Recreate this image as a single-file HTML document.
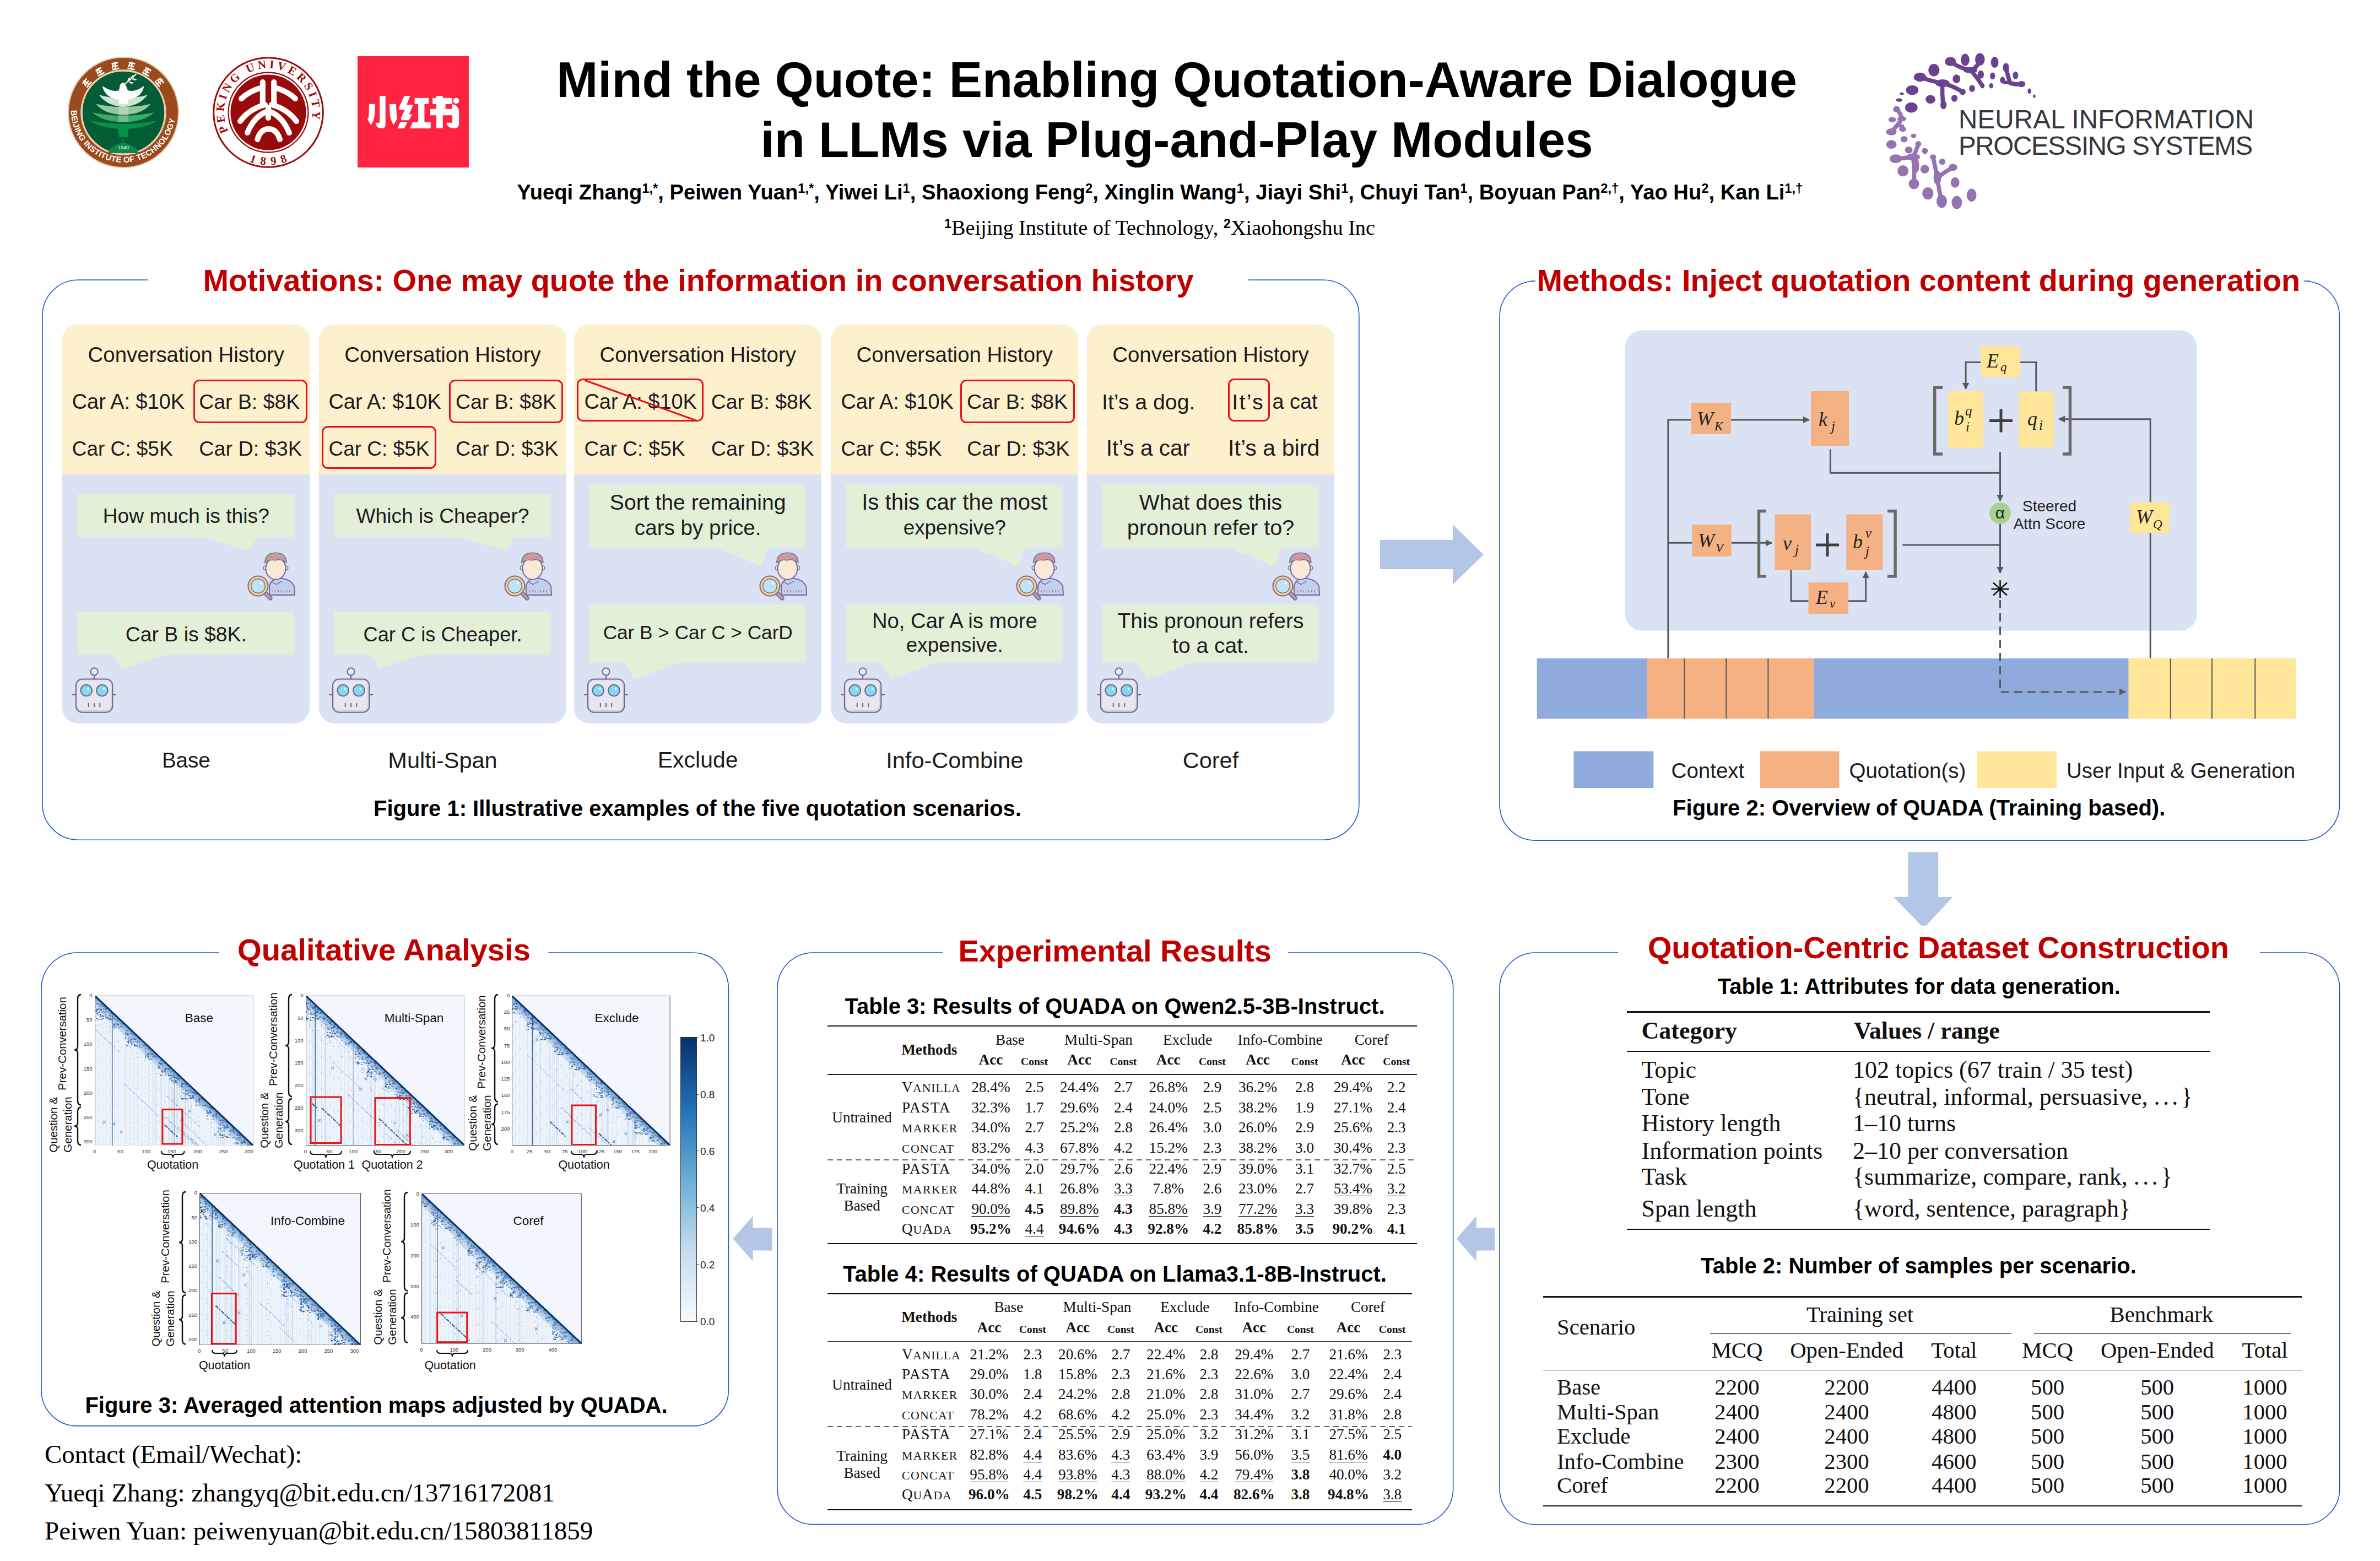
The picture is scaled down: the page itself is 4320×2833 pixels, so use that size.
<!DOCTYPE html>
<html><head><meta charset="utf-8"><style>
html,body{margin:0;padding:0;background:#fff;}
body{width:4320px;height:2833px;position:relative;overflow:hidden;}
.t{position:absolute;white-space:nowrap;}
.a{position:absolute;}
sup{font-size:0.62em;vertical-align:0.52em;line-height:0;}
.sc{font-size:0.8em;}
</style></head><body>
<svg class="a" style="left:120.5px;top:100.5px" width="206" height="206" viewBox="-103 -103 206 206">
<defs><path id="bitarc" d="M-95 -4 A95 95 0 1 0 95 -4"/></defs>
<circle r="100" fill="#9a4a1c" stroke="#e6c7a4" stroke-width="2"/>
<circle r="76" fill="#045c36" stroke="#ecd0ad" stroke-width="3.5"/>
<text font-family="Liberation Sans" font-weight="700" font-size="14.8" fill="#fff"><textPath href="#bitarc" textLength="282" lengthAdjust="spacing">BEIJING INSTITUTE OF TECHNOLOGY</textPath></text>
<g transform="translate(-66.8 -54.1) rotate(-51.0)" fill="#fff"><rect x="-6" y="-6" width="12" height="2.6"/><rect x="-5" y="-0.5" width="10" height="2.4"/><rect x="-6.5" y="4.5" width="13" height="2.6"/><rect x="-1.3" y="-7" width="2.6" height="14"/><rect x="-5.5" y="-3" width="2.2" height="8" transform="rotate(20)"/></g><g transform="translate(-43.0 -74.5) rotate(-30.0)" fill="#fff"><rect x="-6" y="-6" width="12" height="2.6"/><rect x="-5" y="-0.5" width="10" height="2.4"/><rect x="-6.5" y="4.5" width="13" height="2.6"/><rect x="-1.3" y="-7" width="2.6" height="14"/><rect x="-5.5" y="-3" width="2.2" height="8" transform="rotate(20)"/></g><g transform="translate(-14.9 -84.7) rotate(-10.0)" fill="#fff"><rect x="-6" y="-6" width="12" height="2.6"/><rect x="-5" y="-0.5" width="10" height="2.4"/><rect x="-6.5" y="4.5" width="13" height="2.6"/><rect x="-1.3" y="-7" width="2.6" height="14"/><rect x="-5.5" y="-3" width="2.2" height="8" transform="rotate(20)"/></g><g transform="translate(14.9 -84.7) rotate(10.0)" fill="#fff"><rect x="-6" y="-6" width="12" height="2.6"/><rect x="-5" y="-0.5" width="10" height="2.4"/><rect x="-6.5" y="4.5" width="13" height="2.6"/><rect x="-1.3" y="-7" width="2.6" height="14"/><rect x="-5.5" y="-3" width="2.2" height="8" transform="rotate(20)"/></g><g transform="translate(43.0 -74.5) rotate(30.0)" fill="#fff"><rect x="-6" y="-6" width="12" height="2.6"/><rect x="-5" y="-0.5" width="10" height="2.4"/><rect x="-6.5" y="4.5" width="13" height="2.6"/><rect x="-1.3" y="-7" width="2.6" height="14"/><rect x="-5.5" y="-3" width="2.2" height="8" transform="rotate(20)"/></g><g transform="translate(65.9 -55.3) rotate(50.0)" fill="#fff"><rect x="-6" y="-6" width="12" height="2.6"/><rect x="-5" y="-0.5" width="10" height="2.4"/><rect x="-6.5" y="4.5" width="13" height="2.6"/><rect x="-1.3" y="-7" width="2.6" height="14"/><rect x="-5.5" y="-3" width="2.2" height="8" transform="rotate(20)"/></g>
<path d="M-44.4 -31.7 Q0 -20 43.7 -31.7 Q30 -12 0 -9.9 Q-30 -12 -44.4 -31.7Z" fill="#cde5d3"/>
<path d="M-50 -15.5 Q0 -4 49.6 -15.5 Q34 4 0 4.2 Q-34 4 -50 -15.5Z" fill="#93c9a0"/>
<path d="M-56.4 0 Q0 12 55.9 0 Q38 17 0 17.6 Q-38 17 -56.4 0Z" fill="#3fa96a"/>
<path d="M-61.3 14.8 Q0 27 61.3 14.8 Q42 29 0 30.4 Q-42 29 -61.3 14.8Z" fill="#05934a"/>
<path d="M-10 -12 H10 L8 4 H-8Z M-9 4 H9 L9 17 H-9Z" fill="#ffffff" fill-opacity="0.25"/>
<path d="M-9.9 30 L9.2 30 L8 44.8 L-8 44.8Z" fill="#05934a"/>
<path d="M-38.3 -48 Q-20 -36 -8 -40 L-6 -50 Q0 -58 4 -50 L8 -40 Q20 -36 37.4 -48 Q34 -30 18 -26 Q12 -22 8 -24 L8.5 -14.8 L-8.5 -14.8 L-8 -24 Q-12 -22 -18 -26 Q-34 -30 -38.3 -48Z" fill="#fff"/>
<path d="M3 -52 Q14 -60 23.3 -69.8" stroke="#fff" stroke-width="2" fill="none"/>
<g fill="#fff"><ellipse cx="10" cy="-60" rx="4" ry="1.6" transform="rotate(-60 10 -60)"/><ellipse cx="16" cy="-64" rx="4" ry="1.6" transform="rotate(-60 16 -64)"/><ellipse cx="14" cy="-54" rx="4" ry="1.6" transform="rotate(10 14 -54)"/><ellipse cx="20" cy="-60" rx="4" ry="1.6" transform="rotate(10 20 -60)"/></g>
<path d="M-1 47.9 V56 M-26.8 73 Q-20 60 0 56 Q20 60 26.8 73Z" fill="#10874a" stroke="#10874a" stroke-width="2"/>
<text x="0" y="66.5" font-family="Liberation Sans" font-size="9" fill="#e8f4ec" text-anchor="middle">1940</text>
</svg><svg class="a" style="left:383.7px;top:100.5px" width="206" height="206" viewBox="-103 -103 206 206">
<defs><path id="pkuarc" d="M-72.5 34.5 A80.3 80.3 0 1 1 72.5 34.5"/></defs>
<circle r="99.3" fill="#fff" stroke="#990a0a" stroke-width="3"/>
<circle r="72.4" fill="none" stroke="#990a0a" stroke-width="2.2"/>
<circle r="68.6" fill="#990a0a"/>
<text font-family="Liberation Serif" font-size="21" font-weight="700" fill="#990a0a"><textPath href="#pkuarc" textLength="300" lengthAdjust="spacing">PEKING UNIVERSITY</textPath></text>
<g font-family="Liberation Serif" font-size="21" font-weight="700" fill="#990a0a" text-anchor="middle">
<text transform="translate(-30 91) rotate(20)">1</text><text transform="translate(-10 95) rotate(6)">8</text><text transform="translate(10 95) rotate(-6)">9</text><text transform="translate(30 91) rotate(-20)">8</text></g>
<g fill="none" stroke="#fff" stroke-width="10" stroke-linecap="round">
<path d="M-10.2 -55 V-14"/><path d="M10.2 -55 V-14"/>
<path d="M-15 -44 Q-35 -38 -49 -25"/><path d="M15 -44 Q35 -38 49 -25"/>
<path d="M-6 -14 Q-35 -6 -51 16"/><path d="M6 -14 Q35 -6 51 16"/>
<path d="M0 -8 V10"/>
<path d="M-4 -1 Q-26 8 -38 37"/><path d="M4 -1 Q26 8 38 37"/>
<path d="M-19.7 49 Q-14 30 0.5 30 Q15 30 21 49"/>
</g>
</svg><svg class="a" style="left:649px;top:102px" width="202" height="202" viewBox="-145.4 -766.9 2670.8 2670.8">
<rect x="-145.4" y="-766.9" width="2670.8" height="2670.8" fill="#fe2341"/>
<g fill="#fff">
<path d="M385 185H525V880Q525 962 440 962H420Q292 962 285 830H385Z"/>
<path d="M135 380H280L262 650Q250 780 175 885L90 740L120 700Z"/>
<path d="M620 380H775L800 740L720 885Q640 760 630 600Z"/>
<path d="M975 185H1115L1035 395H1190L1090 630H1165L1085 770H905L895 720L990 520H870Q840 500 855 450Z"/>
<path d="M880 815H1050L975 965H810Z"/>
<path d="M1225 235H1560V380H1460V815H1610V965H1110L1175 815H1310V380H1225Z"/>
<path d="M1745 185H1900V235H2130V385H1965V495H1900V500H2120V385Q2290 400 2290 600V850Q2290 962 2180 962Q2000 962 1990 830H2130V650H1900V960H1745V650H1600V500H1745V385H1655V235H1745Z"/>
<circle cx="2222" cy="300" r="70"/>
</g></svg><svg class="a" style="left:3400px;top:80px" width="750" height="320" viewBox="0 0 2380 1015"><ellipse cx="530" cy="90" rx="25" ry="35" fill="#6a4290"/><ellipse cx="615" cy="88" rx="28" ry="36" fill="#6a4290"/><ellipse cx="445" cy="100" rx="32" ry="26" fill="#6a4290"/><ellipse cx="350" cy="150" rx="32" ry="36" fill="#6a4290"/><ellipse cx="270" cy="190" rx="36" ry="26" fill="#6a4290"/><ellipse cx="700" cy="105" rx="22" ry="32" fill="#6a4290"/><ellipse cx="765" cy="135" rx="18" ry="26" fill="#6a4290"/><ellipse cx="820" cy="180" rx="16" ry="22" fill="#6a4290"/><ellipse cx="620" cy="175" rx="18" ry="24" fill="#6a4290"/><ellipse cx="688" cy="183" rx="15" ry="20" fill="#6a4290"/><ellipse cx="745" cy="207" rx="14" ry="19" fill="#6a4290"/><ellipse cx="480" cy="200" rx="22" ry="25" fill="#6a4290"/><ellipse cx="515" cy="275" rx="18" ry="18" fill="#6a4290"/><ellipse cx="570" cy="255" rx="17" ry="20" fill="#6a4290"/><ellipse cx="630" cy="240" rx="12" ry="15" fill="#6a4290"/><ellipse cx="680" cy="240" rx="12" ry="15" fill="#6a4290"/><ellipse cx="855" cy="230" rx="22" ry="18" fill="#6a4290"/><ellipse cx="900" cy="270" rx="10" ry="15" fill="#6a4290"/><ellipse cx="928" cy="300" rx="7" ry="10" fill="#6a4290"/><ellipse cx="225" cy="265" rx="36" ry="28" fill="#6a4290"/><ellipse cx="330" cy="318" rx="28" ry="25" fill="#6a4290"/><ellipse cx="468" cy="312" rx="18" ry="20" fill="#6a4290"/><ellipse cx="405" cy="350" rx="18" ry="25" fill="#6a4290"/><ellipse cx="220" cy="365" rx="36" ry="30" fill="#6a4290"/><ellipse cx="165" cy="285" rx="12" ry="7" fill="#6a4290"/><ellipse cx="150" cy="322" rx="18" ry="10" fill="#6a4290"/><ellipse cx="400" cy="225" rx="40" ry="22" fill="#6a4290"/><ellipse cx="560" cy="150" rx="40" ry="18" fill="#6a4290"/><ellipse cx="770" cy="220" rx="30" ry="10" fill="#6a4290"/><ellipse cx="135" cy="375" rx="20" ry="18" fill="#9572b0"/><ellipse cx="165" cy="430" rx="25" ry="15" fill="#9572b0"/><ellipse cx="110" cy="435" rx="22" ry="15" fill="#9572b0"/><ellipse cx="105" cy="505" rx="30" ry="20" fill="#9572b0"/><ellipse cx="170" cy="490" rx="20" ry="15" fill="#9572b0"/><ellipse cx="233" cy="528" rx="16" ry="12" fill="#9572b0"/><ellipse cx="178" cy="548" rx="20" ry="18" fill="#9572b0"/><ellipse cx="105" cy="578" rx="30" ry="25" fill="#9572b0"/><ellipse cx="260" cy="575" rx="17" ry="17" fill="#9572b0"/><ellipse cx="205" cy="610" rx="22" ry="20" fill="#9572b0"/><ellipse cx="298" cy="615" rx="17" ry="17" fill="#9572b0"/><ellipse cx="130" cy="660" rx="35" ry="25" fill="#9572b0"/><ellipse cx="230" cy="650" rx="40" ry="20" fill="#9572b0"/><ellipse cx="345" cy="650" rx="18" ry="15" fill="#9572b0"/><ellipse cx="398" cy="677" rx="18" ry="18" fill="#9572b0"/><ellipse cx="460" cy="710" rx="25" ry="20" fill="#9572b0"/><ellipse cx="172" cy="730" rx="32" ry="32" fill="#9572b0"/><ellipse cx="297" cy="720" rx="25" ry="25" fill="#9572b0"/><ellipse cx="370" cy="770" rx="22" ry="40" fill="#9572b0"/><ellipse cx="472" cy="797" rx="25" ry="30" fill="#9572b0"/><ellipse cx="235" cy="805" rx="30" ry="30" fill="#9572b0"/><ellipse cx="315" cy="860" rx="32" ry="35" fill="#9572b0"/><ellipse cx="395" cy="905" rx="30" ry="38" fill="#9572b0"/><ellipse cx="482" cy="912" rx="30" ry="38" fill="#9572b0"/><ellipse cx="567" cy="870" rx="28" ry="37" fill="#9572b0"/><ellipse cx="250" cy="700" rx="15" ry="40" fill="#9572b0"/><ellipse cx="150" cy="470" rx="30" ry="10" fill="#9572b0"/><g fill="none" stroke-linecap="round"><g stroke="#6a4290" stroke-width="24"><path d="M445 100 Q500 140 560 150 Q600 140 615 88"/><path d="M560 150 Q600 190 628 240"/><path d="M270 190 Q340 215 400 225 Q460 240 515 275"/><path d="M400 225 Q395 290 405 350"/><path d="M765 135 Q780 200 790 225 Q830 235 855 230"/></g><g stroke="#9572b0" stroke-width="24"><path d="M130 660 Q190 655 230 650 Q250 610 260 575"/><path d="M230 650 Q240 720 235 805"/><path d="M345 650 Q360 720 370 770 Q420 730 460 710"/><path d="M370 770 Q380 850 395 905"/><path d="M135 375 Q160 400 165 430 Q140 470 105 505"/></g></g></svg><div class="t" style="left:3555.0px;top:192.8px;font:400 47.5px/1 'Liberation Sans', sans-serif;color:#34373c;letter-spacing:0.18px;">NEURAL INFORMATION</div><div class="t" style="left:3555.0px;top:240.8px;font:400 47.5px/1 'Liberation Sans', sans-serif;color:#34373c;letter-spacing:-1.34px;">PROCESSING SYSTEMS</div><div class="t" style="left:-864.0px;width:6000px;text-align:center;top:100.3px;font:700 90.35px/1 'Liberation Sans', sans-serif;color:#000;">Mind the Quote: Enabling Quotation-Aware Dialogue</div><div class="t" style="left:-864.0px;width:6000px;text-align:center;top:208.5px;font:700 90.35px/1 'Liberation Sans', sans-serif;color:#000;">in LLMs via Plug-and-Play Modules</div><div class="t" style="left:-894.7px;width:6000px;text-align:center;top:330.1px;font:700 38.2px/1 'Liberation Sans', sans-serif;color:#000;">Yueqi Zhang<sup>1,*</sup>, Peiwen Yuan<sup>1,*</sup>, Yiwei Li<sup>1</sup>, Shaoxiong Feng<sup>2</sup>, Xinglin Wang<sup>1</sup>, Jiayi Shi<sup>1</sup>, Chuyi Tan<sup>1</sup>, Boyuan Pan<sup>2,†</sup>, Yao Hu<sup>2</sup>, Kan Li<sup>1,†</sup></div><div class="t" style="left:-895.1px;width:6000px;text-align:center;top:393.8px;font:400 38.2px/1 'Liberation Serif', serif;color:#000;"><sup style="font-family:Liberation Sans;font-weight:700">1</sup>Beijing Institute of Technology, <sup style="font-family:Liberation Sans;font-weight:700">2</sup>Xiaohongshu Inc</div><svg class="a" style="left:74.6px;top:506.3px" width="2393.9" height="1020.2" viewBox="74.6 506.3 2393.9 1020.2"><path d="M268 508.3 H141.6 A65 65 0 0 0 76.6 573.3 V1459.5 A65 65 0 0 0 141.6 1524.5 H2401.5 A65 65 0 0 0 2466.5 1459.5 V573.3 A65 65 0 0 0 2401.5 508.3 H2265" fill="none" stroke="#1f58c4" stroke-width="1.6"/></svg><div class="t" style="left:368.5px;top:481.3px;font:700 55.8px/1 'Liberation Sans', sans-serif;color:#c00000;">Motivations: One may quote the information in conversation history</div><svg width="0" height="0" style="position:absolute"><defs>
<symbol id="person" viewBox="1600 60 440 440">
<path d="M1800 440 L1800 372 Q1802 312 1862 296 L1900 292 Q1992 302 2020 362 L2025 440 Z" fill="#c4cfeb" stroke="#7b6b9c" stroke-width="10" stroke-linejoin="round"/>
<path d="M1815 318 L1860 346 L1910 318" fill="none" stroke="#7b6b9c" stroke-width="8"/>
<circle cx="1764" cy="200" r="17" fill="#f9ead8" stroke="#7b6b9c" stroke-width="8"/>
<circle cx="1948" cy="200" r="17" fill="#f9ead8" stroke="#7b6b9c" stroke-width="8"/>
<ellipse cx="1856" cy="205" rx="88" ry="98" fill="#f9ead8" stroke="#7b6b9c" stroke-width="10"/>
<path d="M1760 155 Q1762 66 1858 66 Q1952 68 1950 155 Q1904 116 1852 132 Q1798 122 1760 155 Z" fill="#c99a9b" stroke="#7b6b9c" stroke-width="8" stroke-linejoin="round"/>
<g stroke="#7b6b9c" stroke-width="5"><path d="M1830 398v14M1855 398v14M1880 398v14M1905 398v14M1930 398v14M1955 398v14M1980 398v14"/></g>
<line x1="1765" y1="425" x2="1808" y2="468" stroke="#7b6b9c" stroke-width="38" stroke-linecap="round"/>
<line x1="1765" y1="425" x2="1808" y2="468" stroke="#c99a9b" stroke-width="20" stroke-linecap="round"/>
<circle cx="1700" cy="360" r="88" fill="#f3d37c" stroke="#7b6b9c" stroke-width="10"/>
<circle cx="1700" cy="360" r="62" fill="#bfe3f6" stroke="#7b6b9c" stroke-width="7"/>
<circle cx="1726" cy="336" r="9" fill="#fff"/>
</symbol>
<symbol id="robot" viewBox="40 1070 420 430">
<path d="M55 1322H88M412 1322H445M250 1150V1185" stroke="#6f6692" stroke-width="10"/>
<circle cx="250" cy="1118" r="32" fill="#ebe9f2" stroke="#6f6692" stroke-width="10"/>
<rect x="88" y="1185" width="324" height="293" rx="55" fill="#d6d4e2" stroke="#6f6692" stroke-width="10"/>
<rect x="100" y="1195" width="296" height="262" rx="45" fill="#e8e7ef"/>
<circle cx="180" cy="1285" r="50" fill="#86d8f2" stroke="#6f6692" stroke-width="10"/>
<circle cx="320" cy="1285" r="50" fill="#86d8f2" stroke="#6f6692" stroke-width="10"/>
<circle cx="196" cy="1272" r="9" fill="#e4f7fd"/><circle cx="336" cy="1272" r="9" fill="#e4f7fd"/>
<path d="M200 1395V1432M250 1395V1432M300 1395V1432" stroke="#6f6692" stroke-width="10"/>
</symbol>
</defs></svg><div class="a" style="left:113.3px;top:589.2px;width:449px;height:723.8px;border-radius:28px;overflow:hidden;background:#dae2f4"><div style="height:272.1px;background:#fdf0cc"></div></div><div class="t" style="left:-2662.2px;width:6000px;text-align:center;top:624.5px;font:400 38.42px/1 'Liberation Sans', sans-serif;color:#1c1c1c;">Conversation History</div><div class="t" style="left:130.7px;top:710.9px;font:400 37.91px/1 'Liberation Sans', sans-serif;color:#1c1c1c;">Car A: $10K</div><div class="t" style="left:361.3px;top:711.3px;font:400 37.4px/1 'Liberation Sans', sans-serif;color:#1c1c1c;">Car B: $8K</div><div class="t" style="left:130.7px;top:796.2px;font:400 36.98px/1 'Liberation Sans', sans-serif;color:#1c1c1c;">Car C: $5K</div><div class="t" style="left:361.3px;top:795.6px;font:400 37.71px/1 'Liberation Sans', sans-serif;color:#1c1c1c;">Car D: $3K</div><svg class="a" style="left:113.3px;top:589.2px" width="449" height="723.8" viewBox="113.3 589.2 449 723.8"><path d="M140.7 897H533.6999999999999V975H466.8L452.8 1000L369.3 975H140.7Z" fill="#e3f0d8"/><path d="M140.7 1111H533.6999999999999V1189H303.3L222.3 1213L205.8 1189H140.7Z" fill="#e3f0d8"/></svg><div class="t" style="left:-2662.2px;width:6000px;text-align:center;top:918.0px;font:400 37.26px/1 'Liberation Sans', sans-serif;color:#1c1c1c;">How much is this?</div><div class="t" style="left:-2662.2px;width:6000px;text-align:center;top:1132.9px;font:400 37.4px/1 'Liberation Sans', sans-serif;color:#1c1c1c;">Car B is $8K.</div><svg class="a" style="left:448.0px;top:1002.3px" width="90.2" height="90.2"><use href="#person"/></svg><svg class="a" style="left:128.2px;top:1209.4px" width="86.1" height="88.2"><use href="#robot"/></svg><div class="t" style="left:-2662.2px;width:6000px;text-align:center;top:1361.4px;font:400 38.5px/1 'Liberation Sans', sans-serif;color:#1c1c1c;">Base</div><div class="a" style="left:579px;top:589.2px;width:449px;height:723.8px;border-radius:28px;overflow:hidden;background:#dae2f4"><div style="height:272.1px;background:#fdf0cc"></div></div><div class="t" style="left:-2196.5px;width:6000px;text-align:center;top:624.5px;font:400 38.42px/1 'Liberation Sans', sans-serif;color:#1c1c1c;">Conversation History</div><div class="t" style="left:596.5px;top:710.9px;font:400 37.91px/1 'Liberation Sans', sans-serif;color:#1c1c1c;">Car A: $10K</div><div class="t" style="left:827.0px;top:711.3px;font:400 37.4px/1 'Liberation Sans', sans-serif;color:#1c1c1c;">Car B: $8K</div><div class="t" style="left:596.5px;top:796.2px;font:400 36.98px/1 'Liberation Sans', sans-serif;color:#1c1c1c;">Car C: $5K</div><div class="t" style="left:827.0px;top:795.6px;font:400 37.71px/1 'Liberation Sans', sans-serif;color:#1c1c1c;">Car D: $3K</div><svg class="a" style="left:579px;top:589.2px" width="449" height="723.8" viewBox="579 589.2 449 723.8"><path d="M606.4 897H999.4V975H932.5L918.5 1000L835 975H606.4Z" fill="#e3f0d8"/><path d="M606.4 1111H999.4V1189H769L688 1213L671.5 1189H606.4Z" fill="#e3f0d8"/></svg><div class="t" style="left:-2196.5px;width:6000px;text-align:center;top:918.0px;font:400 37.18px/1 'Liberation Sans', sans-serif;color:#1c1c1c;">Which is Cheaper?</div><div class="t" style="left:-2196.5px;width:6000px;text-align:center;top:1133.9px;font:400 36.24px/1 'Liberation Sans', sans-serif;color:#1c1c1c;">Car C is Cheaper.</div><svg class="a" style="left:913.7px;top:1002.3px" width="90.2" height="90.2"><use href="#person"/></svg><svg class="a" style="left:593.9px;top:1209.4px" width="86.1" height="88.2"><use href="#robot"/></svg><div class="t" style="left:-2196.5px;width:6000px;text-align:center;top:1358.9px;font:400 41.5px/1 'Liberation Sans', sans-serif;color:#1c1c1c;">Multi-Span</div><div class="a" style="left:1042.2px;top:589.2px;width:449px;height:723.8px;border-radius:28px;overflow:hidden;background:#dae2f4"><div style="height:272.1px;background:#fdf0cc"></div></div><div class="t" style="left:-1733.3px;width:6000px;text-align:center;top:624.5px;font:400 38.42px/1 'Liberation Sans', sans-serif;color:#1c1c1c;">Conversation History</div><div class="t" style="left:1060.5px;top:710.9px;font:400 37.91px/1 'Liberation Sans', sans-serif;color:#1c1c1c;">Car A: $10K</div><div class="t" style="left:1290.8px;top:711.3px;font:400 37.4px/1 'Liberation Sans', sans-serif;color:#1c1c1c;">Car B: $8K</div><div class="t" style="left:1060.5px;top:796.2px;font:400 36.98px/1 'Liberation Sans', sans-serif;color:#1c1c1c;">Car C: $5K</div><div class="t" style="left:1290.8px;top:795.6px;font:400 37.71px/1 'Liberation Sans', sans-serif;color:#1c1c1c;">Car D: $3K</div><svg class="a" style="left:1042.2px;top:589.2px" width="449" height="723.8" viewBox="1042.2 589.2 449 723.8"><path d="M1069.6000000000001 880H1462.6V993.8H1395.7L1381.7 1027.8L1298.2 993.8H1069.6000000000001Z" fill="#e3f0d8"/><path d="M1069.6000000000001 1097H1462.6V1203H1232.2L1151.2 1233L1134.7 1203H1069.6000000000001Z" fill="#e3f0d8"/></svg><div class="t" style="left:-1733.3px;width:6000px;text-align:center;top:892.4px;font:400 39.14px/1 'Liberation Sans', sans-serif;color:#1c1c1c;">Sort the remaining</div><div class="t" style="left:-1733.3px;width:6000px;text-align:center;top:938.5px;font:400 38.63px/1 'Liberation Sans', sans-serif;color:#1c1c1c;">cars by price.</div><div class="t" style="left:-1733.3px;width:6000px;text-align:center;top:1130.2px;font:400 35.2px/1 'Liberation Sans', sans-serif;color:#1c1c1c;">Car B &gt; Car C &gt; CarD</div><svg class="a" style="left:1376.9px;top:1002.3px" width="90.2" height="90.2"><use href="#person"/></svg><svg class="a" style="left:1057.1px;top:1209.4px" width="86.1" height="88.2"><use href="#robot"/></svg><div class="t" style="left:-1733.3px;width:6000px;text-align:center;top:1359.3px;font:400 41px/1 'Liberation Sans', sans-serif;color:#1c1c1c;">Exclude</div><div class="a" style="left:1508.3px;top:589.2px;width:449px;height:723.8px;border-radius:28px;overflow:hidden;background:#dae2f4"><div style="height:272.1px;background:#fdf0cc"></div></div><div class="t" style="left:-1267.2px;width:6000px;text-align:center;top:624.5px;font:400 38.42px/1 'Liberation Sans', sans-serif;color:#1c1c1c;">Conversation History</div><div class="t" style="left:1526.5px;top:710.9px;font:400 37.91px/1 'Liberation Sans', sans-serif;color:#1c1c1c;">Car A: $10K</div><div class="t" style="left:1755.0px;top:711.3px;font:400 37.4px/1 'Liberation Sans', sans-serif;color:#1c1c1c;">Car B: $8K</div><div class="t" style="left:1526.5px;top:796.2px;font:400 36.98px/1 'Liberation Sans', sans-serif;color:#1c1c1c;">Car C: $5K</div><div class="t" style="left:1755.0px;top:795.6px;font:400 37.71px/1 'Liberation Sans', sans-serif;color:#1c1c1c;">Car D: $3K</div><svg class="a" style="left:1508.3px;top:589.2px" width="449" height="723.8" viewBox="1508.3 589.2 449 723.8"><path d="M1535.7 880H1928.6999999999998V993.8H1861.8L1847.8 1027.8L1764.3 993.8H1535.7Z" fill="#e3f0d8"/><path d="M1535.7 1097H1928.6999999999998V1203H1698.3L1617.3 1233L1600.8 1203H1535.7Z" fill="#e3f0d8"/></svg><div class="t" style="left:-1267.2px;width:6000px;text-align:center;top:891.5px;font:400 40.2px/1 'Liberation Sans', sans-serif;color:#1c1c1c;">Is this car the most</div><div class="t" style="left:-1267.2px;width:6000px;text-align:center;top:940.0px;font:400 36.8px/1 'Liberation Sans', sans-serif;color:#1c1c1c;">expensive?</div><div class="t" style="left:-1267.2px;width:6000px;text-align:center;top:1107.6px;font:400 38.25px/1 'Liberation Sans', sans-serif;color:#1c1c1c;">No, Car A is more</div><div class="t" style="left:-1267.2px;width:6000px;text-align:center;top:1153.3px;font:400 36.8px/1 'Liberation Sans', sans-serif;color:#1c1c1c;">expensive.</div><svg class="a" style="left:1843.0px;top:1002.3px" width="90.2" height="90.2"><use href="#person"/></svg><svg class="a" style="left:1523.2px;top:1209.4px" width="86.1" height="88.2"><use href="#robot"/></svg><div class="t" style="left:-1267.2px;width:6000px;text-align:center;top:1358.9px;font:400 41.5px/1 'Liberation Sans', sans-serif;color:#1c1c1c;">Info-Combine</div><div class="a" style="left:1973px;top:589.2px;width:449px;height:723.8px;border-radius:28px;overflow:hidden;background:#dae2f4"><div style="height:272.1px;background:#fdf0cc"></div></div><div class="t" style="left:-802.5px;width:6000px;text-align:center;top:624.5px;font:400 38.42px/1 'Liberation Sans', sans-serif;color:#1c1c1c;">Conversation History</div><div class="t" style="left:2000.0px;top:709.8px;font:400 39.23px/1 'Liberation Sans', sans-serif;color:#1c1c1c;">It’s a dog.</div><div class="t" style="left:2309.4px;top:710.9px;font:400 37.92px/1 'Liberation Sans', sans-serif;color:#1c1c1c;">a cat</div><div class="t" style="left:2007.8px;top:793.2px;font:400 40.5px/1 'Liberation Sans', sans-serif;color:#1c1c1c;">It’s a car</div><div class="t" style="left:2229.0px;top:792.6px;font:400 41.2px/1 'Liberation Sans', sans-serif;color:#1c1c1c;">It’s a bird</div><svg class="a" style="left:1973px;top:589.2px" width="449" height="723.8" viewBox="1973 589.2 449 723.8"><path d="M2000.4 880H2393.4V993.8H2326.5L2312.5 1027.8L2229 993.8H2000.4Z" fill="#e3f0d8"/><path d="M2000.4 1097H2393.4V1203H2163L2082 1233L2065.5 1203H2000.4Z" fill="#e3f0d8"/></svg><div class="t" style="left:-802.5px;width:6000px;text-align:center;top:892.3px;font:400 39.23px/1 'Liberation Sans', sans-serif;color:#1c1c1c;">What does this</div><div class="t" style="left:-802.5px;width:6000px;text-align:center;top:937.7px;font:400 39.55px/1 'Liberation Sans', sans-serif;color:#1c1c1c;">pronoun refer to?</div><div class="t" style="left:-802.5px;width:6000px;text-align:center;top:1107.0px;font:400 38.99px/1 'Liberation Sans', sans-serif;color:#1c1c1c;">This pronoun refers</div><div class="t" style="left:-802.5px;width:6000px;text-align:center;top:1151.5px;font:400 39.04px/1 'Liberation Sans', sans-serif;color:#1c1c1c;">to a cat.</div><svg class="a" style="left:2307.7px;top:1002.3px" width="90.2" height="90.2"><use href="#person"/></svg><svg class="a" style="left:1987.9px;top:1209.4px" width="86.1" height="88.2"><use href="#robot"/></svg><div class="t" style="left:-802.5px;width:6000px;text-align:center;top:1358.9px;font:400 41.5px/1 'Liberation Sans', sans-serif;color:#1c1c1c;">Coref</div><div class="t" style="left:2236.3px;top:709.6px;font:400 39.5px/1 'Liberation Sans', sans-serif;color:#1c1c1c;letter-spacing:2.2px;">It’s</div><div class="a" style="left:350.5px;top:689px;width:201.5px;height:72.5px;border:3px solid #e8101a;border-radius:11px"></div><div class="a" style="left:814.7px;top:689px;width:201.5px;height:72.5px;border:3px solid #e8101a;border-radius:11px"></div><div class="a" style="left:584px;top:772.6px;width:202px;height:72.39999999999998px;border:3px solid #e8101a;border-radius:11px"></div><div class="a" style="left:1047px;top:686.7px;width:223.70000000000005px;height:72.29999999999995px;border:3px solid #e8101a;border-radius:11px"></div><div class="a" style="left:1742.8px;top:689px;width:202.20000000000005px;height:73px;border:3px solid #e8101a;border-radius:11px"></div><div class="a" style="left:2229px;top:686.7px;width:69.59999999999991px;height:72.29999999999995px;border:3px solid #e8101a;border-radius:11px"></div><svg class="a" style="left:1040px;top:680px" width="240" height="90" viewBox="1040 680 240 90"><line x1="1061" y1="690" x2="1263" y2="763" stroke="#e8101a" stroke-width="3"/></svg><div class="t" style="left:-1734.0px;width:6000px;text-align:center;top:1447.1px;font:700 40px/1 'Liberation Sans', sans-serif;color:#000;">Figure 1: Illustrative examples of the five quotation scenarios.</div><svg class="a" style="left:2500px;top:945px" width="200" height="125" viewBox="2500 945 200 125"><path d="M2505 980H2637V952L2693 1006.4L2637 1061V1033H2505Z" fill="#b4c6e7"/></svg><svg class="a" style="left:2719.5px;top:507.6px" width="1528.5" height="1019.1999999999999" viewBox="2719.5 507.6 1528.5 1019.1999999999999"><path d="M2777.5 509.6 H2786.5 A65 65 0 0 0 2721.5 574.6 V1459.8 A65 65 0 0 0 2786.5 1524.8 H4181 A65 65 0 0 0 4246 1459.8 V574.6 A65 65 0 0 0 4181 509.6 H4192" fill="none" stroke="#1f58c4" stroke-width="1.6"/></svg><div class="t" style="left:2789.5px;top:481.3px;font:700 55.8px/1 'Liberation Sans', sans-serif;color:#c00000;">Methods: Inject quotation content during generation</div><svg class="a" style="left:2700px;top:580px" width="1560" height="900" viewBox="2700 580 1560 900"><defs><marker id="ah" viewBox="0 0 10 10" refX="9" refY="5" markerWidth="4.2" markerHeight="4.2" orient="auto-start-reverse"><path d="M0 0L10 5L0 10Z" fill="#595959"/></marker></defs><rect x="2949.8" y="599.6" width="1038" height="545" rx="30" fill="#dae2f4"/><path d="M3027.9 1194.8V761.9H3069.5" fill="none" stroke="#595959" stroke-width="3"/><path d="M3027.9 985.3H3071" fill="none" stroke="#595959" stroke-width="3"/><path d="M3141.9 761.9H3284" fill="none" stroke="#595959" stroke-width="3" marker-end="url(#ah)"/><path d="M3322.4 815.3V858.3H3630.5" fill="none" stroke="#595959" stroke-width="3"/><path d="M3630.5 820V909" fill="none" stroke="#595959" stroke-width="3" marker-end="url(#ah)"/><path d="M3142.7 985.3H3216" fill="none" stroke="#595959" stroke-width="3" marker-end="url(#ah)"/><path d="M3453.3 989H3630.5" fill="none" stroke="#595959" stroke-width="3"/><path d="M3630.5 951V1040" fill="none" stroke="#595959" stroke-width="3" marker-end="url(#ah)"/><path d="M3903.2 1194.8V760.7H3737" fill="none" stroke="#595959" stroke-width="3" marker-end="url(#ah)"/><path d="M3595.4 657.4H3568.1V706" fill="none" stroke="#595959" stroke-width="3" marker-end="url(#ah)"/><path d="M3667.1 657.4H3695.8V710.5" fill="none" stroke="#595959" stroke-width="3"/><path d="M3251 1034V1090.7H3282.6" fill="none" stroke="#595959" stroke-width="3"/><path d="M3355 1090.7H3386.6V1038" fill="none" stroke="#595959" stroke-width="3" marker-end="url(#ah)"/><rect x="3069.5" y="730.9" width="72.4" height="57.1" fill="#f4b183"/><rect x="3287" y="709.8" width="69.0" height="99.5" fill="#f4b183"/><rect x="3595.4" y="628" width="71.7" height="56.0" fill="#ffe699"/><rect x="3536" y="709.8" width="63.7" height="103.7" fill="#ffe699"/><rect x="3664.3" y="710.5" width="63.8" height="101.1" fill="#ffe699"/><rect x="3071" y="952" width="71.7" height="57.7" fill="#f4b183"/><rect x="3221.6" y="933.6" width="65.3" height="100.4" fill="#f4b183"/><rect x="3351.4" y="933.6" width="66.1" height="100.4" fill="#f4b183"/><rect x="3282.6" y="1057" width="72.4" height="57.4" fill="#f4b183"/><rect x="3865.9" y="911.4" width="71.7" height="55.9" fill="#ffe699"/><path d="M3526.1 703.2H3511.7V824.0H3526.1" fill="none" stroke="#6b6b6b" stroke-width="5.5"/><path d="M3744 703.2H3757.5V824.0H3744" fill="none" stroke="#6b6b6b" stroke-width="5.5"/><path d="M3205.8 927.5H3192.5V1045.9H3205.8" fill="none" stroke="#6b6b6b" stroke-width="5.5"/><path d="M3426 927.5H3440.1V1045.9H3426" fill="none" stroke="#6b6b6b" stroke-width="5.5"/><path d="M3611 763.5H3653M3632 742.5V784.5" stroke="#404040" stroke-width="5"/><path d="M3296 988.9H3338M3317 967.9V1009.9" stroke="#404040" stroke-width="5"/><circle cx="3630.5" cy="931.5" r="19.4" fill="#a9d18e"/><text x="3630.5" y="941" font-family="Liberation Sans" font-size="30" fill="#222" text-anchor="middle">α</text><text x="3720" y="927.5" font-family="Liberation Sans" font-size="28" fill="#222" text-anchor="middle">Steered</text><text x="3720" y="960" font-family="Liberation Sans" font-size="28" fill="#222" text-anchor="middle">Attn Score</text><path d="M3630.5 1053V1085M3618 1057.5L3643 1080.5M3618 1080.5L3643 1057.5M3614.5 1069H3646.5" stroke="#111" stroke-width="2.5"/><text x="3080" y="772" font-family="Liberation Serif" font-style="italic" font-size="36" fill="#222">W</text><text x="3112" y="781" font-family="Liberation Serif" font-style="italic" font-size="23" fill="#222">K</text><text x="3301" y="773" font-family="Liberation Serif" font-style="italic" font-size="36" fill="#222">k</text><text x="3324" y="782" font-family="Liberation Serif" font-style="italic" font-size="25" fill="#222">j</text><text x="3606" y="667" font-family="Liberation Serif" font-style="italic" font-size="36" fill="#222">E</text><text x="3631" y="674" font-family="Liberation Serif" font-style="italic" font-size="23" fill="#222">q</text><text x="3547" y="771" font-family="Liberation Serif" font-style="italic" font-size="36" fill="#222">b</text><text x="3567" y="754" font-family="Liberation Serif" font-style="italic" font-size="25" fill="#222">q</text><text x="3568" y="783" font-family="Liberation Serif" font-style="italic" font-size="25" fill="#222">i</text><text x="3680" y="772" font-family="Liberation Serif" font-style="italic" font-size="36" fill="#222">q</text><text x="3701" y="780" font-family="Liberation Serif" font-style="italic" font-size="25" fill="#222">i</text><text x="3082" y="993" font-family="Liberation Serif" font-style="italic" font-size="36" fill="#222">W</text><text x="3114" y="1002" font-family="Liberation Serif" font-style="italic" font-size="23" fill="#222">V</text><text x="3236" y="998" font-family="Liberation Serif" font-style="italic" font-size="36" fill="#222">v</text><text x="3258" y="1006" font-family="Liberation Serif" font-style="italic" font-size="25" fill="#222">j</text><text x="3363" y="995" font-family="Liberation Serif" font-style="italic" font-size="36" fill="#222">b</text><text x="3386" y="976" font-family="Liberation Serif" font-style="italic" font-size="25" fill="#222">v</text><text x="3386" y="1009" font-family="Liberation Serif" font-style="italic" font-size="25" fill="#222">j</text><text x="3296" y="1096" font-family="Liberation Serif" font-style="italic" font-size="36" fill="#222">E</text><text x="3321" y="1103" font-family="Liberation Serif" font-style="italic" font-size="23" fill="#222">v</text><text x="3877" y="950" font-family="Liberation Serif" font-style="italic" font-size="36" fill="#222">W</text><text x="3908" y="959" font-family="Liberation Serif" font-style="italic" font-size="23" fill="#222">Q</text><rect x="2789.7" y="1194.8" width="200.2" height="109.7" fill="#8faadc"/><rect x="2989.9" y="1194.8" width="302.7" height="109.7" fill="#f4b183"/><rect x="3292.6" y="1194.8" width="571.1" height="109.7" fill="#8faadc"/><rect x="3863.7" y="1194.8" width="303.5" height="109.7" fill="#ffe699"/><path d="M3057.3 1194.8V1304.5" stroke="#595959" stroke-width="2"/><path d="M3133.3 1194.8V1304.5" stroke="#595959" stroke-width="2"/><path d="M3209.4 1194.8V1304.5" stroke="#595959" stroke-width="2"/><path d="M3939.8 1194.8V1304.5" stroke="#595959" stroke-width="2"/><path d="M4015 1194.8V1304.5" stroke="#595959" stroke-width="2"/><path d="M4093.3 1194.8V1304.5" stroke="#595959" stroke-width="2"/><path d="M3630.5 1089V1255.7H3858" fill="none" stroke="#595959" stroke-width="3" marker-end="url(#ah)" stroke-dasharray="15 9"/><rect x="2856.4" y="1363.4" width="144.9" height="66.6" fill="#8faadc"/><rect x="3195" y="1363.4" width="143.5" height="66.6" fill="#f4b183"/><rect x="3588" y="1363.4" width="145.0" height="66.6" fill="#ffe699"/></svg><div class="t" style="left:3033.6px;top:1379.6px;font:400 38.5px/1 'Liberation Sans', sans-serif;color:#1c1c1c;">Context</div><div class="t" style="left:3356.5px;top:1379.6px;font:400 38.5px/1 'Liberation Sans', sans-serif;color:#1c1c1c;">Quotation(s)</div><div class="t" style="left:3751.0px;top:1379.6px;font:400 38.5px/1 'Liberation Sans', sans-serif;color:#1c1c1c;">User Input &amp; Generation</div><div class="t" style="left:483.2px;width:6000px;text-align:center;top:1446.4px;font:700 40px/1 'Liberation Sans', sans-serif;color:#000;">Figure 2: Overview of QUADA (Training based).</div><svg class="a" style="left:3430px;top:1540px" width="120" height="145" viewBox="3430 1540 120 145"><path d="M3463.4 1546.5H3518.2V1627.8H3544.5L3496.4 1679.7H3487.4L3436.9 1627.8H3463.4Z" fill="#b4c6e7"/></svg><svg class="a" style="left:73.1px;top:1727px" width="1251.4" height="862.9000000000001" viewBox="73.1 1727 1251.4 862.9000000000001"><path d="M398 1729 H140.1 A65 65 0 0 0 75.1 1794 V2522.9 A65 65 0 0 0 140.1 2587.9 H1257.5 A65 65 0 0 0 1322.5 2522.9 V1794 A65 65 0 0 0 1257.5 1729 H995.5" fill="none" stroke="#1f58c4" stroke-width="1.6"/></svg><div class="t" style="left:431.0px;top:1696.4px;font:700 56.2px/1 'Liberation Sans', sans-serif;color:#c00000;">Qualitative Analysis</div><svg class="a" style="left:171.6px;top:1806.5px" width="288.6" height="272.9" viewBox="171.6 1806.5 288.6 272.9"><defs><pattern id="hm1l" width="37" height="29" patternUnits="userSpaceOnUse" x="171.6" y="1806.5"><rect x="5.0" y="24.6" width="2.1" height="1.3" fill="#3b7bbf" fill-opacity="0.27"/><rect x="16.6" y="18.9" width="2.2" height="1.1" fill="#3b7bbf" fill-opacity="0.13"/><rect x="30.9" y="12.6" width="2.1" height="1.0" fill="#3b7bbf" fill-opacity="0.25"/><rect x="26.7" y="6.6" width="2.4" height="1.9" fill="#3b7bbf" fill-opacity="0.13"/><rect x="0.9" y="15.7" width="2.4" height="1.4" fill="#3b7bbf" fill-opacity="0.18"/><rect x="15.6" y="0.8" width="1.3" height="1.4" fill="#3b7bbf" fill-opacity="0.27"/><rect x="8.6" y="6.7" width="1.3" height="1.5" fill="#3b7bbf" fill-opacity="0.21"/><rect x="0.8" y="24.3" width="1.8" height="1.6" fill="#3b7bbf" fill-opacity="0.18"/><rect x="36.7" y="24.9" width="1.2" height="1.3" fill="#3b7bbf" fill-opacity="0.34"/><rect x="26.3" y="27.2" width="1.6" height="1.8" fill="#3b7bbf" fill-opacity="0.32"/></pattern><pattern id="hm1v" width="7" height="10" patternUnits="userSpaceOnUse" x="171.6" y="1806.5"><rect x="0" y="0" width="1.2" height="10" fill="#6b9fd4" fill-opacity="0.14"/><rect x="3.5" y="0" width="0.8" height="10" fill="#6b9fd4" fill-opacity="0.08"/></pattern><pattern id="hm1d" width="31" height="27" patternUnits="userSpaceOnUse" x="171.6" y="1806.5"><rect x="9.4" y="15.9" width="3.1" height="2.4" fill="#13488c" fill-opacity="0.65"/><rect x="18.3" y="0.9" width="1.7" height="2.3" fill="#13488c" fill-opacity="0.60"/><rect x="5.4" y="14.8" width="2.7" height="2.1" fill="#13488c" fill-opacity="0.57"/><rect x="13.6" y="13.7" width="2.9" height="1.8" fill="#13488c" fill-opacity="0.59"/><rect x="15.2" y="0.8" width="1.3" height="2.1" fill="#13488c" fill-opacity="0.94"/><rect x="18.4" y="10.6" width="1.6" height="1.8" fill="#13488c" fill-opacity="0.94"/><rect x="23.9" y="14.6" width="3.1" height="1.4" fill="#13488c" fill-opacity="0.66"/><rect x="29.5" y="15.6" width="2.2" height="1.4" fill="#13488c" fill-opacity="0.68"/><rect x="29.7" y="0.2" width="2.9" height="2.3" fill="#13488c" fill-opacity="0.88"/><rect x="23.0" y="21.8" width="2.3" height="1.9" fill="#13488c" fill-opacity="0.61"/><rect x="1.7" y="23.5" width="2.5" height="1.3" fill="#13488c" fill-opacity="0.65"/><rect x="15.0" y="9.6" width="2.0" height="1.9" fill="#13488c" fill-opacity="0.72"/><rect x="19.0" y="12.4" width="1.3" height="1.4" fill="#13488c" fill-opacity="0.46"/><rect x="18.1" y="23.2" width="3.0" height="2.3" fill="#13488c" fill-opacity="0.84"/><rect x="7.9" y="22.7" width="2.7" height="1.1" fill="#13488c" fill-opacity="0.36"/><rect x="0.5" y="20.4" width="1.7" height="1.2" fill="#13488c" fill-opacity="0.72"/><rect x="10.7" y="1.9" width="1.6" height="1.8" fill="#13488c" fill-opacity="0.45"/><rect x="8.5" y="19.2" width="2.2" height="1.5" fill="#13488c" fill-opacity="0.63"/><rect x="0.7" y="10.4" width="2.1" height="1.3" fill="#13488c" fill-opacity="0.42"/><rect x="27.9" y="13.8" width="1.7" height="2.0" fill="#13488c" fill-opacity="0.84"/><rect x="0.6" y="0.5" width="1.5" height="2.2" fill="#13488c" fill-opacity="0.45"/><rect x="21.8" y="18.3" width="2.4" height="1.4" fill="#13488c" fill-opacity="0.94"/><rect x="24.7" y="13.9" width="1.7" height="2.0" fill="#13488c" fill-opacity="0.59"/><rect x="17.9" y="8.7" width="2.6" height="1.1" fill="#13488c" fill-opacity="0.53"/><rect x="30.0" y="23.6" width="1.9" height="2.4" fill="#13488c" fill-opacity="0.54"/><rect x="29.1" y="20.1" width="2.1" height="1.4" fill="#13488c" fill-opacity="0.36"/><rect x="27.2" y="1.0" width="3.0" height="2.5" fill="#13488c" fill-opacity="0.69"/><rect x="5.3" y="23.4" width="3.3" height="2.1" fill="#13488c" fill-opacity="0.66"/><rect x="11.7" y="9.4" width="1.7" height="2.1" fill="#13488c" fill-opacity="0.61"/><rect x="6.0" y="2.8" width="2.7" height="1.5" fill="#13488c" fill-opacity="0.65"/><rect x="10.1" y="23.5" width="3.2" height="1.0" fill="#13488c" fill-opacity="0.47"/><rect x="10.2" y="26.7" width="2.9" height="1.5" fill="#13488c" fill-opacity="0.48"/><rect x="20.9" y="22.6" width="3.3" height="1.6" fill="#13488c" fill-opacity="0.88"/><rect x="21.3" y="13.1" width="3.4" height="1.4" fill="#13488c" fill-opacity="0.79"/><rect x="2.6" y="4.6" width="3.2" height="1.3" fill="#13488c" fill-opacity="0.81"/><rect x="18.6" y="22.7" width="2.0" height="1.5" fill="#13488c" fill-opacity="0.52"/><rect x="26.9" y="16.3" width="3.3" height="2.4" fill="#13488c" fill-opacity="0.43"/><rect x="17.1" y="2.8" width="1.3" height="1.1" fill="#13488c" fill-opacity="0.87"/><rect x="24.4" y="22.4" width="1.9" height="2.0" fill="#13488c" fill-opacity="0.82"/><rect x="11.7" y="15.4" width="1.7" height="1.1" fill="#13488c" fill-opacity="0.51"/><rect x="27.6" y="15.2" width="3.2" height="1.7" fill="#13488c" fill-opacity="0.52"/><rect x="24.4" y="22.3" width="1.2" height="2.1" fill="#13488c" fill-opacity="0.41"/><rect x="3.6" y="23.9" width="1.3" height="1.4" fill="#13488c" fill-opacity="0.94"/><rect x="13.1" y="3.1" width="1.6" height="1.4" fill="#13488c" fill-opacity="0.80"/><rect x="3.2" y="24.6" width="2.0" height="2.6" fill="#13488c" fill-opacity="0.90"/><rect x="9.1" y="6.8" width="2.2" height="1.2" fill="#13488c" fill-opacity="0.74"/><rect x="1.2" y="0.3" width="3.4" height="1.5" fill="#13488c" fill-opacity="0.71"/><rect x="13.9" y="8.5" width="1.3" height="2.5" fill="#13488c" fill-opacity="0.93"/><rect x="30.1" y="3.0" width="1.7" height="2.0" fill="#13488c" fill-opacity="0.94"/><rect x="16.8" y="18.6" width="2.7" height="1.4" fill="#13488c" fill-opacity="0.67"/><rect x="9.5" y="6.7" width="1.4" height="1.4" fill="#13488c" fill-opacity="0.94"/><rect x="13.9" y="17.6" width="2.6" height="2.5" fill="#13488c" fill-opacity="0.58"/><rect x="9.5" y="8.8" width="1.9" height="2.4" fill="#13488c" fill-opacity="0.89"/><rect x="9.4" y="9.0" width="2.4" height="1.9" fill="#13488c" fill-opacity="0.71"/><rect x="7.6" y="0.6" width="1.7" height="1.1" fill="#13488c" fill-opacity="0.68"/><rect x="2.2" y="2.0" width="2.6" height="1.5" fill="#13488c" fill-opacity="0.83"/><rect x="15.3" y="23.3" width="1.5" height="1.8" fill="#13488c" fill-opacity="0.83"/><rect x="2.4" y="25.6" width="1.6" height="2.2" fill="#13488c" fill-opacity="0.94"/><rect x="25.5" y="8.6" width="1.4" height="1.8" fill="#13488c" fill-opacity="0.90"/><rect x="9.1" y="24.1" width="1.5" height="2.5" fill="#13488c" fill-opacity="0.37"/><rect x="9.8" y="24.4" width="3.0" height="2.5" fill="#13488c" fill-opacity="0.85"/><rect x="23.1" y="18.6" width="1.6" height="1.7" fill="#13488c" fill-opacity="0.44"/><rect x="22.2" y="18.0" width="1.8" height="1.1" fill="#13488c" fill-opacity="0.93"/><rect x="25.1" y="14.8" width="2.4" height="2.4" fill="#13488c" fill-opacity="0.62"/><rect x="12.3" y="9.1" width="1.8" height="1.0" fill="#13488c" fill-opacity="0.74"/><rect x="12.9" y="15.4" width="1.3" height="1.6" fill="#13488c" fill-opacity="0.43"/><rect x="3.9" y="7.0" width="3.0" height="1.6" fill="#13488c" fill-opacity="0.59"/><rect x="19.0" y="6.3" width="1.2" height="1.8" fill="#13488c" fill-opacity="0.65"/><rect x="20.1" y="11.8" width="2.7" height="2.2" fill="#13488c" fill-opacity="0.49"/><rect x="15.3" y="12.9" width="1.7" height="1.7" fill="#13488c" fill-opacity="0.69"/><rect x="28.1" y="24.8" width="1.8" height="2.0" fill="#13488c" fill-opacity="0.38"/><rect x="2.2" y="13.8" width="3.1" height="1.3" fill="#13488c" fill-opacity="0.81"/><rect x="27.4" y="8.4" width="2.7" height="2.4" fill="#13488c" fill-opacity="0.57"/><rect x="21.7" y="19.9" width="2.5" height="2.4" fill="#13488c" fill-opacity="0.89"/><rect x="29.8" y="15.4" width="1.6" height="1.4" fill="#13488c" fill-opacity="0.48"/><rect x="17.7" y="20.5" width="1.3" height="2.1" fill="#13488c" fill-opacity="0.78"/><rect x="10.8" y="13.9" width="1.6" height="2.2" fill="#13488c" fill-opacity="0.37"/><rect x="30.4" y="21.8" width="2.6" height="1.4" fill="#13488c" fill-opacity="0.90"/><rect x="29.7" y="3.8" width="2.9" height="2.3" fill="#13488c" fill-opacity="0.75"/><rect x="21.7" y="12.0" width="3.2" height="2.6" fill="#13488c" fill-opacity="0.58"/></pattern><linearGradient id="hm1g" gradientUnits="userSpaceOnUse" x1="315.9" y1="1943.0" x2="299.5" y2="1960.3"><stop offset="0" stop-color="#1f5fa8" stop-opacity="0.6"/><stop offset="0.4" stop-color="#3f7dc0" stop-opacity="0.3"/><stop offset="1" stop-color="#6fa3d6" stop-opacity="0"/></linearGradient></defs><rect x="171.6" y="1806.5" width="288.6" height="272.9" fill="#f3f7fd"/><path d="M171.6 1806.5L460.2 2079.4H171.6Z" fill="#eff5fb"/><path d="M171.6 1806.5L460.2 2079.4H171.6Z" fill="url(#hm1v)"/><path d="M171.6 1806.5L460.2 2079.4H171.6Z" fill="url(#hm1l)"/><path d="M171.6 1806.5L204.6 1837.7V1850.2H171.6Z" fill="url(#hm1d)"/><path d="M171.6 1806.5L204.6 1837.7V1865.6H171.6Z" fill="url(#hm1l)"/><path d="M204.6 1837.7L226.5 1858.4V1865.9H204.6Z" fill="url(#hm1d)"/><path d="M204.6 1837.7L226.5 1858.4V1901.7H204.6Z" fill="url(#hm1l)"/><path d="M226.5 1858.4L263.1 1893.0V1900.4H226.5Z" fill="url(#hm1d)"/><path d="M226.5 1858.4L263.1 1893.0V1927.7H226.5Z" fill="url(#hm1l)"/><path d="M263.1 1893.0L286.9 1915.6V1923.0H263.1Z" fill="url(#hm1d)"/><path d="M263.1 1893.0L286.9 1915.6V1941.9H263.1Z" fill="url(#hm1l)"/><path d="M286.9 1915.6L307.1 1934.6V1952.4H286.9Z" fill="url(#hm1d)"/><path d="M286.9 1915.6L307.1 1934.6V1963.4H286.9Z" fill="url(#hm1l)"/><path d="M307.1 1934.6L325.9 1952.4V1965.1H307.1Z" fill="url(#hm1d)"/><path d="M307.1 1934.6L325.9 1952.4V1976.6H307.1Z" fill="url(#hm1l)"/><path d="M325.9 1952.4L354.8 1979.8V1995.1H325.9Z" fill="url(#hm1d)"/><path d="M325.9 1952.4L354.8 1979.8V2028.9H325.9Z" fill="url(#hm1l)"/><path d="M354.8 1979.8L374.0 1997.9V2008.0H354.8Z" fill="url(#hm1d)"/><path d="M354.8 1979.8L374.0 1997.9V2033.8H354.8Z" fill="url(#hm1l)"/><path d="M374.0 1997.9L394.8 2017.5V2032.6H374.0Z" fill="url(#hm1d)"/><path d="M374.0 1997.9L394.8 2017.5V2050.3H374.0Z" fill="url(#hm1l)"/><path d="M394.8 2017.5L425.0 2046.1V2064.5H394.8Z" fill="url(#hm1d)"/><path d="M394.8 2017.5L425.0 2046.1V2079.4H394.8Z" fill="url(#hm1l)"/><path d="M425.0 2046.1L460.2 2079.4V2079.4H425.0Z" fill="url(#hm1d)"/><path d="M425.0 2046.1L460.2 2079.4V2079.4H425.0Z" fill="url(#hm1l)"/><path d="M171.6 1806.5L460.2 2079.4L437.1 2079.4L171.6 1828.3Z" fill="url(#hm1g)"/><path d="M203.3 1836.5V2079.4" stroke="#1d4f8e" stroke-opacity="0.8" stroke-width="1.5"/><path d="M315.9 1943.0V2079.4" stroke="#1d4f8e" stroke-opacity="0.4" stroke-width="1.5"/><path d="M406.2 2028.3V2079.4" stroke="#4f86c2" stroke-opacity="0.19" stroke-width="1.7"/><path d="M276.7 1905.9V2079.4" stroke="#4f86c2" stroke-opacity="0.12" stroke-width="1.1"/><path d="M393.0 2015.9V2079.4" stroke="#4f86c2" stroke-opacity="0.10" stroke-width="1.9"/><path d="M321.1 1947.9V2079.4" stroke="#4f86c2" stroke-opacity="0.22" stroke-width="1.9"/><path d="M438.5 2058.9V2079.4" stroke="#4f86c2" stroke-opacity="0.10" stroke-width="1.6"/><path d="M328.6 1954.9V2079.4" stroke="#4f86c2" stroke-opacity="0.12" stroke-width="1.6"/><path d="M269.4 1899.0V2079.4" stroke="#4f86c2" stroke-opacity="0.15" stroke-width="1.0"/><path d="M292.9 1921.2V2079.4" stroke="#4f86c2" stroke-opacity="0.14" stroke-width="1.4"/><path d="M281.1 1910.0V2079.4" stroke="#4f86c2" stroke-opacity="0.19" stroke-width="1.8"/><path d="M306.6 1934.1V2079.4" stroke="#4f86c2" stroke-opacity="0.17" stroke-width="1.5"/><path d="M227.5 1859.4V2079.4" stroke="#4f86c2" stroke-opacity="0.08" stroke-width="1.3"/><path d="M335.6 1961.6V2079.4" stroke="#4f86c2" stroke-opacity="0.20" stroke-width="2.0"/><path d="M311.7 1939.0V2079.4" stroke="#4f86c2" stroke-opacity="0.22" stroke-width="1.6"/><path d="M400.4 2022.9V2079.4" stroke="#4f86c2" stroke-opacity="0.14" stroke-width="1.9"/><path d="M442.4 2062.5V2079.4" stroke="#4f86c2" stroke-opacity="0.12" stroke-width="1.2"/><path d="M341.6 1967.2V2079.4" stroke="#4f86c2" stroke-opacity="0.15" stroke-width="1.4"/><path d="M172.3 1867.3L217.9 1910.4" stroke="#2a64a8" stroke-opacity="0.35" stroke-width="1.6" stroke-dasharray="5 2 2 2"/><path d="M345.6 2064.8L361.1 2079.4" stroke="#2a64a8" stroke-opacity="0.47" stroke-width="1.6" stroke-dasharray="5 2 2 2"/><path d="M322.9 2044.6L359.7 2079.4" stroke="#2a64a8" stroke-opacity="0.41" stroke-width="1.6" stroke-dasharray="5 2 2 2"/><path d="M302.7 1988.5L362.1 2044.7" stroke="#2a64a8" stroke-opacity="0.41" stroke-width="1.6" stroke-dasharray="5 2 2 2"/><path d="M299.6 2026.6L355.4 2079.4" stroke="#2a64a8" stroke-opacity="0.46" stroke-width="1.6" stroke-dasharray="5 2 2 2"/><path d="M326.7 2032.9L375.9 2079.4" stroke="#2a64a8" stroke-opacity="0.34" stroke-width="1.6" stroke-dasharray="5 2 2 2"/><path d="M225.1 1966.1L289.0 2026.6" stroke="#2a64a8" stroke-opacity="0.39" stroke-width="1.6" stroke-dasharray="5 2 2 2"/><path d="M204.2 2036.9l5 5M209.2 2036.9l-5 5" stroke="#1d5aa0" stroke-opacity="0.45" stroke-width="1.5"/><path d="M276.9 1913.7l5 5M281.9 1913.7l-5 5" stroke="#1d5aa0" stroke-opacity="0.45" stroke-width="1.5"/><path d="M341.0 2013.2l5 5M346.0 2013.2l-5 5" stroke="#1d5aa0" stroke-opacity="0.41" stroke-width="1.5"/><path d="M320.8 1950.0l5 5M325.8 1950.0l-5 5" stroke="#1d5aa0" stroke-opacity="0.45" stroke-width="1.5"/><path d="M387.5 2056.4l5 5M392.5 2056.4l-5 5" stroke="#1d5aa0" stroke-opacity="0.42" stroke-width="1.5"/><path d="M328.2 2028.5l5 5M333.2 2028.5l-5 5" stroke="#1d5aa0" stroke-opacity="0.36" stroke-width="1.5"/><path d="M217.1 2051.0l5 5M222.1 2051.0l-5 5" stroke="#1d5aa0" stroke-opacity="0.38" stroke-width="1.5"/><path d="M186.4 2033.5l5 5M191.4 2033.5l-5 5" stroke="#1d5aa0" stroke-opacity="0.46" stroke-width="1.5"/><path d="M298.6 2041.2L321.7 2063.0" stroke="#0d3f7f" stroke-width="2.4" stroke-opacity="0.75" stroke-dasharray="7 2 3 2"/><path d="M171.6 1806.5L460.2 2079.4" stroke="#08306b" stroke-width="3"/><rect x="172.1" y="1807.0" width="287.6" height="271.9" fill="none" stroke="#555" stroke-width="1"/><rect x="294.5" y="2013.1" width="36.0" height="62.4" fill="none" stroke="#ee1111" stroke-width="3"/></svg><div class="t" style="left:-2638.5px;width:6000px;text-align:center;top:1837.0px;font:400 22.5px/1 'Liberation Sans', sans-serif;color:#111;">Base</div><div class="t" style="left:-2828.4px;width:6000px;text-align:center;top:2085.4px;font:400 9.5px/1 'Liberation Sans', sans-serif;color:#333;">0</div><div class="t" style="left:-2781.6px;width:6000px;text-align:center;top:2085.4px;font:400 9.5px/1 'Liberation Sans', sans-serif;color:#333;">50</div><div class="t" style="left:-2734.9px;width:6000px;text-align:center;top:2085.4px;font:400 9.5px/1 'Liberation Sans', sans-serif;color:#333;">100</div><div class="t" style="left:-2688.1px;width:6000px;text-align:center;top:2085.4px;font:400 9.5px/1 'Liberation Sans', sans-serif;color:#333;">150</div><div class="t" style="left:-2641.4px;width:6000px;text-align:center;top:2085.4px;font:400 9.5px/1 'Liberation Sans', sans-serif;color:#333;">200</div><div class="t" style="left:-2594.6px;width:6000px;text-align:center;top:2085.4px;font:400 9.5px/1 'Liberation Sans', sans-serif;color:#333;">250</div><div class="t" style="left:-2547.9px;width:6000px;text-align:center;top:2085.4px;font:400 9.5px/1 'Liberation Sans', sans-serif;color:#333;">300</div><div class="t" style="left:-5832.4px;width:6000px;text-align:right;top:1802.0px;font:400 9.5px/1 'Liberation Sans', sans-serif;color:#333;">0</div><div class="t" style="left:-5832.4px;width:6000px;text-align:right;top:1846.2px;font:400 9.5px/1 'Liberation Sans', sans-serif;color:#333;">50</div><div class="t" style="left:-5832.4px;width:6000px;text-align:right;top:1890.4px;font:400 9.5px/1 'Liberation Sans', sans-serif;color:#333;">100</div><div class="t" style="left:-5832.4px;width:6000px;text-align:right;top:1934.6px;font:400 9.5px/1 'Liberation Sans', sans-serif;color:#333;">150</div><div class="t" style="left:-5832.4px;width:6000px;text-align:right;top:1978.8px;font:400 9.5px/1 'Liberation Sans', sans-serif;color:#333;">200</div><div class="t" style="left:-5832.4px;width:6000px;text-align:right;top:2023.0px;font:400 9.5px/1 'Liberation Sans', sans-serif;color:#333;">250</div><div class="t" style="left:-5832.4px;width:6000px;text-align:right;top:2067.2px;font:400 9.5px/1 'Liberation Sans', sans-serif;color:#333;">300</div><svg class="a" style="left:554.5px;top:1806.5px" width="288.5" height="272.0" viewBox="554.5 1806.5 288.5 272.0"><defs><pattern id="hm2l" width="37" height="29" patternUnits="userSpaceOnUse" x="554.5" y="1806.5"><rect x="35.4" y="27.5" width="1.1" height="1.1" fill="#3b7bbf" fill-opacity="0.37"/><rect x="27.2" y="19.4" width="1.5" height="1.6" fill="#3b7bbf" fill-opacity="0.30"/><rect x="21.5" y="4.6" width="1.6" height="1.4" fill="#3b7bbf" fill-opacity="0.34"/><rect x="36.8" y="27.5" width="1.8" height="1.4" fill="#3b7bbf" fill-opacity="0.20"/><rect x="1.3" y="0.8" width="1.7" height="1.3" fill="#3b7bbf" fill-opacity="0.23"/><rect x="33.0" y="15.2" width="1.8" height="1.2" fill="#3b7bbf" fill-opacity="0.13"/><rect x="12.0" y="4.0" width="1.8" height="2.0" fill="#3b7bbf" fill-opacity="0.32"/><rect x="6.7" y="25.9" width="2.2" height="1.7" fill="#3b7bbf" fill-opacity="0.39"/><rect x="28.2" y="22.9" width="1.5" height="2.0" fill="#3b7bbf" fill-opacity="0.41"/><rect x="6.0" y="21.9" width="2.1" height="1.5" fill="#3b7bbf" fill-opacity="0.28"/></pattern><pattern id="hm2v" width="7" height="10" patternUnits="userSpaceOnUse" x="554.5" y="1806.5"><rect x="0" y="0" width="1.2" height="10" fill="#6b9fd4" fill-opacity="0.14"/><rect x="3.5" y="0" width="0.8" height="10" fill="#6b9fd4" fill-opacity="0.08"/></pattern><pattern id="hm2d" width="31" height="27" patternUnits="userSpaceOnUse" x="554.5" y="1806.5"><rect x="15.2" y="25.0" width="2.3" height="2.3" fill="#13488c" fill-opacity="0.56"/><rect x="27.4" y="24.3" width="2.2" height="1.9" fill="#13488c" fill-opacity="0.90"/><rect x="22.4" y="13.1" width="1.7" height="1.5" fill="#13488c" fill-opacity="0.77"/><rect x="5.1" y="24.5" width="1.8" height="2.5" fill="#13488c" fill-opacity="0.54"/><rect x="29.7" y="19.1" width="2.3" height="1.8" fill="#13488c" fill-opacity="0.74"/><rect x="18.2" y="8.4" width="1.7" height="1.8" fill="#13488c" fill-opacity="0.91"/><rect x="19.3" y="2.0" width="3.0" height="2.2" fill="#13488c" fill-opacity="0.89"/><rect x="5.9" y="20.1" width="1.3" height="2.0" fill="#13488c" fill-opacity="0.51"/><rect x="7.0" y="23.6" width="1.4" height="1.8" fill="#13488c" fill-opacity="0.86"/><rect x="7.6" y="5.7" width="3.1" height="1.7" fill="#13488c" fill-opacity="0.78"/><rect x="1.0" y="9.8" width="1.6" height="2.1" fill="#13488c" fill-opacity="0.40"/><rect x="29.6" y="0.7" width="2.8" height="1.0" fill="#13488c" fill-opacity="0.50"/><rect x="25.2" y="4.2" width="1.6" height="2.1" fill="#13488c" fill-opacity="0.58"/><rect x="1.3" y="26.7" width="1.5" height="1.1" fill="#13488c" fill-opacity="0.56"/><rect x="19.1" y="20.0" width="1.4" height="1.5" fill="#13488c" fill-opacity="0.37"/><rect x="13.9" y="20.7" width="2.8" height="2.4" fill="#13488c" fill-opacity="0.80"/><rect x="26.7" y="19.0" width="2.2" height="1.4" fill="#13488c" fill-opacity="0.75"/><rect x="9.8" y="2.8" width="2.2" height="2.4" fill="#13488c" fill-opacity="0.43"/><rect x="18.1" y="10.6" width="2.3" height="1.2" fill="#13488c" fill-opacity="0.93"/><rect x="8.0" y="16.4" width="2.1" height="1.0" fill="#13488c" fill-opacity="0.68"/><rect x="4.4" y="1.5" width="1.3" height="1.3" fill="#13488c" fill-opacity="0.41"/><rect x="19.7" y="13.7" width="3.4" height="2.5" fill="#13488c" fill-opacity="0.95"/><rect x="7.2" y="12.0" width="1.8" height="1.9" fill="#13488c" fill-opacity="0.72"/><rect x="24.8" y="19.2" width="1.8" height="1.7" fill="#13488c" fill-opacity="0.67"/><rect x="0.1" y="1.0" width="2.1" height="1.2" fill="#13488c" fill-opacity="0.78"/><rect x="7.5" y="2.7" width="1.6" height="1.4" fill="#13488c" fill-opacity="0.48"/><rect x="16.1" y="12.5" width="1.9" height="2.0" fill="#13488c" fill-opacity="0.48"/><rect x="28.1" y="26.0" width="2.8" height="1.7" fill="#13488c" fill-opacity="0.66"/><rect x="18.0" y="1.4" width="2.1" height="1.8" fill="#13488c" fill-opacity="0.46"/><rect x="2.9" y="21.7" width="2.0" height="1.8" fill="#13488c" fill-opacity="0.90"/><rect x="18.9" y="7.8" width="3.4" height="1.6" fill="#13488c" fill-opacity="0.36"/><rect x="21.2" y="2.7" width="1.9" height="2.3" fill="#13488c" fill-opacity="0.75"/><rect x="0.5" y="12.2" width="2.1" height="1.8" fill="#13488c" fill-opacity="0.47"/><rect x="18.3" y="2.0" width="1.8" height="1.6" fill="#13488c" fill-opacity="0.91"/><rect x="2.4" y="20.4" width="1.6" height="1.9" fill="#13488c" fill-opacity="0.59"/><rect x="14.4" y="20.3" width="2.1" height="1.2" fill="#13488c" fill-opacity="0.42"/><rect x="2.5" y="23.0" width="2.6" height="2.5" fill="#13488c" fill-opacity="0.77"/><rect x="0.8" y="17.8" width="2.9" height="2.2" fill="#13488c" fill-opacity="0.65"/><rect x="11.1" y="12.3" width="3.0" height="1.4" fill="#13488c" fill-opacity="0.67"/><rect x="14.8" y="25.8" width="3.0" height="2.5" fill="#13488c" fill-opacity="0.85"/><rect x="9.2" y="6.3" width="2.3" height="1.4" fill="#13488c" fill-opacity="0.61"/><rect x="21.1" y="24.8" width="2.5" height="2.3" fill="#13488c" fill-opacity="0.41"/><rect x="11.0" y="26.9" width="1.5" height="1.7" fill="#13488c" fill-opacity="0.39"/><rect x="2.7" y="24.2" width="3.4" height="2.0" fill="#13488c" fill-opacity="0.43"/><rect x="9.2" y="6.3" width="2.7" height="2.1" fill="#13488c" fill-opacity="0.61"/><rect x="16.2" y="3.0" width="2.4" height="2.5" fill="#13488c" fill-opacity="0.80"/><rect x="3.0" y="13.9" width="2.8" height="1.4" fill="#13488c" fill-opacity="0.89"/><rect x="14.3" y="19.0" width="2.1" height="2.6" fill="#13488c" fill-opacity="0.82"/><rect x="17.8" y="3.9" width="2.2" height="1.0" fill="#13488c" fill-opacity="0.71"/><rect x="27.3" y="4.9" width="2.3" height="1.8" fill="#13488c" fill-opacity="0.59"/><rect x="22.0" y="25.3" width="2.8" height="1.8" fill="#13488c" fill-opacity="0.93"/><rect x="10.3" y="20.1" width="2.6" height="2.2" fill="#13488c" fill-opacity="0.86"/><rect x="7.0" y="16.8" width="2.1" height="2.1" fill="#13488c" fill-opacity="0.94"/><rect x="19.7" y="0.3" width="2.2" height="2.1" fill="#13488c" fill-opacity="0.88"/><rect x="20.2" y="22.0" width="1.2" height="2.5" fill="#13488c" fill-opacity="0.79"/><rect x="18.8" y="24.4" width="3.1" height="1.2" fill="#13488c" fill-opacity="0.84"/><rect x="23.8" y="5.4" width="2.8" height="1.9" fill="#13488c" fill-opacity="0.46"/><rect x="24.9" y="3.7" width="2.5" height="1.7" fill="#13488c" fill-opacity="0.50"/><rect x="17.5" y="12.6" width="1.7" height="2.5" fill="#13488c" fill-opacity="0.39"/><rect x="0.1" y="13.1" width="3.0" height="2.1" fill="#13488c" fill-opacity="0.80"/><rect x="15.0" y="18.2" width="1.9" height="1.4" fill="#13488c" fill-opacity="0.65"/><rect x="0.9" y="2.2" width="2.9" height="1.3" fill="#13488c" fill-opacity="0.80"/><rect x="24.3" y="10.9" width="2.7" height="2.3" fill="#13488c" fill-opacity="0.87"/><rect x="4.2" y="4.4" width="2.0" height="1.7" fill="#13488c" fill-opacity="0.53"/><rect x="0.3" y="15.1" width="3.3" height="1.6" fill="#13488c" fill-opacity="0.67"/><rect x="11.9" y="12.0" width="3.1" height="1.5" fill="#13488c" fill-opacity="0.74"/><rect x="15.0" y="14.5" width="3.2" height="1.1" fill="#13488c" fill-opacity="0.84"/><rect x="9.4" y="17.5" width="3.0" height="2.0" fill="#13488c" fill-opacity="0.59"/><rect x="26.1" y="2.5" width="2.6" height="1.6" fill="#13488c" fill-opacity="0.67"/><rect x="26.4" y="21.5" width="2.6" height="1.5" fill="#13488c" fill-opacity="0.49"/><rect x="14.2" y="6.3" width="1.8" height="2.5" fill="#13488c" fill-opacity="0.42"/><rect x="25.4" y="10.2" width="2.0" height="1.5" fill="#13488c" fill-opacity="0.40"/><rect x="14.2" y="4.5" width="2.2" height="1.5" fill="#13488c" fill-opacity="0.89"/><rect x="28.6" y="11.9" width="2.6" height="2.5" fill="#13488c" fill-opacity="0.55"/><rect x="3.1" y="6.4" width="1.6" height="2.1" fill="#13488c" fill-opacity="0.57"/><rect x="11.0" y="21.5" width="1.7" height="2.3" fill="#13488c" fill-opacity="0.73"/><rect x="12.4" y="22.2" width="2.0" height="2.4" fill="#13488c" fill-opacity="0.91"/><rect x="15.6" y="18.6" width="3.3" height="2.2" fill="#13488c" fill-opacity="0.80"/><rect x="26.9" y="25.3" width="2.9" height="2.6" fill="#13488c" fill-opacity="0.52"/><rect x="19.3" y="18.1" width="2.0" height="1.6" fill="#13488c" fill-opacity="0.45"/></pattern><linearGradient id="hm2g" gradientUnits="userSpaceOnUse" x1="698.8" y1="1942.5" x2="682.4" y2="1959.8"><stop offset="0" stop-color="#1f5fa8" stop-opacity="0.6"/><stop offset="0.4" stop-color="#3f7dc0" stop-opacity="0.3"/><stop offset="1" stop-color="#6fa3d6" stop-opacity="0"/></linearGradient></defs><rect x="554.5" y="1806.5" width="288.5" height="272.0" fill="#f3f7fd"/><path d="M554.5 1806.5L843 2078.5H554.5Z" fill="#eff5fb"/><path d="M554.5 1806.5L843 2078.5H554.5Z" fill="url(#hm2v)"/><path d="M554.5 1806.5L843 2078.5H554.5Z" fill="url(#hm2l)"/><path d="M554.5 1806.5L591.0 1840.9V1852.2H554.5Z" fill="url(#hm2d)"/><path d="M554.5 1806.5L591.0 1840.9V1876.0H554.5Z" fill="url(#hm2l)"/><path d="M591.0 1840.9L626.1 1874.0V1882.5H591.0Z" fill="url(#hm2d)"/><path d="M591.0 1840.9L626.1 1874.0V1919.5H591.0Z" fill="url(#hm2l)"/><path d="M626.1 1874.0L643.4 1890.3V1896.2H626.1Z" fill="url(#hm2d)"/><path d="M626.1 1874.0L643.4 1890.3V1916.7H626.1Z" fill="url(#hm2l)"/><path d="M643.4 1890.3L666.1 1911.8V1932.2H643.4Z" fill="url(#hm2d)"/><path d="M643.4 1890.3L666.1 1911.8V1967.1H643.4Z" fill="url(#hm2l)"/><path d="M666.1 1911.8L698.2 1941.9V1954.5H666.1Z" fill="url(#hm2d)"/><path d="M666.1 1911.8L698.2 1941.9V1980.1H666.1Z" fill="url(#hm2l)"/><path d="M698.2 1941.9L718.0 1960.7V1979.7H698.2Z" fill="url(#hm2d)"/><path d="M698.2 1941.9L718.0 1960.7V2001.2H698.2Z" fill="url(#hm2l)"/><path d="M718.0 1960.7L739.0 1980.5V1996.3H718.0Z" fill="url(#hm2d)"/><path d="M718.0 1960.7L739.0 1980.5V2011.3H718.0Z" fill="url(#hm2l)"/><path d="M739.0 1980.5L760.8 2001.0V2021.5H739.0Z" fill="url(#hm2d)"/><path d="M739.0 1980.5L760.8 2001.0V2035.0H739.0Z" fill="url(#hm2l)"/><path d="M760.8 2001.0L778.5 2017.7V2026.4H760.8Z" fill="url(#hm2d)"/><path d="M760.8 2001.0L778.5 2017.7V2044.1H760.8Z" fill="url(#hm2l)"/><path d="M778.5 2017.7L802.6 2040.4V2049.9H778.5Z" fill="url(#hm2d)"/><path d="M778.5 2017.7L802.6 2040.4V2070.1H778.5Z" fill="url(#hm2l)"/><path d="M802.6 2040.4L822.7 2059.4V2068.7H802.6Z" fill="url(#hm2d)"/><path d="M802.6 2040.4L822.7 2059.4V2078.5H802.6Z" fill="url(#hm2l)"/><path d="M822.7 2059.4L843.0 2078.5V2078.5H822.7Z" fill="url(#hm2d)"/><path d="M822.7 2059.4L843.0 2078.5V2078.5H822.7Z" fill="url(#hm2l)"/><path d="M554.5 1806.5L843 2078.5L819.9 2078.5L554.5 1828.3Z" fill="url(#hm2g)"/><path d="M571.8 1822.8V2078.5" stroke="#1d4f8e" stroke-opacity="0.8" stroke-width="1.5"/><path d="M641.0 1888.1V2078.5" stroke="#1d4f8e" stroke-opacity="0.3" stroke-width="1.5"/><path d="M571.4 1822.4V2078.5" stroke="#4f86c2" stroke-opacity="0.10" stroke-width="2.0"/><path d="M672.3 1917.6V2078.5" stroke="#4f86c2" stroke-opacity="0.19" stroke-width="1.2"/><path d="M697.8 1941.6V2078.5" stroke="#4f86c2" stroke-opacity="0.20" stroke-width="1.4"/><path d="M765.0 2005.0V2078.5" stroke="#4f86c2" stroke-opacity="0.17" stroke-width="1.5"/><path d="M827.8 2064.2V2078.5" stroke="#4f86c2" stroke-opacity="0.13" stroke-width="1.6"/><path d="M724.3 1966.6V2078.5" stroke="#4f86c2" stroke-opacity="0.12" stroke-width="2.0"/><path d="M718.3 1960.9V2078.5" stroke="#4f86c2" stroke-opacity="0.16" stroke-width="1.6"/><path d="M824.4 2061.0V2078.5" stroke="#4f86c2" stroke-opacity="0.22" stroke-width="2.0"/><path d="M679.1 1924.0V2078.5" stroke="#4f86c2" stroke-opacity="0.14" stroke-width="1.6"/><path d="M567.2 1818.4V2078.5" stroke="#4f86c2" stroke-opacity="0.10" stroke-width="2.2"/><path d="M589.6 1839.6V2078.5" stroke="#4f86c2" stroke-opacity="0.21" stroke-width="1.8"/><path d="M805.3 2043.0V2078.5" stroke="#4f86c2" stroke-opacity="0.09" stroke-width="1.4"/><path d="M773.2 2012.7V2078.5" stroke="#4f86c2" stroke-opacity="0.08" stroke-width="1.1"/><path d="M650.6 1897.1V2078.5" stroke="#4f86c2" stroke-opacity="0.10" stroke-width="1.2"/><path d="M738.1 1979.6V2078.5" stroke="#4f86c2" stroke-opacity="0.09" stroke-width="2.2"/><path d="M732.5 1974.3V2078.5" stroke="#4f86c2" stroke-opacity="0.09" stroke-width="2.1"/><path d="M603.3 1926.9L654.1 1974.8" stroke="#2a64a8" stroke-opacity="0.28" stroke-width="1.6" stroke-dasharray="5 2 2 2"/><path d="M655.9 1937.4L682.5 1962.5" stroke="#2a64a8" stroke-opacity="0.48" stroke-width="1.6" stroke-dasharray="5 2 2 2"/><path d="M720.5 2050.8L749.9 2078.5" stroke="#2a64a8" stroke-opacity="0.47" stroke-width="1.6" stroke-dasharray="5 2 2 2"/><path d="M582.8 1861.1L634.2 1909.6" stroke="#2a64a8" stroke-opacity="0.28" stroke-width="1.6" stroke-dasharray="5 2 2 2"/><path d="M576.4 1846.5L611.7 1879.8" stroke="#2a64a8" stroke-opacity="0.30" stroke-width="1.6" stroke-dasharray="5 2 2 2"/><path d="M631.1 1985.7L690.1 2041.3" stroke="#2a64a8" stroke-opacity="0.48" stroke-width="1.6" stroke-dasharray="5 2 2 2"/><path d="M699.4 2056.5L722.8 2078.5" stroke="#2a64a8" stroke-opacity="0.29" stroke-width="1.6" stroke-dasharray="5 2 2 2"/><path d="M576.3 2030.6l5 5M581.3 2030.6l-5 5" stroke="#1d5aa0" stroke-opacity="0.49" stroke-width="1.5"/><path d="M600.5 1935.1l5 5M605.5 1935.1l-5 5" stroke="#1d5aa0" stroke-opacity="0.39" stroke-width="1.5"/><path d="M651.4 1974.0l5 5M656.4 1974.0l-5 5" stroke="#1d5aa0" stroke-opacity="0.42" stroke-width="1.5"/><path d="M736.1 2057.4l5 5M741.1 2057.4l-5 5" stroke="#1d5aa0" stroke-opacity="0.47" stroke-width="1.5"/><path d="M661.1 1955.0l5 5M666.1 1955.0l-5 5" stroke="#1d5aa0" stroke-opacity="0.53" stroke-width="1.5"/><path d="M779.8 2031.9l5 5M784.8 2031.9l-5 5" stroke="#1d5aa0" stroke-opacity="0.51" stroke-width="1.5"/><path d="M713.3 2035.0l5 5M718.3 2035.0l-5 5" stroke="#1d5aa0" stroke-opacity="0.31" stroke-width="1.5"/><path d="M679.3 1954.8l5 5M684.3 1954.8l-5 5" stroke="#1d5aa0" stroke-opacity="0.36" stroke-width="1.5"/><path d="M566.0 2002.3L574.7 2010.5" stroke="#0d3f7f" stroke-width="2.4" stroke-opacity="0.75" stroke-dasharray="7 2 3 2"/><path d="M583.4 2010.5L618.0 2043.1" stroke="#0d3f7f" stroke-width="2.4" stroke-opacity="0.75" stroke-dasharray="7 2 3 2"/><path d="M687.2 2029.5L744.9 2083.9" stroke="#0d3f7f" stroke-width="2.4" stroke-opacity="0.75" stroke-dasharray="7 2 3 2"/><path d="M554.5 1806.5L843 2078.5" stroke="#08306b" stroke-width="3"/><rect x="555.0" y="1807.0" width="287.5" height="271.0" fill="none" stroke="#555" stroke-width="1"/><rect x="563.5" y="1990.5" width="55.0" height="83.5" fill="none" stroke="#ee1111" stroke-width="3"/><rect x="680.5" y="1992.1" width="63.3" height="84.9" fill="none" stroke="#ee1111" stroke-width="3"/></svg><div class="t" style="left:-2248.5px;width:6000px;text-align:center;top:1837.0px;font:400 22.5px/1 'Liberation Sans', sans-serif;color:#111;">Multi-Span</div><div class="t" style="left:-2445.5px;width:6000px;text-align:center;top:2084.5px;font:400 9.5px/1 'Liberation Sans', sans-serif;color:#333;">0</div><div class="t" style="left:-2402.2px;width:6000px;text-align:center;top:2084.5px;font:400 9.5px/1 'Liberation Sans', sans-serif;color:#333;">50</div><div class="t" style="left:-2358.9px;width:6000px;text-align:center;top:2084.5px;font:400 9.5px/1 'Liberation Sans', sans-serif;color:#333;">100</div><div class="t" style="left:-2315.7px;width:6000px;text-align:center;top:2084.5px;font:400 9.5px/1 'Liberation Sans', sans-serif;color:#333;">150</div><div class="t" style="left:-2272.4px;width:6000px;text-align:center;top:2084.5px;font:400 9.5px/1 'Liberation Sans', sans-serif;color:#333;">200</div><div class="t" style="left:-2229.1px;width:6000px;text-align:center;top:2084.5px;font:400 9.5px/1 'Liberation Sans', sans-serif;color:#333;">250</div><div class="t" style="left:-2185.8px;width:6000px;text-align:center;top:2084.5px;font:400 9.5px/1 'Liberation Sans', sans-serif;color:#333;">300</div><div class="t" style="left:-5449.5px;width:6000px;text-align:right;top:1802.0px;font:400 9.5px/1 'Liberation Sans', sans-serif;color:#333;">0</div><div class="t" style="left:-5449.5px;width:6000px;text-align:right;top:1842.8px;font:400 9.5px/1 'Liberation Sans', sans-serif;color:#333;">50</div><div class="t" style="left:-5449.5px;width:6000px;text-align:right;top:1883.6px;font:400 9.5px/1 'Liberation Sans', sans-serif;color:#333;">100</div><div class="t" style="left:-5449.5px;width:6000px;text-align:right;top:1924.4px;font:400 9.5px/1 'Liberation Sans', sans-serif;color:#333;">150</div><div class="t" style="left:-5449.5px;width:6000px;text-align:right;top:1965.2px;font:400 9.5px/1 'Liberation Sans', sans-serif;color:#333;">200</div><div class="t" style="left:-5449.5px;width:6000px;text-align:right;top:2006.0px;font:400 9.5px/1 'Liberation Sans', sans-serif;color:#333;">250</div><div class="t" style="left:-5449.5px;width:6000px;text-align:right;top:2046.8px;font:400 9.5px/1 'Liberation Sans', sans-serif;color:#333;">300</div><svg class="a" style="left:929.4px;top:1806.5px" width="287.6" height="272.0" viewBox="929.4 1806.5 287.6 272.0"><defs><pattern id="hm3l" width="37" height="29" patternUnits="userSpaceOnUse" x="929.4" y="1806.5"><rect x="8.8" y="15.8" width="1.6" height="1.6" fill="#3b7bbf" fill-opacity="0.31"/><rect x="2.4" y="0.4" width="2.3" height="1.3" fill="#3b7bbf" fill-opacity="0.19"/><rect x="36.8" y="13.6" width="2.3" height="1.5" fill="#3b7bbf" fill-opacity="0.31"/><rect x="5.6" y="18.4" width="2.3" height="1.5" fill="#3b7bbf" fill-opacity="0.34"/><rect x="24.8" y="1.9" width="2.1" height="1.6" fill="#3b7bbf" fill-opacity="0.21"/><rect x="1.1" y="25.1" width="1.7" height="1.7" fill="#3b7bbf" fill-opacity="0.38"/><rect x="26.4" y="26.7" width="1.6" height="1.8" fill="#3b7bbf" fill-opacity="0.25"/><rect x="34.6" y="25.5" width="1.1" height="1.1" fill="#3b7bbf" fill-opacity="0.19"/><rect x="35.7" y="12.6" width="1.9" height="1.3" fill="#3b7bbf" fill-opacity="0.27"/><rect x="14.3" y="10.2" width="1.9" height="1.6" fill="#3b7bbf" fill-opacity="0.39"/></pattern><pattern id="hm3v" width="7" height="10" patternUnits="userSpaceOnUse" x="929.4" y="1806.5"><rect x="0" y="0" width="1.2" height="10" fill="#6b9fd4" fill-opacity="0.14"/><rect x="3.5" y="0" width="0.8" height="10" fill="#6b9fd4" fill-opacity="0.08"/></pattern><pattern id="hm3d" width="31" height="27" patternUnits="userSpaceOnUse" x="929.4" y="1806.5"><rect x="21.1" y="25.1" width="3.1" height="2.6" fill="#13488c" fill-opacity="0.75"/><rect x="5.1" y="23.2" width="3.3" height="2.4" fill="#13488c" fill-opacity="0.69"/><rect x="22.1" y="5.7" width="3.0" height="1.9" fill="#13488c" fill-opacity="0.52"/><rect x="2.0" y="23.1" width="3.4" height="1.1" fill="#13488c" fill-opacity="0.83"/><rect x="12.7" y="4.1" width="1.8" height="2.2" fill="#13488c" fill-opacity="0.87"/><rect x="1.4" y="16.6" width="1.3" height="2.1" fill="#13488c" fill-opacity="0.55"/><rect x="27.3" y="26.5" width="2.3" height="2.6" fill="#13488c" fill-opacity="0.54"/><rect x="2.4" y="16.2" width="1.3" height="1.3" fill="#13488c" fill-opacity="0.59"/><rect x="18.9" y="4.2" width="1.3" height="2.4" fill="#13488c" fill-opacity="0.54"/><rect x="29.7" y="24.2" width="2.0" height="1.7" fill="#13488c" fill-opacity="0.66"/><rect x="20.0" y="16.1" width="2.4" height="2.0" fill="#13488c" fill-opacity="0.91"/><rect x="15.7" y="11.6" width="2.8" height="1.4" fill="#13488c" fill-opacity="0.53"/><rect x="30.3" y="14.1" width="2.4" height="1.0" fill="#13488c" fill-opacity="0.60"/><rect x="18.0" y="0.5" width="2.6" height="2.0" fill="#13488c" fill-opacity="0.39"/><rect x="19.4" y="12.6" width="2.7" height="1.6" fill="#13488c" fill-opacity="0.77"/><rect x="22.9" y="0.6" width="1.3" height="2.1" fill="#13488c" fill-opacity="0.93"/><rect x="7.8" y="12.3" width="2.5" height="1.5" fill="#13488c" fill-opacity="0.57"/><rect x="9.7" y="10.0" width="2.5" height="1.5" fill="#13488c" fill-opacity="0.58"/><rect x="23.9" y="0.7" width="2.5" height="2.2" fill="#13488c" fill-opacity="0.54"/><rect x="6.9" y="21.7" width="1.7" height="1.3" fill="#13488c" fill-opacity="0.61"/><rect x="21.6" y="2.7" width="1.9" height="1.5" fill="#13488c" fill-opacity="0.85"/><rect x="13.6" y="23.1" width="1.6" height="1.5" fill="#13488c" fill-opacity="0.74"/><rect x="27.4" y="12.2" width="1.7" height="1.2" fill="#13488c" fill-opacity="0.67"/><rect x="5.9" y="21.8" width="3.0" height="1.3" fill="#13488c" fill-opacity="0.52"/><rect x="25.0" y="17.3" width="3.0" height="1.6" fill="#13488c" fill-opacity="0.43"/><rect x="9.1" y="21.4" width="1.8" height="1.6" fill="#13488c" fill-opacity="0.60"/><rect x="13.0" y="11.1" width="3.2" height="1.2" fill="#13488c" fill-opacity="0.35"/><rect x="29.2" y="23.8" width="3.4" height="1.7" fill="#13488c" fill-opacity="0.92"/><rect x="28.7" y="6.0" width="2.8" height="2.3" fill="#13488c" fill-opacity="0.75"/><rect x="16.1" y="7.8" width="2.0" height="1.4" fill="#13488c" fill-opacity="0.39"/><rect x="18.2" y="7.7" width="3.0" height="1.1" fill="#13488c" fill-opacity="0.89"/><rect x="21.5" y="24.9" width="3.2" height="2.4" fill="#13488c" fill-opacity="0.70"/><rect x="0.4" y="20.1" width="1.6" height="1.5" fill="#13488c" fill-opacity="0.75"/><rect x="16.3" y="11.2" width="3.3" height="2.0" fill="#13488c" fill-opacity="0.55"/><rect x="7.8" y="23.3" width="2.2" height="2.3" fill="#13488c" fill-opacity="0.56"/><rect x="6.1" y="14.4" width="3.0" height="1.3" fill="#13488c" fill-opacity="0.83"/><rect x="28.6" y="21.8" width="3.0" height="1.0" fill="#13488c" fill-opacity="0.73"/><rect x="26.7" y="1.3" width="1.8" height="1.4" fill="#13488c" fill-opacity="0.67"/><rect x="13.1" y="12.8" width="2.9" height="1.0" fill="#13488c" fill-opacity="0.38"/><rect x="3.9" y="3.4" width="1.4" height="2.6" fill="#13488c" fill-opacity="0.86"/><rect x="2.7" y="13.6" width="1.9" height="1.5" fill="#13488c" fill-opacity="0.56"/><rect x="20.1" y="15.8" width="2.0" height="1.3" fill="#13488c" fill-opacity="0.55"/><rect x="3.8" y="15.0" width="2.8" height="1.6" fill="#13488c" fill-opacity="0.40"/><rect x="5.5" y="10.1" width="2.5" height="2.3" fill="#13488c" fill-opacity="0.58"/><rect x="24.8" y="16.8" width="2.1" height="1.6" fill="#13488c" fill-opacity="0.65"/><rect x="21.8" y="11.4" width="2.7" height="1.7" fill="#13488c" fill-opacity="0.50"/><rect x="16.6" y="18.8" width="1.4" height="1.7" fill="#13488c" fill-opacity="0.61"/><rect x="27.3" y="25.3" width="2.0" height="2.4" fill="#13488c" fill-opacity="0.82"/><rect x="8.1" y="12.5" width="1.5" height="2.3" fill="#13488c" fill-opacity="0.75"/><rect x="27.5" y="21.4" width="2.7" height="2.2" fill="#13488c" fill-opacity="0.69"/><rect x="3.2" y="15.9" width="1.2" height="1.2" fill="#13488c" fill-opacity="0.81"/><rect x="1.4" y="2.5" width="1.4" height="2.4" fill="#13488c" fill-opacity="0.46"/><rect x="0.7" y="22.7" width="1.5" height="2.4" fill="#13488c" fill-opacity="0.75"/><rect x="25.9" y="25.7" width="2.5" height="2.3" fill="#13488c" fill-opacity="0.37"/><rect x="23.8" y="13.8" width="2.8" height="1.2" fill="#13488c" fill-opacity="0.80"/><rect x="29.0" y="1.7" width="1.9" height="1.9" fill="#13488c" fill-opacity="0.85"/><rect x="7.5" y="4.9" width="1.7" height="2.0" fill="#13488c" fill-opacity="0.80"/><rect x="12.2" y="9.9" width="2.1" height="1.6" fill="#13488c" fill-opacity="0.60"/><rect x="2.6" y="13.5" width="3.3" height="1.7" fill="#13488c" fill-opacity="0.80"/><rect x="5.0" y="18.7" width="2.9" height="2.1" fill="#13488c" fill-opacity="0.66"/><rect x="15.0" y="17.4" width="3.2" height="1.2" fill="#13488c" fill-opacity="0.41"/><rect x="23.2" y="24.7" width="2.3" height="1.7" fill="#13488c" fill-opacity="0.78"/><rect x="5.8" y="7.2" width="1.6" height="1.9" fill="#13488c" fill-opacity="0.54"/><rect x="7.2" y="18.7" width="3.3" height="1.5" fill="#13488c" fill-opacity="0.77"/><rect x="12.8" y="23.0" width="2.5" height="1.4" fill="#13488c" fill-opacity="0.48"/><rect x="0.7" y="12.9" width="2.0" height="1.3" fill="#13488c" fill-opacity="0.57"/><rect x="10.0" y="20.9" width="1.5" height="2.6" fill="#13488c" fill-opacity="0.64"/><rect x="18.6" y="12.6" width="3.0" height="2.3" fill="#13488c" fill-opacity="0.68"/><rect x="14.9" y="19.5" width="3.1" height="1.6" fill="#13488c" fill-opacity="0.79"/><rect x="29.8" y="12.6" width="1.7" height="1.4" fill="#13488c" fill-opacity="0.78"/><rect x="20.9" y="25.9" width="3.1" height="1.4" fill="#13488c" fill-opacity="0.46"/><rect x="8.0" y="5.1" width="2.8" height="2.4" fill="#13488c" fill-opacity="0.89"/><rect x="7.9" y="23.4" width="1.9" height="1.7" fill="#13488c" fill-opacity="0.79"/><rect x="2.7" y="2.5" width="3.0" height="1.5" fill="#13488c" fill-opacity="0.56"/><rect x="18.0" y="18.2" width="1.2" height="1.5" fill="#13488c" fill-opacity="0.61"/><rect x="15.1" y="5.7" width="2.5" height="2.5" fill="#13488c" fill-opacity="0.58"/><rect x="16.9" y="3.2" width="1.8" height="2.1" fill="#13488c" fill-opacity="0.42"/><rect x="27.5" y="24.5" width="1.4" height="2.5" fill="#13488c" fill-opacity="0.57"/><rect x="23.9" y="20.4" width="1.9" height="2.1" fill="#13488c" fill-opacity="0.74"/><rect x="25.0" y="7.2" width="2.9" height="2.5" fill="#13488c" fill-opacity="0.75"/></pattern><linearGradient id="hm3g" gradientUnits="userSpaceOnUse" x1="1073.2" y1="1942.5" x2="1056.9" y2="1959.8"><stop offset="0" stop-color="#1f5fa8" stop-opacity="0.6"/><stop offset="0.4" stop-color="#3f7dc0" stop-opacity="0.3"/><stop offset="1" stop-color="#6fa3d6" stop-opacity="0"/></linearGradient></defs><rect x="929.4" y="1806.5" width="287.6" height="272.0" fill="#f3f7fd"/><path d="M929.4 1806.5L1217 2078.5H929.4Z" fill="#eff5fb"/><path d="M929.4 1806.5L1217 2078.5H929.4Z" fill="url(#hm3v)"/><path d="M929.4 1806.5L1217 2078.5H929.4Z" fill="url(#hm3l)"/><path d="M929.4 1806.5L956.1 1831.8V1839.1H929.4Z" fill="url(#hm3d)"/><path d="M929.4 1806.5L956.1 1831.8V1863.4H929.4Z" fill="url(#hm3l)"/><path d="M956.1 1831.8L978.6 1853.0V1870.2H956.1Z" fill="url(#hm3d)"/><path d="M956.1 1831.8L978.6 1853.0V1899.5H956.1Z" fill="url(#hm3l)"/><path d="M978.6 1853.0L1006.0 1879.0V1887.4H978.6Z" fill="url(#hm3d)"/><path d="M978.6 1853.0L1006.0 1879.0V1915.8H978.6Z" fill="url(#hm3l)"/><path d="M1006.0 1879.0L1034.9 1906.3V1914.6H1006.0Z" fill="url(#hm3d)"/><path d="M1006.0 1879.0L1034.9 1906.3V1949.7H1006.0Z" fill="url(#hm3l)"/><path d="M1034.9 1906.3L1064.4 1934.1V1941.6H1034.9Z" fill="url(#hm3d)"/><path d="M1034.9 1906.3L1064.4 1934.1V1977.8H1034.9Z" fill="url(#hm3l)"/><path d="M1064.4 1934.1L1082.0 1950.8V1961.7H1064.4Z" fill="url(#hm3d)"/><path d="M1064.4 1934.1L1082.0 1950.8V1992.1H1064.4Z" fill="url(#hm3l)"/><path d="M1082.0 1950.8L1110.1 1977.4V1991.9H1082.0Z" fill="url(#hm3d)"/><path d="M1082.0 1950.8L1110.1 1977.4V2020.4H1082.0Z" fill="url(#hm3l)"/><path d="M1110.1 1977.4L1135.0 2001.0V2011.5H1110.1Z" fill="url(#hm3d)"/><path d="M1110.1 1977.4L1135.0 2001.0V2027.2H1110.1Z" fill="url(#hm3l)"/><path d="M1135.0 2001.0L1151.0 2016.1V2033.2H1135.0Z" fill="url(#hm3d)"/><path d="M1135.0 2001.0L1151.0 2016.1V2064.6H1135.0Z" fill="url(#hm3l)"/><path d="M1151.0 2016.1L1177.9 2041.5V2059.0H1151.0Z" fill="url(#hm3d)"/><path d="M1151.0 2016.1L1177.9 2041.5V2078.5H1151.0Z" fill="url(#hm3l)"/><path d="M1177.9 2041.5L1198.4 2060.9V2072.6H1177.9Z" fill="url(#hm3d)"/><path d="M1177.9 2041.5L1198.4 2060.9V2078.5H1177.9Z" fill="url(#hm3l)"/><path d="M1198.4 2060.9L1213.7 2075.4V2078.5H1198.4Z" fill="url(#hm3d)"/><path d="M1198.4 2060.9L1213.7 2075.4V2078.5H1198.4Z" fill="url(#hm3l)"/><path d="M1213.7 2075.4L1217.0 2078.5V2078.5H1213.7Z" fill="url(#hm3d)"/><path d="M1213.7 2075.4L1217.0 2078.5V2078.5H1213.7Z" fill="url(#hm3l)"/><path d="M929.4 1806.5L1217 2078.5L1194.0 2078.5L929.4 1828.3Z" fill="url(#hm3g)"/><path d="M966.8 1841.9V2078.5" stroke="#1d4f8e" stroke-opacity="0.8" stroke-width="1.5"/><path d="M1039.6 1910.7V2078.5" stroke="#4f86c2" stroke-opacity="0.16" stroke-width="1.9"/><path d="M1025.8 1897.7V2078.5" stroke="#4f86c2" stroke-opacity="0.20" stroke-width="1.1"/><path d="M1003.3 1876.4V2078.5" stroke="#4f86c2" stroke-opacity="0.09" stroke-width="1.1"/><path d="M1142.2 2007.8V2078.5" stroke="#4f86c2" stroke-opacity="0.18" stroke-width="1.2"/><path d="M981.1 1855.4V2078.5" stroke="#4f86c2" stroke-opacity="0.14" stroke-width="1.9"/><path d="M1152.3 2017.3V2078.5" stroke="#4f86c2" stroke-opacity="0.18" stroke-width="1.7"/><path d="M969.4 1844.3V2078.5" stroke="#4f86c2" stroke-opacity="0.14" stroke-width="1.2"/><path d="M1073.6 1942.8V2078.5" stroke="#4f86c2" stroke-opacity="0.16" stroke-width="1.2"/><path d="M997.7 1871.1V2078.5" stroke="#4f86c2" stroke-opacity="0.19" stroke-width="1.0"/><path d="M1148.8 2014.0V2078.5" stroke="#4f86c2" stroke-opacity="0.20" stroke-width="2.1"/><path d="M1034.1 1905.5V2078.5" stroke="#4f86c2" stroke-opacity="0.16" stroke-width="1.7"/><path d="M1102.5 1970.2V2078.5" stroke="#4f86c2" stroke-opacity="0.22" stroke-width="1.8"/><path d="M1011.2 1883.9V2078.5" stroke="#4f86c2" stroke-opacity="0.20" stroke-width="1.6"/><path d="M1093.7 1961.9V2078.5" stroke="#4f86c2" stroke-opacity="0.18" stroke-width="1.0"/><path d="M1139.9 2005.6V2078.5" stroke="#4f86c2" stroke-opacity="0.17" stroke-width="1.6"/><path d="M1072.5 1941.8V2078.5" stroke="#4f86c2" stroke-opacity="0.14" stroke-width="1.2"/><path d="M1036.0 1975.4L1061.1 1999.2" stroke="#2a64a8" stroke-opacity="0.41" stroke-width="1.6" stroke-dasharray="5 2 2 2"/><path d="M1018.8 2009.0L1074.4 2061.6" stroke="#2a64a8" stroke-opacity="0.47" stroke-width="1.6" stroke-dasharray="5 2 2 2"/><path d="M956.7 1913.7L1025.3 1978.6" stroke="#2a64a8" stroke-opacity="0.26" stroke-width="1.6" stroke-dasharray="5 2 2 2"/><path d="M1001.9 1897.1L1038.3 1931.6" stroke="#2a64a8" stroke-opacity="0.38" stroke-width="1.6" stroke-dasharray="5 2 2 2"/><path d="M1069.2 2045.7L1100.0 2074.8" stroke="#2a64a8" stroke-opacity="0.40" stroke-width="1.6" stroke-dasharray="5 2 2 2"/><path d="M1116.0 2077.1L1117.5 2078.5" stroke="#2a64a8" stroke-opacity="0.34" stroke-width="1.6" stroke-dasharray="5 2 2 2"/><path d="M1112.5 2069.4l5 5M1117.5 2069.4l-5 5" stroke="#1d5aa0" stroke-opacity="0.56" stroke-width="1.5"/><path d="M1027.5 2033.0l5 5M1032.5 2033.0l-5 5" stroke="#1d5aa0" stroke-opacity="0.45" stroke-width="1.5"/><path d="M952.0 1838.3l5 5M957.0 1838.3l-5 5" stroke="#1d5aa0" stroke-opacity="0.32" stroke-width="1.5"/><path d="M973.0 1884.3l5 5M978.0 1884.3l-5 5" stroke="#1d5aa0" stroke-opacity="0.45" stroke-width="1.5"/><path d="M1087.8 2020.6l5 5M1092.8 2020.6l-5 5" stroke="#1d5aa0" stroke-opacity="0.43" stroke-width="1.5"/><path d="M1076.3 1985.1l5 5M1081.3 1985.1l-5 5" stroke="#1d5aa0" stroke-opacity="0.44" stroke-width="1.5"/><path d="M1101.1 2011.8l5 5M1106.1 2011.8l-5 5" stroke="#1d5aa0" stroke-opacity="0.35" stroke-width="1.5"/><path d="M1133.8 2054.6l5 5M1138.8 2054.6l-5 5" stroke="#1d5aa0" stroke-opacity="0.41" stroke-width="1.5"/><path d="M998.4 2035.0L1027.2 2062.2" stroke="#0d3f7f" stroke-width="2.4" stroke-opacity="0.75" stroke-dasharray="7 2 3 2"/><path d="M1087.6 2056.7L1130.7 2097.5" stroke="#0d3f7f" stroke-width="2.4" stroke-opacity="0.75" stroke-dasharray="7 2 3 2"/><path d="M929.4 1806.5L1217 2078.5" stroke="#08306b" stroke-width="3"/><rect x="929.9" y="1807.0" width="286.6" height="271.0" fill="none" stroke="#555" stroke-width="1"/><rect x="1038.3" y="2005.5" width="43.6" height="71.5" fill="none" stroke="#ee1111" stroke-width="3"/></svg><div class="t" style="left:-1880.5px;width:6000px;text-align:center;top:1837.0px;font:400 22.5px/1 'Liberation Sans', sans-serif;color:#111;">Exclude</div><div class="t" style="left:-2070.6px;width:6000px;text-align:center;top:2084.5px;font:400 9.5px/1 'Liberation Sans', sans-serif;color:#333;">0</div><div class="t" style="left:-2038.7px;width:6000px;text-align:center;top:2084.5px;font:400 9.5px/1 'Liberation Sans', sans-serif;color:#333;">25</div><div class="t" style="left:-2006.8px;width:6000px;text-align:center;top:2084.5px;font:400 9.5px/1 'Liberation Sans', sans-serif;color:#333;">50</div><div class="t" style="left:-1974.8px;width:6000px;text-align:center;top:2084.5px;font:400 9.5px/1 'Liberation Sans', sans-serif;color:#333;">75</div><div class="t" style="left:-1942.9px;width:6000px;text-align:center;top:2084.5px;font:400 9.5px/1 'Liberation Sans', sans-serif;color:#333;">100</div><div class="t" style="left:-1910.7px;width:6000px;text-align:center;top:2084.5px;font:400 9.5px/1 'Liberation Sans', sans-serif;color:#333;">125</div><div class="t" style="left:-1878.8px;width:6000px;text-align:center;top:2084.5px;font:400 9.5px/1 'Liberation Sans', sans-serif;color:#333;">150</div><div class="t" style="left:-1846.8px;width:6000px;text-align:center;top:2084.5px;font:400 9.5px/1 'Liberation Sans', sans-serif;color:#333;">175</div><div class="t" style="left:-1814.9px;width:6000px;text-align:center;top:2084.5px;font:400 9.5px/1 'Liberation Sans', sans-serif;color:#333;">200</div><div class="t" style="left:-5074.6px;width:6000px;text-align:right;top:1802.0px;font:400 9.5px/1 'Liberation Sans', sans-serif;color:#333;">0</div><div class="t" style="left:-5074.6px;width:6000px;text-align:right;top:1832.2px;font:400 9.5px/1 'Liberation Sans', sans-serif;color:#333;">25</div><div class="t" style="left:-5074.6px;width:6000px;text-align:right;top:1862.3px;font:400 9.5px/1 'Liberation Sans', sans-serif;color:#333;">50</div><div class="t" style="left:-5074.6px;width:6000px;text-align:right;top:1892.5px;font:400 9.5px/1 'Liberation Sans', sans-serif;color:#333;">75</div><div class="t" style="left:-5074.6px;width:6000px;text-align:right;top:1922.7px;font:400 9.5px/1 'Liberation Sans', sans-serif;color:#333;">100</div><div class="t" style="left:-5074.6px;width:6000px;text-align:right;top:1953.2px;font:400 9.5px/1 'Liberation Sans', sans-serif;color:#333;">125</div><div class="t" style="left:-5074.6px;width:6000px;text-align:right;top:1983.4px;font:400 9.5px/1 'Liberation Sans', sans-serif;color:#333;">150</div><div class="t" style="left:-5074.6px;width:6000px;text-align:right;top:2013.6px;font:400 9.5px/1 'Liberation Sans', sans-serif;color:#333;">175</div><div class="t" style="left:-5074.6px;width:6000px;text-align:right;top:2043.8px;font:400 9.5px/1 'Liberation Sans', sans-serif;color:#333;">200</div><svg class="a" style="left:362px;top:2164.9px" width="293.0" height="276.5" viewBox="362 2164.9 293.0 276.5"><defs><pattern id="hm4l" width="37" height="29" patternUnits="userSpaceOnUse" x="362" y="2164.9"><rect x="8.7" y="3.0" width="1.6" height="1.2" fill="#3b7bbf" fill-opacity="0.14"/><rect x="14.9" y="26.6" width="2.2" height="1.8" fill="#3b7bbf" fill-opacity="0.19"/><rect x="19.9" y="8.0" width="1.3" height="1.1" fill="#3b7bbf" fill-opacity="0.18"/><rect x="34.3" y="24.0" width="2.2" height="1.8" fill="#3b7bbf" fill-opacity="0.18"/><rect x="11.5" y="18.2" width="2.1" height="1.9" fill="#3b7bbf" fill-opacity="0.38"/><rect x="3.2" y="17.6" width="2.0" height="1.5" fill="#3b7bbf" fill-opacity="0.17"/><rect x="17.5" y="2.6" width="2.4" height="1.9" fill="#3b7bbf" fill-opacity="0.28"/><rect x="11.1" y="26.4" width="1.9" height="1.9" fill="#3b7bbf" fill-opacity="0.37"/><rect x="18.8" y="12.0" width="1.9" height="1.4" fill="#3b7bbf" fill-opacity="0.17"/><rect x="11.3" y="23.6" width="1.1" height="1.0" fill="#3b7bbf" fill-opacity="0.31"/></pattern><pattern id="hm4v" width="7" height="10" patternUnits="userSpaceOnUse" x="362" y="2164.9"><rect x="0" y="0" width="1.2" height="10" fill="#6b9fd4" fill-opacity="0.14"/><rect x="3.5" y="0" width="0.8" height="10" fill="#6b9fd4" fill-opacity="0.08"/></pattern><pattern id="hm4d" width="31" height="27" patternUnits="userSpaceOnUse" x="362" y="2164.9"><rect x="8.7" y="14.4" width="2.2" height="1.5" fill="#13488c" fill-opacity="0.95"/><rect x="6.1" y="11.1" width="1.6" height="2.0" fill="#13488c" fill-opacity="0.52"/><rect x="11.0" y="20.2" width="1.9" height="1.9" fill="#13488c" fill-opacity="0.89"/><rect x="3.1" y="1.7" width="1.7" height="2.2" fill="#13488c" fill-opacity="0.72"/><rect x="7.4" y="8.9" width="1.6" height="1.7" fill="#13488c" fill-opacity="0.38"/><rect x="21.6" y="24.2" width="3.3" height="2.2" fill="#13488c" fill-opacity="0.93"/><rect x="0.6" y="7.8" width="3.3" height="2.2" fill="#13488c" fill-opacity="0.60"/><rect x="29.2" y="16.8" width="3.0" height="1.5" fill="#13488c" fill-opacity="0.46"/><rect x="13.8" y="3.7" width="2.0" height="2.5" fill="#13488c" fill-opacity="0.55"/><rect x="0.3" y="1.2" width="1.6" height="2.3" fill="#13488c" fill-opacity="0.57"/><rect x="9.0" y="2.6" width="3.4" height="1.7" fill="#13488c" fill-opacity="0.47"/><rect x="1.8" y="1.5" width="1.6" height="2.1" fill="#13488c" fill-opacity="0.44"/><rect x="1.3" y="13.2" width="1.7" height="2.6" fill="#13488c" fill-opacity="0.42"/><rect x="16.4" y="20.9" width="2.1" height="2.6" fill="#13488c" fill-opacity="0.64"/><rect x="7.5" y="11.1" width="1.3" height="1.7" fill="#13488c" fill-opacity="0.50"/><rect x="27.6" y="22.4" width="2.3" height="1.1" fill="#13488c" fill-opacity="0.50"/><rect x="7.5" y="5.6" width="1.7" height="2.4" fill="#13488c" fill-opacity="0.44"/><rect x="1.6" y="25.1" width="2.4" height="2.6" fill="#13488c" fill-opacity="0.59"/><rect x="27.9" y="17.7" width="2.9" height="2.2" fill="#13488c" fill-opacity="0.65"/><rect x="2.9" y="5.7" width="3.1" height="2.4" fill="#13488c" fill-opacity="0.90"/><rect x="10.4" y="17.7" width="3.0" height="2.0" fill="#13488c" fill-opacity="0.84"/><rect x="16.4" y="17.7" width="2.7" height="1.4" fill="#13488c" fill-opacity="0.90"/><rect x="29.6" y="2.0" width="3.3" height="2.5" fill="#13488c" fill-opacity="0.75"/><rect x="1.4" y="24.3" width="1.5" height="2.5" fill="#13488c" fill-opacity="0.75"/><rect x="1.9" y="4.5" width="2.6" height="1.9" fill="#13488c" fill-opacity="0.80"/><rect x="28.8" y="5.9" width="1.2" height="2.5" fill="#13488c" fill-opacity="0.36"/><rect x="27.2" y="3.1" width="3.0" height="2.3" fill="#13488c" fill-opacity="0.88"/><rect x="17.1" y="23.7" width="1.6" height="2.1" fill="#13488c" fill-opacity="0.55"/><rect x="27.6" y="20.9" width="2.2" height="1.8" fill="#13488c" fill-opacity="0.37"/><rect x="1.1" y="16.1" width="2.3" height="2.4" fill="#13488c" fill-opacity="0.71"/><rect x="4.3" y="9.8" width="2.9" height="1.8" fill="#13488c" fill-opacity="0.36"/><rect x="26.0" y="22.3" width="1.4" height="1.9" fill="#13488c" fill-opacity="0.58"/><rect x="24.4" y="8.4" width="1.7" height="1.8" fill="#13488c" fill-opacity="0.93"/><rect x="2.9" y="3.1" width="2.6" height="2.4" fill="#13488c" fill-opacity="0.66"/><rect x="13.5" y="23.2" width="2.9" height="1.1" fill="#13488c" fill-opacity="0.88"/><rect x="6.1" y="8.2" width="3.0" height="1.7" fill="#13488c" fill-opacity="0.83"/><rect x="5.2" y="23.6" width="1.6" height="1.2" fill="#13488c" fill-opacity="0.65"/><rect x="10.5" y="14.6" width="3.2" height="2.1" fill="#13488c" fill-opacity="0.35"/><rect x="9.7" y="14.7" width="2.3" height="2.1" fill="#13488c" fill-opacity="0.64"/><rect x="2.3" y="6.6" width="3.1" height="1.6" fill="#13488c" fill-opacity="0.81"/><rect x="30.6" y="16.9" width="2.7" height="2.0" fill="#13488c" fill-opacity="0.54"/><rect x="28.3" y="12.6" width="3.2" height="1.5" fill="#13488c" fill-opacity="0.87"/><rect x="24.4" y="16.6" width="2.2" height="1.2" fill="#13488c" fill-opacity="0.81"/><rect x="11.2" y="17.9" width="1.5" height="1.1" fill="#13488c" fill-opacity="0.44"/><rect x="25.1" y="4.8" width="3.2" height="1.6" fill="#13488c" fill-opacity="0.70"/><rect x="10.9" y="16.8" width="1.4" height="1.6" fill="#13488c" fill-opacity="0.91"/><rect x="5.6" y="17.7" width="1.9" height="1.5" fill="#13488c" fill-opacity="0.36"/><rect x="0.6" y="25.6" width="3.0" height="2.3" fill="#13488c" fill-opacity="0.83"/><rect x="29.6" y="4.3" width="2.5" height="1.8" fill="#13488c" fill-opacity="0.69"/><rect x="29.1" y="20.5" width="3.3" height="1.2" fill="#13488c" fill-opacity="0.74"/><rect x="20.9" y="20.1" width="2.6" height="2.3" fill="#13488c" fill-opacity="0.53"/><rect x="28.8" y="11.0" width="2.5" height="2.4" fill="#13488c" fill-opacity="0.77"/><rect x="9.6" y="6.2" width="1.9" height="2.0" fill="#13488c" fill-opacity="0.95"/><rect x="27.9" y="10.8" width="2.1" height="2.3" fill="#13488c" fill-opacity="0.52"/><rect x="12.8" y="0.4" width="1.6" height="1.9" fill="#13488c" fill-opacity="0.77"/><rect x="19.1" y="9.8" width="3.3" height="2.0" fill="#13488c" fill-opacity="0.44"/><rect x="2.1" y="26.3" width="3.4" height="2.5" fill="#13488c" fill-opacity="0.71"/><rect x="9.7" y="2.5" width="1.8" height="1.4" fill="#13488c" fill-opacity="0.91"/><rect x="27.7" y="21.0" width="1.5" height="1.4" fill="#13488c" fill-opacity="0.53"/><rect x="29.4" y="4.4" width="2.9" height="2.1" fill="#13488c" fill-opacity="0.68"/><rect x="29.7" y="7.1" width="2.4" height="1.3" fill="#13488c" fill-opacity="0.41"/><rect x="1.0" y="8.5" width="1.5" height="1.1" fill="#13488c" fill-opacity="0.95"/><rect x="9.0" y="24.0" width="2.7" height="2.2" fill="#13488c" fill-opacity="0.74"/><rect x="29.5" y="23.7" width="2.8" height="1.9" fill="#13488c" fill-opacity="0.77"/><rect x="22.4" y="14.9" width="2.3" height="1.2" fill="#13488c" fill-opacity="0.86"/><rect x="15.0" y="1.8" width="1.6" height="2.4" fill="#13488c" fill-opacity="0.50"/><rect x="12.1" y="18.4" width="3.1" height="1.5" fill="#13488c" fill-opacity="0.58"/><rect x="13.1" y="0.8" width="3.1" height="1.0" fill="#13488c" fill-opacity="0.93"/><rect x="4.7" y="4.2" width="3.1" height="2.3" fill="#13488c" fill-opacity="0.49"/><rect x="17.2" y="12.9" width="2.8" height="1.3" fill="#13488c" fill-opacity="0.85"/><rect x="30.9" y="19.1" width="3.2" height="2.5" fill="#13488c" fill-opacity="0.58"/><rect x="26.3" y="22.5" width="2.5" height="1.2" fill="#13488c" fill-opacity="0.72"/><rect x="28.3" y="8.2" width="2.6" height="2.4" fill="#13488c" fill-opacity="0.71"/><rect x="1.2" y="17.1" width="1.8" height="2.4" fill="#13488c" fill-opacity="0.75"/><rect x="9.5" y="24.2" width="2.6" height="1.5" fill="#13488c" fill-opacity="0.85"/><rect x="27.6" y="24.1" width="3.1" height="2.1" fill="#13488c" fill-opacity="0.77"/><rect x="18.7" y="14.2" width="3.4" height="1.6" fill="#13488c" fill-opacity="0.40"/><rect x="22.1" y="13.4" width="2.4" height="2.0" fill="#13488c" fill-opacity="0.50"/><rect x="6.2" y="1.9" width="2.9" height="2.5" fill="#13488c" fill-opacity="0.77"/><rect x="3.6" y="26.4" width="3.0" height="1.8" fill="#13488c" fill-opacity="0.35"/></pattern><linearGradient id="hm4g" gradientUnits="userSpaceOnUse" x1="508.5" y1="2303.2" x2="491.9" y2="2320.7"><stop offset="0" stop-color="#1f5fa8" stop-opacity="0.6"/><stop offset="0.4" stop-color="#3f7dc0" stop-opacity="0.3"/><stop offset="1" stop-color="#6fa3d6" stop-opacity="0"/></linearGradient></defs><rect x="362" y="2164.9" width="293.0" height="276.5" fill="#f3f7fd"/><path d="M362 2164.9L655 2441.4H362Z" fill="#eff5fb"/><path d="M362 2164.9L655 2441.4H362Z" fill="url(#hm4v)"/><path d="M362 2164.9L655 2441.4H362Z" fill="url(#hm4l)"/><path d="M362.0 2164.9L396.4 2197.4V2213.3H362.0Z" fill="url(#hm4d)"/><path d="M362.0 2164.9L396.4 2197.4V2241.5H362.0Z" fill="url(#hm4l)"/><path d="M396.4 2197.4L411.5 2211.6V2229.3H396.4Z" fill="url(#hm4d)"/><path d="M396.4 2197.4L411.5 2211.6V2241.3H396.4Z" fill="url(#hm4l)"/><path d="M411.5 2211.6L437.4 2236.0V2244.0H411.5Z" fill="url(#hm4d)"/><path d="M411.5 2211.6L437.4 2236.0V2265.0H411.5Z" fill="url(#hm4l)"/><path d="M437.4 2236.0L472.9 2269.5V2287.5H437.4Z" fill="url(#hm4d)"/><path d="M437.4 2236.0L472.9 2269.5V2321.1H437.4Z" fill="url(#hm4l)"/><path d="M472.9 2269.5L494.5 2290.0V2301.9H472.9Z" fill="url(#hm4d)"/><path d="M472.9 2269.5L494.5 2290.0V2329.7H472.9Z" fill="url(#hm4l)"/><path d="M494.5 2290.0L510.0 2304.5V2316.9H494.5Z" fill="url(#hm4d)"/><path d="M494.5 2290.0L510.0 2304.5V2354.9H494.5Z" fill="url(#hm4l)"/><path d="M510.0 2304.5L542.3 2335.0V2354.9H510.0Z" fill="url(#hm4d)"/><path d="M510.0 2304.5L542.3 2335.0V2374.2H510.0Z" fill="url(#hm4l)"/><path d="M542.3 2335.0L573.1 2364.1V2382.8H542.3Z" fill="url(#hm4d)"/><path d="M542.3 2335.0L573.1 2364.1V2413.3H542.3Z" fill="url(#hm4l)"/><path d="M573.1 2364.1L598.0 2387.6V2396.1H573.1Z" fill="url(#hm4d)"/><path d="M573.1 2364.1L598.0 2387.6V2407.6H573.1Z" fill="url(#hm4l)"/><path d="M598.0 2387.6L633.5 2421.1V2441.4H598.0Z" fill="url(#hm4d)"/><path d="M598.0 2387.6L633.5 2421.1V2441.4H598.0Z" fill="url(#hm4l)"/><path d="M633.5 2421.1L655.0 2441.4V2441.4H633.5Z" fill="url(#hm4d)"/><path d="M633.5 2421.1L655.0 2441.4V2441.4H633.5Z" fill="url(#hm4l)"/><path d="M362 2164.9L655 2441.4L631.6 2441.4L362 2187.0Z" fill="url(#hm4g)"/><path d="M385.4 2187.0V2441.4" stroke="#1d4f8e" stroke-opacity="0.8" stroke-width="1.5"/><path d="M596.3 2386.0V2441.4" stroke="#4f86c2" stroke-opacity="0.12" stroke-width="1.7"/><path d="M433.3 2232.1V2441.4" stroke="#4f86c2" stroke-opacity="0.15" stroke-width="1.0"/><path d="M435.4 2234.1V2441.4" stroke="#4f86c2" stroke-opacity="0.12" stroke-width="2.1"/><path d="M398.9 2199.7V2441.4" stroke="#4f86c2" stroke-opacity="0.19" stroke-width="1.1"/><path d="M636.6 2424.0V2441.4" stroke="#4f86c2" stroke-opacity="0.10" stroke-width="1.1"/><path d="M420.9 2220.5V2441.4" stroke="#4f86c2" stroke-opacity="0.21" stroke-width="1.8"/><path d="M609.9 2398.8V2441.4" stroke="#4f86c2" stroke-opacity="0.15" stroke-width="1.1"/><path d="M456.8 2254.3V2441.4" stroke="#4f86c2" stroke-opacity="0.14" stroke-width="2.2"/><path d="M408.3 2208.6V2441.4" stroke="#4f86c2" stroke-opacity="0.11" stroke-width="2.0"/><path d="M393.7 2194.8V2441.4" stroke="#4f86c2" stroke-opacity="0.22" stroke-width="1.4"/><path d="M519.9 2313.9V2441.4" stroke="#4f86c2" stroke-opacity="0.17" stroke-width="2.1"/><path d="M383.1 2184.8V2441.4" stroke="#4f86c2" stroke-opacity="0.20" stroke-width="1.2"/><path d="M561.9 2353.6V2441.4" stroke="#4f86c2" stroke-opacity="0.08" stroke-width="1.9"/><path d="M412.4 2212.5V2441.4" stroke="#4f86c2" stroke-opacity="0.11" stroke-width="1.0"/><path d="M452.3 2250.1V2441.4" stroke="#4f86c2" stroke-opacity="0.13" stroke-width="2.2"/><path d="M530.9 2324.3V2441.4" stroke="#4f86c2" stroke-opacity="0.13" stroke-width="2.2"/><path d="M397.3 2317.7L433.3 2351.7" stroke="#2a64a8" stroke-opacity="0.49" stroke-width="1.6" stroke-dasharray="5 2 2 2"/><path d="M502.3 2317.5L583.1 2393.7" stroke="#2a64a8" stroke-opacity="0.48" stroke-width="1.6" stroke-dasharray="5 2 2 2"/><path d="M506.5 2408.3L541.5 2441.4" stroke="#2a64a8" stroke-opacity="0.28" stroke-width="1.6" stroke-dasharray="5 2 2 2"/><path d="M402.9 2270.3L434.4 2300.0" stroke="#2a64a8" stroke-opacity="0.39" stroke-width="1.6" stroke-dasharray="5 2 2 2"/><path d="M472.9 2365.6L517.5 2407.8" stroke="#2a64a8" stroke-opacity="0.46" stroke-width="1.6" stroke-dasharray="5 2 2 2"/><path d="M517.6 2342.4L543.2 2366.7" stroke="#2a64a8" stroke-opacity="0.30" stroke-width="1.6" stroke-dasharray="5 2 2 2"/><path d="M410.9 2246.4L467.9 2300.2" stroke="#2a64a8" stroke-opacity="0.41" stroke-width="1.6" stroke-dasharray="5 2 2 2"/><path d="M440.2 2311.4l5 5M445.2 2311.4l-5 5" stroke="#1d5aa0" stroke-opacity="0.51" stroke-width="1.5"/><path d="M580.9 2384.2l5 5M585.9 2384.2l-5 5" stroke="#1d5aa0" stroke-opacity="0.40" stroke-width="1.5"/><path d="M589.6 2392.1l5 5M594.6 2392.1l-5 5" stroke="#1d5aa0" stroke-opacity="0.31" stroke-width="1.5"/><path d="M404.3 2398.0l5 5M409.3 2398.0l-5 5" stroke="#1d5aa0" stroke-opacity="0.52" stroke-width="1.5"/><path d="M579.5 2404.3l5 5M584.5 2404.3l-5 5" stroke="#1d5aa0" stroke-opacity="0.31" stroke-width="1.5"/><path d="M431.3 2380.3l5 5M436.3 2380.3l-5 5" stroke="#1d5aa0" stroke-opacity="0.42" stroke-width="1.5"/><path d="M392.2 2285.6l5 5M397.2 2285.6l-5 5" stroke="#1d5aa0" stroke-opacity="0.44" stroke-width="1.5"/><path d="M442.9 2329.4l5 5M447.9 2329.4l-5 5" stroke="#1d5aa0" stroke-opacity="0.34" stroke-width="1.5"/><path d="M391.3 2369.5L426.5 2402.7" stroke="#0d3f7f" stroke-width="2.4" stroke-opacity="0.75" stroke-dasharray="7 2 3 2"/><path d="M362 2164.9L655 2441.4" stroke="#08306b" stroke-width="3"/><rect x="362.5" y="2165.4" width="292.0" height="275.5" fill="none" stroke="#555" stroke-width="1"/><rect x="384.5" y="2347.5" width="43.7" height="91.0" fill="none" stroke="#ee1111" stroke-width="3"/></svg><div class="t" style="left:-2441.5px;width:6000px;text-align:center;top:2204.5px;font:400 22.5px/1 'Liberation Sans', sans-serif;color:#111;">Info-Combine</div><div class="t" style="left:-2638.0px;width:6000px;text-align:center;top:2447.4px;font:400 9.5px/1 'Liberation Sans', sans-serif;color:#333;">0</div><div class="t" style="left:-2591.1px;width:6000px;text-align:center;top:2447.4px;font:400 9.5px/1 'Liberation Sans', sans-serif;color:#333;">50</div><div class="t" style="left:-2544.2px;width:6000px;text-align:center;top:2447.4px;font:400 9.5px/1 'Liberation Sans', sans-serif;color:#333;">100</div><div class="t" style="left:-2497.4px;width:6000px;text-align:center;top:2447.4px;font:400 9.5px/1 'Liberation Sans', sans-serif;color:#333;">150</div><div class="t" style="left:-2450.5px;width:6000px;text-align:center;top:2447.4px;font:400 9.5px/1 'Liberation Sans', sans-serif;color:#333;">200</div><div class="t" style="left:-2403.6px;width:6000px;text-align:center;top:2447.4px;font:400 9.5px/1 'Liberation Sans', sans-serif;color:#333;">250</div><div class="t" style="left:-2356.7px;width:6000px;text-align:center;top:2447.4px;font:400 9.5px/1 'Liberation Sans', sans-serif;color:#333;">300</div><div class="t" style="left:-5642.0px;width:6000px;text-align:right;top:2160.4px;font:400 9.5px/1 'Liberation Sans', sans-serif;color:#333;">0</div><div class="t" style="left:-5642.0px;width:6000px;text-align:right;top:2204.6px;font:400 9.5px/1 'Liberation Sans', sans-serif;color:#333;">50</div><div class="t" style="left:-5642.0px;width:6000px;text-align:right;top:2248.8px;font:400 9.5px/1 'Liberation Sans', sans-serif;color:#333;">100</div><div class="t" style="left:-5642.0px;width:6000px;text-align:right;top:2293.1px;font:400 9.5px/1 'Liberation Sans', sans-serif;color:#333;">150</div><div class="t" style="left:-5642.0px;width:6000px;text-align:right;top:2337.3px;font:400 9.5px/1 'Liberation Sans', sans-serif;color:#333;">200</div><div class="t" style="left:-5642.0px;width:6000px;text-align:right;top:2381.6px;font:400 9.5px/1 'Liberation Sans', sans-serif;color:#333;">250</div><div class="t" style="left:-5642.0px;width:6000px;text-align:right;top:2425.8px;font:400 9.5px/1 'Liberation Sans', sans-serif;color:#333;">300</div><svg class="a" style="left:764.8px;top:2166.4px" width="290.8" height="272.6" viewBox="764.8 2166.4 290.8 272.6"><defs><pattern id="hm5l" width="37" height="29" patternUnits="userSpaceOnUse" x="764.8" y="2166.4"><rect x="23.0" y="21.5" width="2.2" height="1.9" fill="#3b7bbf" fill-opacity="0.34"/><rect x="34.1" y="0.8" width="1.7" height="1.9" fill="#3b7bbf" fill-opacity="0.31"/><rect x="33.3" y="3.3" width="1.7" height="1.2" fill="#3b7bbf" fill-opacity="0.28"/><rect x="21.2" y="0.4" width="1.3" height="1.3" fill="#3b7bbf" fill-opacity="0.39"/><rect x="28.3" y="4.6" width="2.2" height="1.1" fill="#3b7bbf" fill-opacity="0.31"/><rect x="4.7" y="0.1" width="2.3" height="1.2" fill="#3b7bbf" fill-opacity="0.18"/><rect x="36.3" y="25.3" width="1.4" height="2.0" fill="#3b7bbf" fill-opacity="0.28"/><rect x="25.1" y="5.9" width="2.4" height="1.7" fill="#3b7bbf" fill-opacity="0.41"/><rect x="33.1" y="8.7" width="1.5" height="1.2" fill="#3b7bbf" fill-opacity="0.16"/><rect x="2.4" y="8.7" width="1.9" height="1.0" fill="#3b7bbf" fill-opacity="0.32"/></pattern><pattern id="hm5v" width="7" height="10" patternUnits="userSpaceOnUse" x="764.8" y="2166.4"><rect x="0" y="0" width="1.2" height="10" fill="#6b9fd4" fill-opacity="0.14"/><rect x="3.5" y="0" width="0.8" height="10" fill="#6b9fd4" fill-opacity="0.08"/></pattern><pattern id="hm5d" width="31" height="27" patternUnits="userSpaceOnUse" x="764.8" y="2166.4"><rect x="10.5" y="8.4" width="3.0" height="1.8" fill="#13488c" fill-opacity="0.54"/><rect x="14.9" y="19.0" width="1.3" height="2.6" fill="#13488c" fill-opacity="0.36"/><rect x="23.2" y="22.8" width="1.2" height="2.3" fill="#13488c" fill-opacity="0.57"/><rect x="17.9" y="0.2" width="1.3" height="1.3" fill="#13488c" fill-opacity="0.92"/><rect x="6.1" y="20.4" width="3.2" height="2.5" fill="#13488c" fill-opacity="0.56"/><rect x="11.0" y="14.2" width="2.9" height="1.2" fill="#13488c" fill-opacity="0.80"/><rect x="24.7" y="23.2" width="1.3" height="2.5" fill="#13488c" fill-opacity="0.40"/><rect x="10.6" y="16.5" width="3.2" height="1.5" fill="#13488c" fill-opacity="0.90"/><rect x="16.9" y="8.4" width="1.9" height="1.3" fill="#13488c" fill-opacity="0.40"/><rect x="4.6" y="18.6" width="3.4" height="1.3" fill="#13488c" fill-opacity="0.38"/><rect x="30.6" y="14.4" width="2.1" height="1.4" fill="#13488c" fill-opacity="0.71"/><rect x="25.6" y="12.3" width="2.1" height="1.1" fill="#13488c" fill-opacity="0.90"/><rect x="1.0" y="13.3" width="3.0" height="1.2" fill="#13488c" fill-opacity="0.79"/><rect x="29.4" y="17.0" width="2.9" height="1.2" fill="#13488c" fill-opacity="0.61"/><rect x="4.6" y="22.8" width="1.8" height="1.7" fill="#13488c" fill-opacity="0.95"/><rect x="26.4" y="26.4" width="2.2" height="1.8" fill="#13488c" fill-opacity="0.79"/><rect x="14.9" y="7.9" width="2.1" height="1.2" fill="#13488c" fill-opacity="0.58"/><rect x="30.6" y="25.9" width="2.6" height="1.8" fill="#13488c" fill-opacity="0.55"/><rect x="2.8" y="7.4" width="2.9" height="2.4" fill="#13488c" fill-opacity="0.57"/><rect x="24.4" y="20.9" width="2.7" height="2.1" fill="#13488c" fill-opacity="0.81"/><rect x="11.3" y="19.0" width="1.8" height="1.8" fill="#13488c" fill-opacity="0.81"/><rect x="21.4" y="7.9" width="3.3" height="2.0" fill="#13488c" fill-opacity="0.70"/><rect x="0.4" y="14.8" width="1.8" height="2.1" fill="#13488c" fill-opacity="0.63"/><rect x="25.3" y="17.5" width="3.0" height="1.6" fill="#13488c" fill-opacity="0.74"/><rect x="22.9" y="22.4" width="2.0" height="2.3" fill="#13488c" fill-opacity="0.87"/><rect x="21.3" y="26.4" width="3.3" height="1.8" fill="#13488c" fill-opacity="0.67"/><rect x="5.2" y="22.6" width="3.3" height="1.8" fill="#13488c" fill-opacity="0.76"/><rect x="22.3" y="19.7" width="1.6" height="2.2" fill="#13488c" fill-opacity="0.70"/><rect x="20.6" y="11.4" width="2.6" height="2.2" fill="#13488c" fill-opacity="0.73"/><rect x="22.3" y="0.7" width="1.6" height="1.7" fill="#13488c" fill-opacity="0.74"/><rect x="6.8" y="18.5" width="2.6" height="1.1" fill="#13488c" fill-opacity="0.63"/><rect x="7.0" y="1.5" width="1.5" height="1.5" fill="#13488c" fill-opacity="0.46"/><rect x="6.0" y="1.0" width="2.2" height="1.6" fill="#13488c" fill-opacity="0.72"/><rect x="18.3" y="6.4" width="3.2" height="1.0" fill="#13488c" fill-opacity="0.59"/><rect x="8.6" y="11.1" width="1.5" height="2.3" fill="#13488c" fill-opacity="0.57"/><rect x="1.1" y="16.6" width="1.4" height="1.9" fill="#13488c" fill-opacity="0.55"/><rect x="18.0" y="25.9" width="3.0" height="1.7" fill="#13488c" fill-opacity="0.84"/><rect x="19.9" y="10.0" width="1.5" height="2.0" fill="#13488c" fill-opacity="0.69"/><rect x="29.7" y="26.1" width="2.5" height="1.6" fill="#13488c" fill-opacity="0.89"/><rect x="0.0" y="2.9" width="2.4" height="2.0" fill="#13488c" fill-opacity="0.43"/><rect x="19.5" y="24.1" width="2.0" height="1.7" fill="#13488c" fill-opacity="0.49"/><rect x="9.0" y="26.3" width="2.0" height="2.5" fill="#13488c" fill-opacity="0.90"/><rect x="18.5" y="7.0" width="3.4" height="1.8" fill="#13488c" fill-opacity="0.60"/><rect x="9.9" y="26.6" width="2.3" height="1.5" fill="#13488c" fill-opacity="0.64"/><rect x="3.8" y="16.8" width="2.2" height="1.5" fill="#13488c" fill-opacity="0.82"/><rect x="25.6" y="0.4" width="2.4" height="1.4" fill="#13488c" fill-opacity="0.91"/><rect x="24.2" y="6.6" width="1.8" height="1.2" fill="#13488c" fill-opacity="0.94"/><rect x="9.1" y="16.4" width="2.2" height="2.0" fill="#13488c" fill-opacity="0.71"/><rect x="23.0" y="3.2" width="2.9" height="1.5" fill="#13488c" fill-opacity="0.67"/><rect x="10.4" y="8.0" width="2.4" height="1.7" fill="#13488c" fill-opacity="0.57"/><rect x="23.1" y="16.0" width="1.3" height="1.4" fill="#13488c" fill-opacity="0.62"/><rect x="28.4" y="24.0" width="2.4" height="1.0" fill="#13488c" fill-opacity="0.82"/><rect x="13.3" y="15.5" width="2.8" height="2.0" fill="#13488c" fill-opacity="0.64"/><rect x="28.3" y="10.4" width="2.1" height="2.4" fill="#13488c" fill-opacity="0.47"/><rect x="9.2" y="22.4" width="1.3" height="2.3" fill="#13488c" fill-opacity="0.77"/><rect x="13.4" y="7.7" width="2.9" height="2.5" fill="#13488c" fill-opacity="0.44"/><rect x="14.8" y="14.8" width="2.3" height="1.5" fill="#13488c" fill-opacity="0.44"/><rect x="18.2" y="21.9" width="1.4" height="1.4" fill="#13488c" fill-opacity="0.84"/><rect x="24.5" y="17.9" width="1.3" height="2.2" fill="#13488c" fill-opacity="0.94"/><rect x="30.9" y="18.9" width="1.3" height="2.3" fill="#13488c" fill-opacity="0.48"/><rect x="20.0" y="25.7" width="2.8" height="1.2" fill="#13488c" fill-opacity="0.53"/><rect x="28.5" y="4.0" width="2.5" height="1.7" fill="#13488c" fill-opacity="0.45"/><rect x="19.3" y="1.2" width="1.4" height="1.6" fill="#13488c" fill-opacity="0.39"/><rect x="1.8" y="15.5" width="2.8" height="2.4" fill="#13488c" fill-opacity="0.43"/><rect x="13.4" y="8.5" width="2.5" height="1.8" fill="#13488c" fill-opacity="0.91"/><rect x="11.6" y="1.5" width="2.7" height="1.2" fill="#13488c" fill-opacity="0.73"/><rect x="15.7" y="24.6" width="2.4" height="2.0" fill="#13488c" fill-opacity="0.51"/><rect x="17.1" y="6.9" width="2.9" height="1.8" fill="#13488c" fill-opacity="0.43"/><rect x="7.3" y="10.0" width="2.8" height="1.3" fill="#13488c" fill-opacity="0.78"/><rect x="20.3" y="2.3" width="2.7" height="1.1" fill="#13488c" fill-opacity="0.42"/><rect x="18.4" y="6.4" width="3.1" height="1.8" fill="#13488c" fill-opacity="0.54"/><rect x="24.7" y="0.8" width="2.8" height="1.1" fill="#13488c" fill-opacity="0.44"/><rect x="29.5" y="18.4" width="1.7" height="1.2" fill="#13488c" fill-opacity="0.93"/><rect x="20.6" y="22.2" width="1.5" height="2.0" fill="#13488c" fill-opacity="0.56"/><rect x="7.3" y="9.0" width="2.6" height="1.6" fill="#13488c" fill-opacity="0.58"/><rect x="4.2" y="22.4" width="2.6" height="2.3" fill="#13488c" fill-opacity="0.61"/><rect x="26.4" y="14.0" width="2.5" height="1.9" fill="#13488c" fill-opacity="0.79"/><rect x="12.3" y="2.6" width="1.3" height="1.3" fill="#13488c" fill-opacity="0.37"/><rect x="27.6" y="13.0" width="2.9" height="1.0" fill="#13488c" fill-opacity="0.63"/><rect x="27.6" y="16.7" width="2.1" height="1.7" fill="#13488c" fill-opacity="0.41"/></pattern><linearGradient id="hm5g" gradientUnits="userSpaceOnUse" x1="910.2" y1="2302.7" x2="893.8" y2="2320.1"><stop offset="0" stop-color="#1f5fa8" stop-opacity="0.6"/><stop offset="0.4" stop-color="#3f7dc0" stop-opacity="0.3"/><stop offset="1" stop-color="#6fa3d6" stop-opacity="0"/></linearGradient></defs><rect x="764.8" y="2166.4" width="290.8" height="272.6" fill="#f3f7fd"/><path d="M764.8 2166.4L1055.6 2439H764.8Z" fill="#eff5fb"/><path d="M764.8 2166.4L1055.6 2439H764.8Z" fill="url(#hm5v)"/><path d="M764.8 2166.4L1055.6 2439H764.8Z" fill="url(#hm5l)"/><path d="M764.8 2166.4L782.9 2183.4V2191.5H764.8Z" fill="url(#hm5d)"/><path d="M764.8 2166.4L782.9 2183.4V2212.6H764.8Z" fill="url(#hm5l)"/><path d="M782.9 2183.4L806.5 2205.4V2225.3H782.9Z" fill="url(#hm5d)"/><path d="M782.9 2183.4L806.5 2205.4V2240.3H782.9Z" fill="url(#hm5l)"/><path d="M806.5 2205.4L826.9 2224.6V2234.6H806.5Z" fill="url(#hm5d)"/><path d="M806.5 2205.4L826.9 2224.6V2249.9H806.5Z" fill="url(#hm5l)"/><path d="M826.9 2224.6L848.1 2244.5V2253.8H826.9Z" fill="url(#hm5d)"/><path d="M826.9 2224.6L848.1 2244.5V2277.8H826.9Z" fill="url(#hm5l)"/><path d="M848.1 2244.5L863.4 2258.8V2279.4H848.1Z" fill="url(#hm5d)"/><path d="M848.1 2244.5L863.4 2258.8V2300.4H848.1Z" fill="url(#hm5l)"/><path d="M863.4 2258.8L899.8 2292.9V2309.6H863.4Z" fill="url(#hm5d)"/><path d="M863.4 2258.8L899.8 2292.9V2338.9H863.4Z" fill="url(#hm5l)"/><path d="M899.8 2292.9L925.3 2316.8V2337.8H899.8Z" fill="url(#hm5d)"/><path d="M899.8 2292.9L925.3 2316.8V2351.9H899.8Z" fill="url(#hm5l)"/><path d="M925.3 2316.8L955.4 2345.0V2355.3H925.3Z" fill="url(#hm5d)"/><path d="M925.3 2316.8L955.4 2345.0V2384.5H925.3Z" fill="url(#hm5l)"/><path d="M955.4 2345.0L986.9 2374.6V2382.7H955.4Z" fill="url(#hm5d)"/><path d="M955.4 2345.0L986.9 2374.6V2399.1H955.4Z" fill="url(#hm5l)"/><path d="M986.9 2374.6L1002.0 2388.8V2398.0H986.9Z" fill="url(#hm5d)"/><path d="M986.9 2374.6L1002.0 2388.8V2411.0H986.9Z" fill="url(#hm5l)"/><path d="M1002.0 2388.8L1025.9 2411.1V2432.5H1002.0Z" fill="url(#hm5d)"/><path d="M1002.0 2388.8L1025.9 2411.1V2439.0H1002.0Z" fill="url(#hm5l)"/><path d="M1025.9 2411.1L1047.7 2431.6V2439.0H1025.9Z" fill="url(#hm5d)"/><path d="M1025.9 2411.1L1047.7 2431.6V2439.0H1025.9Z" fill="url(#hm5l)"/><path d="M1047.7 2431.6L1055.6 2439.0V2439.0H1047.7Z" fill="url(#hm5d)"/><path d="M1047.7 2431.6L1055.6 2439.0V2439.0H1047.7Z" fill="url(#hm5l)"/><path d="M764.8 2166.4L1055.6 2439L1032.3 2439L764.8 2188.2Z" fill="url(#hm5g)"/><path d="M793.9 2193.7V2439" stroke="#1d4f8e" stroke-opacity="0.6" stroke-width="1.5"/><path d="M831.2 2228.7V2439" stroke="#4f86c2" stroke-opacity="0.17" stroke-width="2.1"/><path d="M943.2 2333.7V2439" stroke="#4f86c2" stroke-opacity="0.14" stroke-width="2.2"/><path d="M766.5 2168.0V2439" stroke="#4f86c2" stroke-opacity="0.09" stroke-width="1.9"/><path d="M878.1 2272.6V2439" stroke="#4f86c2" stroke-opacity="0.09" stroke-width="1.7"/><path d="M1038.2 2422.7V2439" stroke="#4f86c2" stroke-opacity="0.15" stroke-width="1.4"/><path d="M790.7 2190.7V2439" stroke="#4f86c2" stroke-opacity="0.09" stroke-width="2.1"/><path d="M900.5 2293.6V2439" stroke="#4f86c2" stroke-opacity="0.21" stroke-width="1.1"/><path d="M832.1 2229.4V2439" stroke="#4f86c2" stroke-opacity="0.09" stroke-width="1.5"/><path d="M781.4 2182.0V2439" stroke="#4f86c2" stroke-opacity="0.12" stroke-width="1.5"/><path d="M849.3 2245.6V2439" stroke="#4f86c2" stroke-opacity="0.09" stroke-width="1.0"/><path d="M1033.2 2418.0V2439" stroke="#4f86c2" stroke-opacity="0.11" stroke-width="1.6"/><path d="M876.0 2270.6V2439" stroke="#4f86c2" stroke-opacity="0.15" stroke-width="1.1"/><path d="M851.5 2247.7V2439" stroke="#4f86c2" stroke-opacity="0.10" stroke-width="1.7"/><path d="M1019.3 2405.0V2439" stroke="#4f86c2" stroke-opacity="0.16" stroke-width="2.0"/><path d="M824.0 2221.9V2439" stroke="#4f86c2" stroke-opacity="0.08" stroke-width="1.6"/><path d="M899.2 2292.4V2439" stroke="#4f86c2" stroke-opacity="0.16" stroke-width="1.5"/><path d="M892.0 2398.9L934.9 2439.0" stroke="#2a64a8" stroke-opacity="0.33" stroke-width="1.6" stroke-dasharray="5 2 2 2"/><path d="M856.2 2290.1L927.5 2357.0" stroke="#2a64a8" stroke-opacity="0.28" stroke-width="1.6" stroke-dasharray="5 2 2 2"/><path d="M828.3 2323.7L856.6 2350.3" stroke="#2a64a8" stroke-opacity="0.45" stroke-width="1.6" stroke-dasharray="5 2 2 2"/><path d="M828.5 2248.7L859.3 2277.6" stroke="#2a64a8" stroke-opacity="0.31" stroke-width="1.6" stroke-dasharray="5 2 2 2"/><path d="M782.0 2259.0L830.2 2304.2" stroke="#2a64a8" stroke-opacity="0.31" stroke-width="1.6" stroke-dasharray="5 2 2 2"/><path d="M777.3 2197.0L841.3 2257.0" stroke="#2a64a8" stroke-opacity="0.30" stroke-width="1.6" stroke-dasharray="5 2 2 2"/><path d="M823.0 2245.4L868.0 2287.5" stroke="#2a64a8" stroke-opacity="0.36" stroke-width="1.6" stroke-dasharray="5 2 2 2"/><path d="M835.3 2385.9l5 5M840.3 2385.9l-5 5" stroke="#1d5aa0" stroke-opacity="0.47" stroke-width="1.5"/><path d="M970.8 2409.8l5 5M975.8 2409.8l-5 5" stroke="#1d5aa0" stroke-opacity="0.53" stroke-width="1.5"/><path d="M896.0 2354.4l5 5M901.0 2354.4l-5 5" stroke="#1d5aa0" stroke-opacity="0.55" stroke-width="1.5"/><path d="M914.8 2430.6l5 5M919.8 2430.6l-5 5" stroke="#1d5aa0" stroke-opacity="0.52" stroke-width="1.5"/><path d="M925.4 2348.9l5 5M930.4 2348.9l-5 5" stroke="#1d5aa0" stroke-opacity="0.54" stroke-width="1.5"/><path d="M851.3 2271.9l5 5M856.3 2271.9l-5 5" stroke="#1d5aa0" stroke-opacity="0.32" stroke-width="1.5"/><path d="M801.7 2262.7l5 5M806.7 2262.7l-5 5" stroke="#1d5aa0" stroke-opacity="0.50" stroke-width="1.5"/><path d="M828.7 2239.5l5 5M833.7 2239.5l-5 5" stroke="#1d5aa0" stroke-opacity="0.53" stroke-width="1.5"/><path d="M799.7 2384.5L852.0 2433.5" stroke="#0d3f7f" stroke-width="2.4" stroke-opacity="0.75" stroke-dasharray="7 2 3 2"/><path d="M764.8 2166.4L1055.6 2439" stroke="#08306b" stroke-width="3"/><rect x="765.3" y="2166.9" width="289.8" height="271.6" fill="none" stroke="#555" stroke-width="1"/><rect x="793.5" y="2382.5" width="54.0" height="53.6" fill="none" stroke="#ee1111" stroke-width="3"/></svg><div class="t" style="left:-2041.0px;width:6000px;text-align:center;top:2204.5px;font:400 22.5px/1 'Liberation Sans', sans-serif;color:#111;">Coref</div><div class="t" style="left:-2235.2px;width:6000px;text-align:center;top:2445.0px;font:400 9.5px/1 'Liberation Sans', sans-serif;color:#333;">0</div><div class="t" style="left:-2175.6px;width:6000px;text-align:center;top:2445.0px;font:400 9.5px/1 'Liberation Sans', sans-serif;color:#333;">100</div><div class="t" style="left:-2116.0px;width:6000px;text-align:center;top:2445.0px;font:400 9.5px/1 'Liberation Sans', sans-serif;color:#333;">200</div><div class="t" style="left:-2056.4px;width:6000px;text-align:center;top:2445.0px;font:400 9.5px/1 'Liberation Sans', sans-serif;color:#333;">300</div><div class="t" style="left:-1996.7px;width:6000px;text-align:center;top:2445.0px;font:400 9.5px/1 'Liberation Sans', sans-serif;color:#333;">400</div><div class="t" style="left:-5239.2px;width:6000px;text-align:right;top:2161.9px;font:400 9.5px/1 'Liberation Sans', sans-serif;color:#333;">0</div><div class="t" style="left:-5239.2px;width:6000px;text-align:right;top:2217.7px;font:400 9.5px/1 'Liberation Sans', sans-serif;color:#333;">100</div><div class="t" style="left:-5239.2px;width:6000px;text-align:right;top:2273.6px;font:400 9.5px/1 'Liberation Sans', sans-serif;color:#333;">200</div><div class="t" style="left:-5239.2px;width:6000px;text-align:right;top:2329.5px;font:400 9.5px/1 'Liberation Sans', sans-serif;color:#333;">300</div><div class="t" style="left:-5239.2px;width:6000px;text-align:right;top:2385.4px;font:400 9.5px/1 'Liberation Sans', sans-serif;color:#333;">400</div><svg class="a" style="left:130.6px;top:1801.5px" width="24" height="283" viewBox="130.6 1801.5 24 283"><path d="M146.6 1804.5 Q140.6 1804.5 140.6 1812.5 V1898.7907500000001 Q140.6 1904.7907500000001 134.6 1904.7907500000001 Q140.6 1904.7907500000001 140.6 1910.7907500000001 V1997.0815 Q140.6 2005.0815 146.6 2005.0815" fill="none" stroke="#111" stroke-width="2.5"/><path d="M146.6 2009.0815 Q140.6 2009.0815 140.6 2017.0815 V2037.24075 Q140.6 2043.24075 134.6 2043.24075 Q140.6 2043.24075 140.6 2049.24075 V2069.4 Q140.6 2077.4 146.6 2077.4" fill="none" stroke="#111" stroke-width="2.5"/></svg><div class="t" style="left:-86.8px;top:1881.8px;width:400px;height:24px;text-align:center;font:400 20.5px/24px 'Liberation Sans', sans-serif;color:#111;transform:rotate(-90deg)">Prev-Conversation</div><div class="t" style="left:-90.0px;top:2015.2px;width:400px;height:52px;text-align:center;font:400 20.5px/26px 'Liberation Sans', sans-serif;color:#111;transform:rotate(-90deg)">Question &amp;<br>Generation</div><svg class="a" style="left:513.5px;top:1801.5px" width="24" height="282" viewBox="513.5 1801.5 24 282"><path d="M529.5 1804.5 Q523.5 1804.5 523.5 1812.5 V1890.98 Q523.5 1896.98 517.5 1896.98 Q523.5 1896.98 523.5 1902.98 V1981.46 Q523.5 1989.46 529.5 1989.46" fill="none" stroke="#111" stroke-width="2.5"/><path d="M529.5 1993.46 Q523.5 1993.46 523.5 2001.46 V2028.98 Q523.5 2034.98 517.5 2034.98 Q523.5 2034.98 523.5 2040.98 V2068.5 Q523.5 2076.5 529.5 2076.5" fill="none" stroke="#111" stroke-width="2.5"/></svg><div class="t" style="left:296.1px;top:1874.0px;width:400px;height:24px;text-align:center;font:400 20.5px/24px 'Liberation Sans', sans-serif;color:#111;transform:rotate(-90deg)">Prev-Conversation</div><div class="t" style="left:292.9px;top:2007.0px;width:400px;height:52px;text-align:center;font:400 20.5px/26px 'Liberation Sans', sans-serif;color:#111;transform:rotate(-90deg)">Question &amp;<br>Generation</div><svg class="a" style="left:888.4px;top:1801.5px" width="24" height="282" viewBox="888.4 1801.5 24 282"><path d="M904.4 1804.5 Q898.4 1804.5 898.4 1812.5 V1895.74 Q898.4 1901.74 892.4 1901.74 Q898.4 1901.74 898.4 1907.74 V1990.98 Q898.4 1998.98 904.4 1998.98" fill="none" stroke="#111" stroke-width="2.5"/><path d="M904.4 2002.98 Q898.4 2002.98 898.4 2010.98 V2033.74 Q898.4 2039.74 892.4 2039.74 Q898.4 2039.74 898.4 2045.74 V2068.5 Q898.4 2076.5 904.4 2076.5" fill="none" stroke="#111" stroke-width="2.5"/></svg><div class="t" style="left:674.0px;top:1878.7px;width:400px;height:24px;text-align:center;font:400 20.5px/24px 'Liberation Sans', sans-serif;color:#111;transform:rotate(-90deg)">Prev-Conversation</div><div class="t" style="left:670.8px;top:2011.7px;width:400px;height:52px;text-align:center;font:400 20.5px/26px 'Liberation Sans', sans-serif;color:#111;transform:rotate(-90deg)">Question &amp;<br>Generation</div><svg class="a" style="left:321px;top:2159.9px" width="24" height="286" viewBox="321 2159.9 24 286"><path d="M337 2162.9 Q331 2162.9 331 2170.9 V2248.5597500000003 Q331 2254.5597500000003 325 2254.5597500000003 Q331 2254.5597500000003 331 2260.5597500000003 V2338.2195 Q331 2346.2195 337 2346.2195" fill="none" stroke="#111" stroke-width="2.5"/><path d="M337 2350.2195 Q331 2350.2195 331 2358.2195 V2388.8097500000003 Q331 2394.8097500000003 325 2394.8097500000003 Q331 2394.8097500000003 331 2400.8097500000003 V2431.4 Q331 2439.4 337 2439.4" fill="none" stroke="#111" stroke-width="2.5"/></svg><div class="t" style="left:99.6px;top:2231.6px;width:400px;height:24px;text-align:center;font:400 20.5px/24px 'Liberation Sans', sans-serif;color:#111;transform:rotate(-90deg)">Prev-Conversation</div><div class="t" style="left:96.4px;top:2366.8px;width:400px;height:52px;text-align:center;font:400 20.5px/26px 'Liberation Sans', sans-serif;color:#111;transform:rotate(-90deg)">Question &amp;<br>Generation</div><svg class="a" style="left:723.8px;top:2161.4px" width="24" height="283" viewBox="723.8 2161.4 24 283"><path d="M739.8 2164.4 Q733.8 2164.4 733.8 2172.4 V2247.6765 Q733.8 2253.6765 727.8 2253.6765 Q733.8 2253.6765 733.8 2259.6765 V2334.953 Q733.8 2342.953 739.8 2342.953" fill="none" stroke="#111" stroke-width="2.5"/><path d="M739.8 2346.953 Q733.8 2346.953 733.8 2354.953 V2385.9764999999998 Q733.8 2391.9764999999998 727.8 2391.9764999999998 Q733.8 2391.9764999999998 733.8 2397.9764999999998 V2429 Q733.8 2437 739.8 2437" fill="none" stroke="#111" stroke-width="2.5"/></svg><div class="t" style="left:502.4px;top:2230.7px;width:400px;height:24px;text-align:center;font:400 20.5px/24px 'Liberation Sans', sans-serif;color:#111;transform:rotate(-90deg)">Prev-Conversation</div><div class="t" style="left:499.2px;top:2364.0px;width:400px;height:52px;text-align:center;font:400 20.5px/26px 'Liberation Sans', sans-serif;color:#111;transform:rotate(-90deg)">Question &amp;<br>Generation</div><svg class="a" style="left:291.4px;top:2087px" width="46" height="18" viewBox="291.4 2087 46 18"><path d="M293.4 2089 Q293.4 2095 299.4 2095 H309.2 Q314.2 2095 314.2 2101 Q314.2 2095 319.2 2095 H329 Q335 2095 335 2089" fill="none" stroke="#111" stroke-width="2.2"/></svg><div class="t" style="left:-2686.5px;width:6000px;text-align:center;top:2104.4px;font:400 21.5px/1 'Liberation Sans', sans-serif;color:#111;">Quotation</div><svg class="a" style="left:561px;top:2087px" width="61" height="18" viewBox="561 2087 61 18"><path d="M563 2089 Q563 2095 569 2095 H586.5 Q591.5 2095 591.5 2101 Q591.5 2095 596.5 2095 H614 Q620 2095 620 2089" fill="none" stroke="#111" stroke-width="2.2"/></svg><svg class="a" style="left:677px;top:2087px" width="70" height="18" viewBox="677 2087 70 18"><path d="M679 2089 Q679 2095 685 2095 H707.0 Q712.0 2095 712.0 2101 Q712.0 2095 717.0 2095 H739 Q745 2095 745 2089" fill="none" stroke="#111" stroke-width="2.2"/></svg><div class="t" style="left:-2411.5px;width:6000px;text-align:center;top:2104.4px;font:400 21.5px/1 'Liberation Sans', sans-serif;color:#111;">Quotation 1</div><div class="t" style="left:-2288.0px;width:6000px;text-align:center;top:2104.4px;font:400 21.5px/1 'Liberation Sans', sans-serif;color:#111;">Quotation 2</div><svg class="a" style="left:1035px;top:2087px" width="50" height="18" viewBox="1035 2087 50 18"><path d="M1037 2089 Q1037 2095 1043 2095 H1055.0 Q1060.0 2095 1060.0 2101 Q1060.0 2095 1065.0 2095 H1077 Q1083 2095 1083 2089" fill="none" stroke="#111" stroke-width="2.2"/></svg><div class="t" style="left:-1940.0px;width:6000px;text-align:center;top:2104.4px;font:400 21.5px/1 'Liberation Sans', sans-serif;color:#111;">Quotation</div><svg class="a" style="left:383px;top:2448px" width="49" height="18" viewBox="383 2448 49 18"><path d="M385 2450 Q385 2456 391 2456 H402.5 Q407.5 2456 407.5 2462 Q407.5 2456 412.5 2456 H424 Q430 2456 430 2450" fill="none" stroke="#111" stroke-width="2.2"/></svg><div class="t" style="left:-2592.5px;width:6000px;text-align:center;top:2468.3px;font:400 21.5px/1 'Liberation Sans', sans-serif;color:#111;">Quotation</div><svg class="a" style="left:791px;top:2448px" width="60" height="18" viewBox="791 2448 60 18"><path d="M793 2450 Q793 2456 799 2456 H816.0 Q821.0 2456 821.0 2462 Q821.0 2456 826.0 2456 H843 Q849 2456 849 2450" fill="none" stroke="#111" stroke-width="2.2"/></svg><div class="t" style="left:-2183.0px;width:6000px;text-align:center;top:2468.3px;font:400 21.5px/1 'Liberation Sans', sans-serif;color:#111;">Quotation</div><div class="a" style="left:1236px;top:1883px;width:27.7px;height:514.8px;background:linear-gradient(#08306b,#2171b5 25%,#6baed6 50%,#c6dbef 75%,#f7fbff);outline:1px solid #333"></div><div class="a" style="left:1263.7px;top:1882.5px;width:4.3px;height:1.0px;background:#333;"></div><div class="t" style="left:1271.0px;top:1873.9px;font:400 19px/1 'Liberation Sans', sans-serif;color:#222;">1.0</div><div class="a" style="left:1263.7px;top:1985.5px;width:4.3px;height:1.0px;background:#333;"></div><div class="t" style="left:1271.0px;top:1976.9px;font:400 19px/1 'Liberation Sans', sans-serif;color:#222;">0.8</div><div class="a" style="left:1263.7px;top:2088.4px;width:4.3px;height:1.0px;background:#333;"></div><div class="t" style="left:1271.0px;top:2079.8px;font:400 19px/1 'Liberation Sans', sans-serif;color:#222;">0.6</div><div class="a" style="left:1263.7px;top:2191.4px;width:4.3px;height:1.0px;background:#333;"></div><div class="t" style="left:1271.0px;top:2182.8px;font:400 19px/1 'Liberation Sans', sans-serif;color:#222;">0.4</div><div class="a" style="left:1263.7px;top:2294.3px;width:4.3px;height:1.0px;background:#333;"></div><div class="t" style="left:1271.0px;top:2285.8px;font:400 19px/1 'Liberation Sans', sans-serif;color:#222;">0.2</div><div class="a" style="left:1263.7px;top:2397.3px;width:4.3px;height:1.0px;background:#333;"></div><div class="t" style="left:1271.0px;top:2388.7px;font:400 19px/1 'Liberation Sans', sans-serif;color:#222;">0.0</div><div class="t" style="left:-2317.0px;width:6000px;text-align:center;top:2529.6px;font:700 40px/1 'Liberation Sans', sans-serif;color:#000;">Figure 3: Averaged attention maps adjusted by QUADA.</div><div class="t" style="left:81.0px;top:2616.1px;font:400 47px/1 'Liberation Serif', serif;color:#000;">Contact (Email/Wechat):</div><div class="t" style="left:81.0px;top:2686.0px;font:400 47px/1 'Liberation Serif', serif;color:#000;">Yueqi Zhang: zhangyq@bit.edu.cn/13716172081</div><div class="t" style="left:81.0px;top:2755.1px;font:400 47px/1 'Liberation Serif', serif;color:#000;">Peiwen Yuan: peiwenyuan@bit.edu.cn/15803811859</div><svg class="a" style="left:1325px;top:2200px" width="85" height="95" viewBox="1325 2200 85 95"><path d="M1330.4 2247.9L1366.6 2206.7V2228.2H1401.7V2269.6H1366.6V2289.2Z" fill="#b4c6e7"/></svg><svg class="a" style="left:2638px;top:2200px" width="85" height="95" viewBox="2638 2200 85 95"><path d="M2643.7 2247.9L2679.8 2206.7V2228.2H2713.1V2269.6H2679.8V2289.2Z" fill="#b4c6e7"/></svg><svg class="a" style="left:1408.6px;top:1727px" width="1230.7000000000003" height="1041.6" viewBox="1408.6 1727 1230.7000000000003 1041.6"><path d="M1710.6 1729 H1475.6 A65 65 0 0 0 1410.6 1794 V2701.6 A65 65 0 0 0 1475.6 2766.6 H2572.3 A65 65 0 0 0 2637.3 2701.6 V1794 A65 65 0 0 0 2572.3 1729 H2337.8" fill="none" stroke="#1f58c4" stroke-width="1.6"/></svg><div class="t" style="left:1739.5px;top:1698.2px;font:700 55.9px/1 'Liberation Sans', sans-serif;color:#c00000;">Experimental Results</div><div class="t" style="left:-976.5px;width:6000px;text-align:center;top:1806.4px;font:700 40px/1 'Liberation Sans', sans-serif;color:#000;">Table 3: Results of QUADA on Qwen2.5-3B-Instruct.</div><div class="a" style="left:1501.5px;top:1860.8px;width:1070.0px;height:2.0px;background:#111;"></div><div class="a" style="left:1501.5px;top:1949.3px;width:1070.0px;height:1.4px;background:#222;"></div><div class="a" style="left:1501.5px;top:2256.3px;width:1070.0px;height:2.0px;background:#111;"></div><svg class="a" style="left:1501.5px;top:2103px" width="1070.0" height="4"><path d="M0 2H1070.0" stroke="#333" stroke-width="1.4" stroke-dasharray="10 7"/></svg><div class="t" style="left:-1166.5px;width:6000px;text-align:center;top:1874.3px;font:400 27.2px/1 'Liberation Serif', serif;color:#111;">Base</div><div class="t" style="left:-1006.0px;width:6000px;text-align:center;top:1874.3px;font:400 27.2px/1 'Liberation Serif', serif;color:#111;">Multi-Span</div><div class="t" style="left:-844.5px;width:6000px;text-align:center;top:1874.3px;font:400 27.2px/1 'Liberation Serif', serif;color:#111;">Exclude</div><div class="t" style="left:-676.4px;width:6000px;text-align:center;top:1874.3px;font:400 27.2px/1 'Liberation Serif', serif;color:#111;">Info-Combine</div><div class="t" style="left:-510.4px;width:6000px;text-align:center;top:1874.3px;font:400 27.2px/1 'Liberation Serif', serif;color:#111;">Coref</div><div class="t" style="left:1636.2px;top:1891.5px;font:700 27.2px/1 'Liberation Serif', serif;color:#111;">Methods</div><div class="t" style="left:-1201.5px;width:6000px;text-align:center;top:1910.4px;font:700 27.2px/1 'Liberation Serif', serif;color:#111;">Acc</div><div class="t" style="left:-1122.5px;width:6000px;text-align:center;top:1916.9px;font:700 19.5px/1 'Liberation Serif', serif;color:#111;">Const</div><div class="t" style="left:-1040.8px;width:6000px;text-align:center;top:1910.4px;font:700 27.2px/1 'Liberation Serif', serif;color:#111;">Acc</div><div class="t" style="left:-961.1px;width:6000px;text-align:center;top:1916.9px;font:700 19.5px/1 'Liberation Serif', serif;color:#111;">Const</div><div class="t" style="left:-879.3px;width:6000px;text-align:center;top:1910.4px;font:700 27.2px/1 'Liberation Serif', serif;color:#111;">Acc</div><div class="t" style="left:-799.6px;width:6000px;text-align:center;top:1916.9px;font:700 19.5px/1 'Liberation Serif', serif;color:#111;">Const</div><div class="t" style="left:-717.0px;width:6000px;text-align:center;top:1910.4px;font:700 27.2px/1 'Liberation Serif', serif;color:#111;">Acc</div><div class="t" style="left:-632.0px;width:6000px;text-align:center;top:1916.9px;font:700 19.5px/1 'Liberation Serif', serif;color:#111;">Const</div><div class="t" style="left:-544.2px;width:6000px;text-align:center;top:1910.4px;font:700 27.2px/1 'Liberation Serif', serif;color:#111;">Acc</div><div class="t" style="left:-465.3px;width:6000px;text-align:center;top:1916.9px;font:700 19.5px/1 'Liberation Serif', serif;color:#111;">Const</div><div class="t" style="left:1637.0px;top:1960.3px;font:400 27.2px/1 'Liberation Serif', serif;color:#111;"><span style="letter-spacing:0.35px">V<span style="font-size:0.8em;letter-spacing:0.95px">ANILLA</span></span></div><div class="t" style="left:-1201.5px;width:6000px;text-align:center;top:1960.3px;font:400 27.2px/1 'Liberation Serif', serif;color:#111;">28.4%</div><div class="t" style="left:-1122.5px;width:6000px;text-align:center;top:1960.3px;font:400 27.2px/1 'Liberation Serif', serif;color:#111;">2.5</div><div class="t" style="left:-1040.8px;width:6000px;text-align:center;top:1960.3px;font:400 27.2px/1 'Liberation Serif', serif;color:#111;">24.4%</div><div class="t" style="left:-961.1px;width:6000px;text-align:center;top:1960.3px;font:400 27.2px/1 'Liberation Serif', serif;color:#111;">2.7</div><div class="t" style="left:-879.3px;width:6000px;text-align:center;top:1960.3px;font:400 27.2px/1 'Liberation Serif', serif;color:#111;">26.8%</div><div class="t" style="left:-799.6px;width:6000px;text-align:center;top:1960.3px;font:400 27.2px/1 'Liberation Serif', serif;color:#111;">2.9</div><div class="t" style="left:-717.0px;width:6000px;text-align:center;top:1960.3px;font:400 27.2px/1 'Liberation Serif', serif;color:#111;">36.2%</div><div class="t" style="left:-632.0px;width:6000px;text-align:center;top:1960.3px;font:400 27.2px/1 'Liberation Serif', serif;color:#111;">2.8</div><div class="t" style="left:-544.2px;width:6000px;text-align:center;top:1960.3px;font:400 27.2px/1 'Liberation Serif', serif;color:#111;">29.4%</div><div class="t" style="left:-465.3px;width:6000px;text-align:center;top:1960.3px;font:400 27.2px/1 'Liberation Serif', serif;color:#111;">2.2</div><div class="t" style="left:1637.0px;top:1996.8px;font:400 27.2px/1 'Liberation Serif', serif;color:#111;"><span style="letter-spacing:1.5px">PASTA</span></div><div class="t" style="left:-1201.5px;width:6000px;text-align:center;top:1996.8px;font:400 27.2px/1 'Liberation Serif', serif;color:#111;">32.3%</div><div class="t" style="left:-1122.5px;width:6000px;text-align:center;top:1996.8px;font:400 27.2px/1 'Liberation Serif', serif;color:#111;">1.7</div><div class="t" style="left:-1040.8px;width:6000px;text-align:center;top:1996.8px;font:400 27.2px/1 'Liberation Serif', serif;color:#111;">29.6%</div><div class="t" style="left:-961.1px;width:6000px;text-align:center;top:1996.8px;font:400 27.2px/1 'Liberation Serif', serif;color:#111;">2.4</div><div class="t" style="left:-879.3px;width:6000px;text-align:center;top:1996.8px;font:400 27.2px/1 'Liberation Serif', serif;color:#111;">24.0%</div><div class="t" style="left:-799.6px;width:6000px;text-align:center;top:1996.8px;font:400 27.2px/1 'Liberation Serif', serif;color:#111;">2.5</div><div class="t" style="left:-717.0px;width:6000px;text-align:center;top:1996.8px;font:400 27.2px/1 'Liberation Serif', serif;color:#111;">38.2%</div><div class="t" style="left:-632.0px;width:6000px;text-align:center;top:1996.8px;font:400 27.2px/1 'Liberation Serif', serif;color:#111;">1.9</div><div class="t" style="left:-544.2px;width:6000px;text-align:center;top:1996.8px;font:400 27.2px/1 'Liberation Serif', serif;color:#111;">27.1%</div><div class="t" style="left:-465.3px;width:6000px;text-align:center;top:1996.8px;font:400 27.2px/1 'Liberation Serif', serif;color:#111;">2.4</div><div class="t" style="left:1637.0px;top:2033.3px;font:400 27.2px/1 'Liberation Serif', serif;color:#111;"><span style="font-size:0.8em;letter-spacing:1.45px">MARKER</span></div><div class="t" style="left:-1201.5px;width:6000px;text-align:center;top:2033.3px;font:400 27.2px/1 'Liberation Serif', serif;color:#111;">34.0%</div><div class="t" style="left:-1122.5px;width:6000px;text-align:center;top:2033.3px;font:400 27.2px/1 'Liberation Serif', serif;color:#111;">2.7</div><div class="t" style="left:-1040.8px;width:6000px;text-align:center;top:2033.3px;font:400 27.2px/1 'Liberation Serif', serif;color:#111;">25.2%</div><div class="t" style="left:-961.1px;width:6000px;text-align:center;top:2033.3px;font:400 27.2px/1 'Liberation Serif', serif;color:#111;">2.8</div><div class="t" style="left:-879.3px;width:6000px;text-align:center;top:2033.3px;font:400 27.2px/1 'Liberation Serif', serif;color:#111;">26.4%</div><div class="t" style="left:-799.6px;width:6000px;text-align:center;top:2033.3px;font:400 27.2px/1 'Liberation Serif', serif;color:#111;">3.0</div><div class="t" style="left:-717.0px;width:6000px;text-align:center;top:2033.3px;font:400 27.2px/1 'Liberation Serif', serif;color:#111;">26.0%</div><div class="t" style="left:-632.0px;width:6000px;text-align:center;top:2033.3px;font:400 27.2px/1 'Liberation Serif', serif;color:#111;">2.9</div><div class="t" style="left:-544.2px;width:6000px;text-align:center;top:2033.3px;font:400 27.2px/1 'Liberation Serif', serif;color:#111;">25.6%</div><div class="t" style="left:-465.3px;width:6000px;text-align:center;top:2033.3px;font:400 27.2px/1 'Liberation Serif', serif;color:#111;">2.3</div><div class="t" style="left:1637.0px;top:2069.8px;font:400 27.2px/1 'Liberation Serif', serif;color:#111;"><span style="font-size:0.8em;letter-spacing:1.4px">CONCAT</span></div><div class="t" style="left:-1201.5px;width:6000px;text-align:center;top:2069.8px;font:400 27.2px/1 'Liberation Serif', serif;color:#111;">83.2%</div><div class="t" style="left:-1122.5px;width:6000px;text-align:center;top:2069.8px;font:400 27.2px/1 'Liberation Serif', serif;color:#111;">4.3</div><div class="t" style="left:-1040.8px;width:6000px;text-align:center;top:2069.8px;font:400 27.2px/1 'Liberation Serif', serif;color:#111;">67.8%</div><div class="t" style="left:-961.1px;width:6000px;text-align:center;top:2069.8px;font:400 27.2px/1 'Liberation Serif', serif;color:#111;">4.2</div><div class="t" style="left:-879.3px;width:6000px;text-align:center;top:2069.8px;font:400 27.2px/1 'Liberation Serif', serif;color:#111;">15.2%</div><div class="t" style="left:-799.6px;width:6000px;text-align:center;top:2069.8px;font:400 27.2px/1 'Liberation Serif', serif;color:#111;">2.3</div><div class="t" style="left:-717.0px;width:6000px;text-align:center;top:2069.8px;font:400 27.2px/1 'Liberation Serif', serif;color:#111;">38.2%</div><div class="t" style="left:-632.0px;width:6000px;text-align:center;top:2069.8px;font:400 27.2px/1 'Liberation Serif', serif;color:#111;">3.0</div><div class="t" style="left:-544.2px;width:6000px;text-align:center;top:2069.8px;font:400 27.2px/1 'Liberation Serif', serif;color:#111;">30.4%</div><div class="t" style="left:-465.3px;width:6000px;text-align:center;top:2069.8px;font:400 27.2px/1 'Liberation Serif', serif;color:#111;">2.3</div><div class="t" style="left:1637.0px;top:2107.6px;font:400 27.2px/1 'Liberation Serif', serif;color:#111;"><span style="letter-spacing:1.5px">PASTA</span></div><div class="t" style="left:-1201.5px;width:6000px;text-align:center;top:2107.6px;font:400 27.2px/1 'Liberation Serif', serif;color:#111;">34.0%</div><div class="t" style="left:-1122.5px;width:6000px;text-align:center;top:2107.6px;font:400 27.2px/1 'Liberation Serif', serif;color:#111;">2.0</div><div class="t" style="left:-1040.8px;width:6000px;text-align:center;top:2107.6px;font:400 27.2px/1 'Liberation Serif', serif;color:#111;">29.7%</div><div class="t" style="left:-961.1px;width:6000px;text-align:center;top:2107.6px;font:400 27.2px/1 'Liberation Serif', serif;color:#111;">2.6</div><div class="t" style="left:-879.3px;width:6000px;text-align:center;top:2107.6px;font:400 27.2px/1 'Liberation Serif', serif;color:#111;">22.4%</div><div class="t" style="left:-799.6px;width:6000px;text-align:center;top:2107.6px;font:400 27.2px/1 'Liberation Serif', serif;color:#111;">2.9</div><div class="t" style="left:-717.0px;width:6000px;text-align:center;top:2107.6px;font:400 27.2px/1 'Liberation Serif', serif;color:#111;">39.0%</div><div class="t" style="left:-632.0px;width:6000px;text-align:center;top:2107.6px;font:400 27.2px/1 'Liberation Serif', serif;color:#111;">3.1</div><div class="t" style="left:-544.2px;width:6000px;text-align:center;top:2107.6px;font:400 27.2px/1 'Liberation Serif', serif;color:#111;">32.7%</div><div class="t" style="left:-465.3px;width:6000px;text-align:center;top:2107.6px;font:400 27.2px/1 'Liberation Serif', serif;color:#111;">2.5</div><div class="t" style="left:1637.0px;top:2144.2px;font:400 27.2px/1 'Liberation Serif', serif;color:#111;"><span style="font-size:0.8em;letter-spacing:1.45px">MARKER</span></div><div class="t" style="left:-1201.5px;width:6000px;text-align:center;top:2144.2px;font:400 27.2px/1 'Liberation Serif', serif;color:#111;">44.8%</div><div class="t" style="left:-1122.5px;width:6000px;text-align:center;top:2144.2px;font:400 27.2px/1 'Liberation Serif', serif;color:#111;">4.1</div><div class="t" style="left:-1040.8px;width:6000px;text-align:center;top:2144.2px;font:400 27.2px/1 'Liberation Serif', serif;color:#111;">26.8%</div><div class="t" style="left:-961.1px;width:6000px;text-align:center;top:2144.2px;font:400 27.2px/1 'Liberation Serif', serif;color:#111;text-decoration:underline;text-underline-offset:4px;text-decoration-thickness:1.3px;">3.3</div><div class="t" style="left:-879.3px;width:6000px;text-align:center;top:2144.2px;font:400 27.2px/1 'Liberation Serif', serif;color:#111;">7.8%</div><div class="t" style="left:-799.6px;width:6000px;text-align:center;top:2144.2px;font:400 27.2px/1 'Liberation Serif', serif;color:#111;">2.6</div><div class="t" style="left:-717.0px;width:6000px;text-align:center;top:2144.2px;font:400 27.2px/1 'Liberation Serif', serif;color:#111;">23.0%</div><div class="t" style="left:-632.0px;width:6000px;text-align:center;top:2144.2px;font:400 27.2px/1 'Liberation Serif', serif;color:#111;">2.7</div><div class="t" style="left:-544.2px;width:6000px;text-align:center;top:2144.2px;font:400 27.2px/1 'Liberation Serif', serif;color:#111;text-decoration:underline;text-underline-offset:4px;text-decoration-thickness:1.3px;">53.4%</div><div class="t" style="left:-465.3px;width:6000px;text-align:center;top:2144.2px;font:400 27.2px/1 'Liberation Serif', serif;color:#111;text-decoration:underline;text-underline-offset:4px;text-decoration-thickness:1.3px;">3.2</div><div class="t" style="left:1637.0px;top:2180.7px;font:400 27.2px/1 'Liberation Serif', serif;color:#111;"><span style="font-size:0.8em;letter-spacing:1.4px">CONCAT</span></div><div class="t" style="left:-1201.5px;width:6000px;text-align:center;top:2180.7px;font:400 27.2px/1 'Liberation Serif', serif;color:#111;text-decoration:underline;text-underline-offset:4px;text-decoration-thickness:1.3px;">90.0%</div><div class="t" style="left:-1122.5px;width:6000px;text-align:center;top:2180.7px;font:400 27.2px/1 'Liberation Serif', serif;color:#111;font-weight:700;">4.5</div><div class="t" style="left:-1040.8px;width:6000px;text-align:center;top:2180.7px;font:400 27.2px/1 'Liberation Serif', serif;color:#111;text-decoration:underline;text-underline-offset:4px;text-decoration-thickness:1.3px;">89.8%</div><div class="t" style="left:-961.1px;width:6000px;text-align:center;top:2180.7px;font:400 27.2px/1 'Liberation Serif', serif;color:#111;font-weight:700;">4.3</div><div class="t" style="left:-879.3px;width:6000px;text-align:center;top:2180.7px;font:400 27.2px/1 'Liberation Serif', serif;color:#111;text-decoration:underline;text-underline-offset:4px;text-decoration-thickness:1.3px;">85.8%</div><div class="t" style="left:-799.6px;width:6000px;text-align:center;top:2180.7px;font:400 27.2px/1 'Liberation Serif', serif;color:#111;text-decoration:underline;text-underline-offset:4px;text-decoration-thickness:1.3px;">3.9</div><div class="t" style="left:-717.0px;width:6000px;text-align:center;top:2180.7px;font:400 27.2px/1 'Liberation Serif', serif;color:#111;text-decoration:underline;text-underline-offset:4px;text-decoration-thickness:1.3px;">77.2%</div><div class="t" style="left:-632.0px;width:6000px;text-align:center;top:2180.7px;font:400 27.2px/1 'Liberation Serif', serif;color:#111;text-decoration:underline;text-underline-offset:4px;text-decoration-thickness:1.3px;">3.3</div><div class="t" style="left:-544.2px;width:6000px;text-align:center;top:2180.7px;font:400 27.2px/1 'Liberation Serif', serif;color:#111;">39.8%</div><div class="t" style="left:-465.3px;width:6000px;text-align:center;top:2180.7px;font:400 27.2px/1 'Liberation Serif', serif;color:#111;">2.3</div><div class="t" style="left:1637.0px;top:2216.5px;font:400 27.2px/1 'Liberation Serif', serif;color:#111;"><span style="letter-spacing:0.85px">Q<span style="font-size:0.8em">U</span>A<span style="font-size:0.8em">DA</span></span></div><div class="t" style="left:-1201.5px;width:6000px;text-align:center;top:2216.5px;font:400 27.2px/1 'Liberation Serif', serif;color:#111;font-weight:700;">95.2%</div><div class="t" style="left:-1122.5px;width:6000px;text-align:center;top:2216.5px;font:400 27.2px/1 'Liberation Serif', serif;color:#111;text-decoration:underline;text-underline-offset:4px;text-decoration-thickness:1.3px;">4.4</div><div class="t" style="left:-1040.8px;width:6000px;text-align:center;top:2216.5px;font:400 27.2px/1 'Liberation Serif', serif;color:#111;font-weight:700;">94.6%</div><div class="t" style="left:-961.1px;width:6000px;text-align:center;top:2216.5px;font:400 27.2px/1 'Liberation Serif', serif;color:#111;font-weight:700;">4.3</div><div class="t" style="left:-879.3px;width:6000px;text-align:center;top:2216.5px;font:400 27.2px/1 'Liberation Serif', serif;color:#111;font-weight:700;">92.8%</div><div class="t" style="left:-799.6px;width:6000px;text-align:center;top:2216.5px;font:400 27.2px/1 'Liberation Serif', serif;color:#111;font-weight:700;">4.2</div><div class="t" style="left:-717.0px;width:6000px;text-align:center;top:2216.5px;font:400 27.2px/1 'Liberation Serif', serif;color:#111;font-weight:700;">85.8%</div><div class="t" style="left:-632.0px;width:6000px;text-align:center;top:2216.5px;font:400 27.2px/1 'Liberation Serif', serif;color:#111;font-weight:700;">3.5</div><div class="t" style="left:-544.2px;width:6000px;text-align:center;top:2216.5px;font:400 27.2px/1 'Liberation Serif', serif;color:#111;font-weight:700;">90.2%</div><div class="t" style="left:-465.3px;width:6000px;text-align:center;top:2216.5px;font:400 27.2px/1 'Liberation Serif', serif;color:#111;font-weight:700;">4.1</div><div class="t" style="left:-1435.4px;width:6000px;text-align:center;top:2015.1px;font:400 27.2px/1 'Liberation Serif', serif;color:#111;">Untrained</div><div class="t" style="left:-1435.4px;width:6000px;text-align:center;top:2144.3px;font:400 27.2px/1 'Liberation Serif', serif;color:#111;">Training</div><div class="t" style="left:-1435.4px;width:6000px;text-align:center;top:2174.8px;font:400 27.2px/1 'Liberation Serif', serif;color:#111;">Based</div><div class="t" style="left:-976.5px;width:6000px;text-align:center;top:2292.1px;font:700 40px/1 'Liberation Sans', sans-serif;color:#000;">Table 4: Results of QUADA on Llama3.1-8B-Instruct.</div><div class="a" style="left:1501.7px;top:2347.2px;width:1061.3px;height:2.0px;background:#111;"></div><div class="a" style="left:1501.7px;top:2433.9px;width:1061.3px;height:1.4px;background:#222;"></div><div class="a" style="left:1501.7px;top:2738.8px;width:1061.3px;height:2.0px;background:#111;"></div><svg class="a" style="left:1501.7px;top:2586.6px" width="1061.3" height="4"><path d="M0 2H1061.3" stroke="#333" stroke-width="1.4" stroke-dasharray="10 7"/></svg><div class="t" style="left:-1169.2px;width:6000px;text-align:center;top:2359.4px;font:400 27.2px/1 'Liberation Serif', serif;color:#111;">Base</div><div class="t" style="left:-1008.5px;width:6000px;text-align:center;top:2359.4px;font:400 27.2px/1 'Liberation Serif', serif;color:#111;">Multi-Span</div><div class="t" style="left:-849.2px;width:6000px;text-align:center;top:2359.4px;font:400 27.2px/1 'Liberation Serif', serif;color:#111;">Exclude</div><div class="t" style="left:-683.2px;width:6000px;text-align:center;top:2359.4px;font:400 27.2px/1 'Liberation Serif', serif;color:#111;">Info-Combine</div><div class="t" style="left:-517.1px;width:6000px;text-align:center;top:2359.4px;font:400 27.2px/1 'Liberation Serif', serif;color:#111;">Coref</div><div class="t" style="left:1636.2px;top:2376.7px;font:700 27.2px/1 'Liberation Serif', serif;color:#111;">Methods</div><div class="t" style="left:-1204.6px;width:6000px;text-align:center;top:2396.0px;font:700 27.2px/1 'Liberation Serif', serif;color:#111;">Acc</div><div class="t" style="left:-1125.7px;width:6000px;text-align:center;top:2402.5px;font:700 19.5px/1 'Liberation Serif', serif;color:#111;">Const</div><div class="t" style="left:-1043.8px;width:6000px;text-align:center;top:2396.0px;font:700 27.2px/1 'Liberation Serif', serif;color:#111;">Acc</div><div class="t" style="left:-965.7px;width:6000px;text-align:center;top:2402.5px;font:700 19.5px/1 'Liberation Serif', serif;color:#111;">Const</div><div class="t" style="left:-883.8px;width:6000px;text-align:center;top:2396.0px;font:700 27.2px/1 'Liberation Serif', serif;color:#111;">Acc</div><div class="t" style="left:-805.6px;width:6000px;text-align:center;top:2402.5px;font:700 19.5px/1 'Liberation Serif', serif;color:#111;">Const</div><div class="t" style="left:-723.7px;width:6000px;text-align:center;top:2396.0px;font:700 27.2px/1 'Liberation Serif', serif;color:#111;">Acc</div><div class="t" style="left:-639.6px;width:6000px;text-align:center;top:2402.5px;font:700 19.5px/1 'Liberation Serif', serif;color:#111;">Const</div><div class="t" style="left:-552.5px;width:6000px;text-align:center;top:2396.0px;font:700 27.2px/1 'Liberation Serif', serif;color:#111;">Acc</div><div class="t" style="left:-472.8px;width:6000px;text-align:center;top:2402.5px;font:700 19.5px/1 'Liberation Serif', serif;color:#111;">Const</div><div class="t" style="left:1637.0px;top:2445.4px;font:400 27.2px/1 'Liberation Serif', serif;color:#111;"><span style="letter-spacing:0.35px">V<span style="font-size:0.8em;letter-spacing:0.95px">ANILLA</span></span></div><div class="t" style="left:-1204.6px;width:6000px;text-align:center;top:2445.4px;font:400 27.2px/1 'Liberation Serif', serif;color:#111;">21.2%</div><div class="t" style="left:-1125.7px;width:6000px;text-align:center;top:2445.4px;font:400 27.2px/1 'Liberation Serif', serif;color:#111;">2.3</div><div class="t" style="left:-1043.8px;width:6000px;text-align:center;top:2445.4px;font:400 27.2px/1 'Liberation Serif', serif;color:#111;">20.6%</div><div class="t" style="left:-965.7px;width:6000px;text-align:center;top:2445.4px;font:400 27.2px/1 'Liberation Serif', serif;color:#111;">2.7</div><div class="t" style="left:-883.8px;width:6000px;text-align:center;top:2445.4px;font:400 27.2px/1 'Liberation Serif', serif;color:#111;">22.4%</div><div class="t" style="left:-805.6px;width:6000px;text-align:center;top:2445.4px;font:400 27.2px/1 'Liberation Serif', serif;color:#111;">2.8</div><div class="t" style="left:-723.7px;width:6000px;text-align:center;top:2445.4px;font:400 27.2px/1 'Liberation Serif', serif;color:#111;">29.4%</div><div class="t" style="left:-639.6px;width:6000px;text-align:center;top:2445.4px;font:400 27.2px/1 'Liberation Serif', serif;color:#111;">2.7</div><div class="t" style="left:-552.5px;width:6000px;text-align:center;top:2445.4px;font:400 27.2px/1 'Liberation Serif', serif;color:#111;">21.6%</div><div class="t" style="left:-472.8px;width:6000px;text-align:center;top:2445.4px;font:400 27.2px/1 'Liberation Serif', serif;color:#111;">2.3</div><div class="t" style="left:1637.0px;top:2481.4px;font:400 27.2px/1 'Liberation Serif', serif;color:#111;"><span style="letter-spacing:1.5px">PASTA</span></div><div class="t" style="left:-1204.6px;width:6000px;text-align:center;top:2481.4px;font:400 27.2px/1 'Liberation Serif', serif;color:#111;">29.0%</div><div class="t" style="left:-1125.7px;width:6000px;text-align:center;top:2481.4px;font:400 27.2px/1 'Liberation Serif', serif;color:#111;">1.8</div><div class="t" style="left:-1043.8px;width:6000px;text-align:center;top:2481.4px;font:400 27.2px/1 'Liberation Serif', serif;color:#111;">15.8%</div><div class="t" style="left:-965.7px;width:6000px;text-align:center;top:2481.4px;font:400 27.2px/1 'Liberation Serif', serif;color:#111;">2.3</div><div class="t" style="left:-883.8px;width:6000px;text-align:center;top:2481.4px;font:400 27.2px/1 'Liberation Serif', serif;color:#111;">21.6%</div><div class="t" style="left:-805.6px;width:6000px;text-align:center;top:2481.4px;font:400 27.2px/1 'Liberation Serif', serif;color:#111;">2.3</div><div class="t" style="left:-723.7px;width:6000px;text-align:center;top:2481.4px;font:400 27.2px/1 'Liberation Serif', serif;color:#111;">22.6%</div><div class="t" style="left:-639.6px;width:6000px;text-align:center;top:2481.4px;font:400 27.2px/1 'Liberation Serif', serif;color:#111;">3.0</div><div class="t" style="left:-552.5px;width:6000px;text-align:center;top:2481.4px;font:400 27.2px/1 'Liberation Serif', serif;color:#111;">22.4%</div><div class="t" style="left:-472.8px;width:6000px;text-align:center;top:2481.4px;font:400 27.2px/1 'Liberation Serif', serif;color:#111;">2.4</div><div class="t" style="left:1637.0px;top:2517.4px;font:400 27.2px/1 'Liberation Serif', serif;color:#111;"><span style="font-size:0.8em;letter-spacing:1.45px">MARKER</span></div><div class="t" style="left:-1204.6px;width:6000px;text-align:center;top:2517.4px;font:400 27.2px/1 'Liberation Serif', serif;color:#111;">30.0%</div><div class="t" style="left:-1125.7px;width:6000px;text-align:center;top:2517.4px;font:400 27.2px/1 'Liberation Serif', serif;color:#111;">2.4</div><div class="t" style="left:-1043.8px;width:6000px;text-align:center;top:2517.4px;font:400 27.2px/1 'Liberation Serif', serif;color:#111;">24.2%</div><div class="t" style="left:-965.7px;width:6000px;text-align:center;top:2517.4px;font:400 27.2px/1 'Liberation Serif', serif;color:#111;">2.8</div><div class="t" style="left:-883.8px;width:6000px;text-align:center;top:2517.4px;font:400 27.2px/1 'Liberation Serif', serif;color:#111;">21.0%</div><div class="t" style="left:-805.6px;width:6000px;text-align:center;top:2517.4px;font:400 27.2px/1 'Liberation Serif', serif;color:#111;">2.8</div><div class="t" style="left:-723.7px;width:6000px;text-align:center;top:2517.4px;font:400 27.2px/1 'Liberation Serif', serif;color:#111;">31.0%</div><div class="t" style="left:-639.6px;width:6000px;text-align:center;top:2517.4px;font:400 27.2px/1 'Liberation Serif', serif;color:#111;">2.7</div><div class="t" style="left:-552.5px;width:6000px;text-align:center;top:2517.4px;font:400 27.2px/1 'Liberation Serif', serif;color:#111;">29.6%</div><div class="t" style="left:-472.8px;width:6000px;text-align:center;top:2517.4px;font:400 27.2px/1 'Liberation Serif', serif;color:#111;">2.4</div><div class="t" style="left:1637.0px;top:2553.6px;font:400 27.2px/1 'Liberation Serif', serif;color:#111;"><span style="font-size:0.8em;letter-spacing:1.4px">CONCAT</span></div><div class="t" style="left:-1204.6px;width:6000px;text-align:center;top:2553.6px;font:400 27.2px/1 'Liberation Serif', serif;color:#111;">78.2%</div><div class="t" style="left:-1125.7px;width:6000px;text-align:center;top:2553.6px;font:400 27.2px/1 'Liberation Serif', serif;color:#111;">4.2</div><div class="t" style="left:-1043.8px;width:6000px;text-align:center;top:2553.6px;font:400 27.2px/1 'Liberation Serif', serif;color:#111;">68.6%</div><div class="t" style="left:-965.7px;width:6000px;text-align:center;top:2553.6px;font:400 27.2px/1 'Liberation Serif', serif;color:#111;">4.2</div><div class="t" style="left:-883.8px;width:6000px;text-align:center;top:2553.6px;font:400 27.2px/1 'Liberation Serif', serif;color:#111;">25.0%</div><div class="t" style="left:-805.6px;width:6000px;text-align:center;top:2553.6px;font:400 27.2px/1 'Liberation Serif', serif;color:#111;">2.3</div><div class="t" style="left:-723.7px;width:6000px;text-align:center;top:2553.6px;font:400 27.2px/1 'Liberation Serif', serif;color:#111;">34.4%</div><div class="t" style="left:-639.6px;width:6000px;text-align:center;top:2553.6px;font:400 27.2px/1 'Liberation Serif', serif;color:#111;">3.2</div><div class="t" style="left:-552.5px;width:6000px;text-align:center;top:2553.6px;font:400 27.2px/1 'Liberation Serif', serif;color:#111;">31.8%</div><div class="t" style="left:-472.8px;width:6000px;text-align:center;top:2553.6px;font:400 27.2px/1 'Liberation Serif', serif;color:#111;">2.8</div><div class="t" style="left:1637.0px;top:2590.4px;font:400 27.2px/1 'Liberation Serif', serif;color:#111;"><span style="letter-spacing:1.5px">PASTA</span></div><div class="t" style="left:-1204.6px;width:6000px;text-align:center;top:2590.4px;font:400 27.2px/1 'Liberation Serif', serif;color:#111;">27.1%</div><div class="t" style="left:-1125.7px;width:6000px;text-align:center;top:2590.4px;font:400 27.2px/1 'Liberation Serif', serif;color:#111;">2.4</div><div class="t" style="left:-1043.8px;width:6000px;text-align:center;top:2590.4px;font:400 27.2px/1 'Liberation Serif', serif;color:#111;">25.5%</div><div class="t" style="left:-965.7px;width:6000px;text-align:center;top:2590.4px;font:400 27.2px/1 'Liberation Serif', serif;color:#111;">2.9</div><div class="t" style="left:-883.8px;width:6000px;text-align:center;top:2590.4px;font:400 27.2px/1 'Liberation Serif', serif;color:#111;">25.0%</div><div class="t" style="left:-805.6px;width:6000px;text-align:center;top:2590.4px;font:400 27.2px/1 'Liberation Serif', serif;color:#111;">3.2</div><div class="t" style="left:-723.7px;width:6000px;text-align:center;top:2590.4px;font:400 27.2px/1 'Liberation Serif', serif;color:#111;">31.2%</div><div class="t" style="left:-639.6px;width:6000px;text-align:center;top:2590.4px;font:400 27.2px/1 'Liberation Serif', serif;color:#111;">3.1</div><div class="t" style="left:-552.5px;width:6000px;text-align:center;top:2590.4px;font:400 27.2px/1 'Liberation Serif', serif;color:#111;">27.5%</div><div class="t" style="left:-472.8px;width:6000px;text-align:center;top:2590.4px;font:400 27.2px/1 'Liberation Serif', serif;color:#111;">2.5</div><div class="t" style="left:1637.0px;top:2626.7px;font:400 27.2px/1 'Liberation Serif', serif;color:#111;"><span style="font-size:0.8em;letter-spacing:1.45px">MARKER</span></div><div class="t" style="left:-1204.6px;width:6000px;text-align:center;top:2626.7px;font:400 27.2px/1 'Liberation Serif', serif;color:#111;">82.8%</div><div class="t" style="left:-1125.7px;width:6000px;text-align:center;top:2626.7px;font:400 27.2px/1 'Liberation Serif', serif;color:#111;text-decoration:underline;text-underline-offset:4px;text-decoration-thickness:1.3px;">4.4</div><div class="t" style="left:-1043.8px;width:6000px;text-align:center;top:2626.7px;font:400 27.2px/1 'Liberation Serif', serif;color:#111;">83.6%</div><div class="t" style="left:-965.7px;width:6000px;text-align:center;top:2626.7px;font:400 27.2px/1 'Liberation Serif', serif;color:#111;text-decoration:underline;text-underline-offset:4px;text-decoration-thickness:1.3px;">4.3</div><div class="t" style="left:-883.8px;width:6000px;text-align:center;top:2626.7px;font:400 27.2px/1 'Liberation Serif', serif;color:#111;">63.4%</div><div class="t" style="left:-805.6px;width:6000px;text-align:center;top:2626.7px;font:400 27.2px/1 'Liberation Serif', serif;color:#111;">3.9</div><div class="t" style="left:-723.7px;width:6000px;text-align:center;top:2626.7px;font:400 27.2px/1 'Liberation Serif', serif;color:#111;">56.0%</div><div class="t" style="left:-639.6px;width:6000px;text-align:center;top:2626.7px;font:400 27.2px/1 'Liberation Serif', serif;color:#111;text-decoration:underline;text-underline-offset:4px;text-decoration-thickness:1.3px;">3.5</div><div class="t" style="left:-552.5px;width:6000px;text-align:center;top:2626.7px;font:400 27.2px/1 'Liberation Serif', serif;color:#111;text-decoration:underline;text-underline-offset:4px;text-decoration-thickness:1.3px;">81.6%</div><div class="t" style="left:-472.8px;width:6000px;text-align:center;top:2626.7px;font:400 27.2px/1 'Liberation Serif', serif;color:#111;font-weight:700;">4.0</div><div class="t" style="left:1637.0px;top:2662.7px;font:400 27.2px/1 'Liberation Serif', serif;color:#111;"><span style="font-size:0.8em;letter-spacing:1.4px">CONCAT</span></div><div class="t" style="left:-1204.6px;width:6000px;text-align:center;top:2662.7px;font:400 27.2px/1 'Liberation Serif', serif;color:#111;text-decoration:underline;text-underline-offset:4px;text-decoration-thickness:1.3px;">95.8%</div><div class="t" style="left:-1125.7px;width:6000px;text-align:center;top:2662.7px;font:400 27.2px/1 'Liberation Serif', serif;color:#111;text-decoration:underline;text-underline-offset:4px;text-decoration-thickness:1.3px;">4.4</div><div class="t" style="left:-1043.8px;width:6000px;text-align:center;top:2662.7px;font:400 27.2px/1 'Liberation Serif', serif;color:#111;text-decoration:underline;text-underline-offset:4px;text-decoration-thickness:1.3px;">93.8%</div><div class="t" style="left:-965.7px;width:6000px;text-align:center;top:2662.7px;font:400 27.2px/1 'Liberation Serif', serif;color:#111;text-decoration:underline;text-underline-offset:4px;text-decoration-thickness:1.3px;">4.3</div><div class="t" style="left:-883.8px;width:6000px;text-align:center;top:2662.7px;font:400 27.2px/1 'Liberation Serif', serif;color:#111;text-decoration:underline;text-underline-offset:4px;text-decoration-thickness:1.3px;">88.0%</div><div class="t" style="left:-805.6px;width:6000px;text-align:center;top:2662.7px;font:400 27.2px/1 'Liberation Serif', serif;color:#111;text-decoration:underline;text-underline-offset:4px;text-decoration-thickness:1.3px;">4.2</div><div class="t" style="left:-723.7px;width:6000px;text-align:center;top:2662.7px;font:400 27.2px/1 'Liberation Serif', serif;color:#111;text-decoration:underline;text-underline-offset:4px;text-decoration-thickness:1.3px;">79.4%</div><div class="t" style="left:-639.6px;width:6000px;text-align:center;top:2662.7px;font:400 27.2px/1 'Liberation Serif', serif;color:#111;font-weight:700;">3.8</div><div class="t" style="left:-552.5px;width:6000px;text-align:center;top:2662.7px;font:400 27.2px/1 'Liberation Serif', serif;color:#111;">40.0%</div><div class="t" style="left:-472.8px;width:6000px;text-align:center;top:2662.7px;font:400 27.2px/1 'Liberation Serif', serif;color:#111;">3.2</div><div class="t" style="left:1637.0px;top:2698.6px;font:400 27.2px/1 'Liberation Serif', serif;color:#111;"><span style="letter-spacing:0.85px">Q<span style="font-size:0.8em">U</span>A<span style="font-size:0.8em">DA</span></span></div><div class="t" style="left:-1204.6px;width:6000px;text-align:center;top:2698.6px;font:400 27.2px/1 'Liberation Serif', serif;color:#111;font-weight:700;">96.0%</div><div class="t" style="left:-1125.7px;width:6000px;text-align:center;top:2698.6px;font:400 27.2px/1 'Liberation Serif', serif;color:#111;font-weight:700;">4.5</div><div class="t" style="left:-1043.8px;width:6000px;text-align:center;top:2698.6px;font:400 27.2px/1 'Liberation Serif', serif;color:#111;font-weight:700;">98.2%</div><div class="t" style="left:-965.7px;width:6000px;text-align:center;top:2698.6px;font:400 27.2px/1 'Liberation Serif', serif;color:#111;font-weight:700;">4.4</div><div class="t" style="left:-883.8px;width:6000px;text-align:center;top:2698.6px;font:400 27.2px/1 'Liberation Serif', serif;color:#111;font-weight:700;">93.2%</div><div class="t" style="left:-805.6px;width:6000px;text-align:center;top:2698.6px;font:400 27.2px/1 'Liberation Serif', serif;color:#111;font-weight:700;">4.4</div><div class="t" style="left:-723.7px;width:6000px;text-align:center;top:2698.6px;font:400 27.2px/1 'Liberation Serif', serif;color:#111;font-weight:700;">82.6%</div><div class="t" style="left:-639.6px;width:6000px;text-align:center;top:2698.6px;font:400 27.2px/1 'Liberation Serif', serif;color:#111;font-weight:700;">3.8</div><div class="t" style="left:-552.5px;width:6000px;text-align:center;top:2698.6px;font:400 27.2px/1 'Liberation Serif', serif;color:#111;font-weight:700;">94.8%</div><div class="t" style="left:-472.8px;width:6000px;text-align:center;top:2698.6px;font:400 27.2px/1 'Liberation Serif', serif;color:#111;text-decoration:underline;text-underline-offset:4px;text-decoration-thickness:1.3px;">3.8</div><div class="t" style="left:-1435.4px;width:6000px;text-align:center;top:2499.9px;font:400 27.2px/1 'Liberation Serif', serif;color:#111;">Untrained</div><div class="t" style="left:-1435.4px;width:6000px;text-align:center;top:2629.4px;font:400 27.2px/1 'Liberation Serif', serif;color:#111;">Training</div><div class="t" style="left:-1435.4px;width:6000px;text-align:center;top:2659.9px;font:400 27.2px/1 'Liberation Serif', serif;color:#111;">Based</div><svg class="a" style="left:2719.5px;top:1727px" width="1528.8000000000002" height="1041.8000000000002" viewBox="2719.5 1727 1528.8000000000002 1041.8000000000002"><path d="M2936.7 1729 H2786.5 A65 65 0 0 0 2721.5 1794 V2701.8 A65 65 0 0 0 2786.5 2766.8 H4181.3 A65 65 0 0 0 4246.3 2701.8 V1794 A65 65 0 0 0 4181.3 1729 H4101.3" fill="none" stroke="#1f58c4" stroke-width="1.6"/></svg><div class="t" style="left:2990.9px;top:1691.5px;font:700 55.85px/1 'Liberation Sans', sans-serif;color:#c00000;">Quotation-Centric Dataset Construction</div><div class="t" style="left:483.3px;width:6000px;text-align:center;top:1770.4px;font:700 40px/1 'Liberation Sans', sans-serif;color:#000;">Table 1: Attributes for data generation.</div><div class="a" style="left:2953.2px;top:1835.3px;width:1057.9px;height:2.7px;background:#111;"></div><div class="a" style="left:2953.2px;top:1907.3px;width:1057.9px;height:1.5px;background:#111;"></div><div class="a" style="left:2953.2px;top:2229.7px;width:1057.9px;height:2.7px;background:#111;"></div><div class="t" style="left:2979.5px;top:1848.6px;font:700 44px/1 'Liberation Serif', serif;color:#111;">Category</div><div class="t" style="left:3365.0px;top:1848.6px;font:700 44px/1 'Liberation Serif', serif;color:#111;">Values / range</div><div class="t" style="left:2979.5px;top:1920.0px;font:400 44px/1 'Liberation Serif', serif;color:#111;">Topic</div><div class="t" style="left:3363.0px;top:1920.0px;font:400 44px/1 'Liberation Serif', serif;color:#111;">102 topics (67 train / 35 test)</div><div class="t" style="left:2979.5px;top:1968.8px;font:400 44px/1 'Liberation Serif', serif;color:#111;">Tone</div><div class="t" style="left:3363.0px;top:1968.8px;font:400 44px/1 'Liberation Serif', serif;color:#111;">{neutral, informal, persuasive, <span style="letter-spacing:-2.8px">. . . </span>}</div><div class="t" style="left:2979.5px;top:2017.2px;font:400 44px/1 'Liberation Serif', serif;color:#111;">History length</div><div class="t" style="left:3363.0px;top:2017.2px;font:400 44px/1 'Liberation Serif', serif;color:#111;">1–10 turns</div><div class="t" style="left:2979.5px;top:2066.5px;font:400 44px/1 'Liberation Serif', serif;color:#111;">Information points</div><div class="t" style="left:3363.0px;top:2066.5px;font:400 44px/1 'Liberation Serif', serif;color:#111;">2–10 per conversation</div><div class="t" style="left:2979.5px;top:2113.8px;font:400 44px/1 'Liberation Serif', serif;color:#111;">Task</div><div class="t" style="left:3363.0px;top:2113.8px;font:400 44px/1 'Liberation Serif', serif;color:#111;">{summarize, compare, rank, <span style="letter-spacing:-2.8px">. . . </span>}</div><div class="t" style="left:2979.5px;top:2171.7px;font:400 44px/1 'Liberation Serif', serif;color:#111;">Span length</div><div class="t" style="left:3363.0px;top:2171.7px;font:400 44px/1 'Liberation Serif', serif;color:#111;">{word, sentence, paragraph}</div><div class="t" style="left:482.5px;width:6000px;text-align:center;top:2276.8px;font:700 40px/1 'Liberation Sans', sans-serif;color:#000;">Table 2: Number of samples per scenario.</div><div class="a" style="left:2801.4px;top:2352.2px;width:1376.6px;height:2.8px;background:#111;"></div><div class="a" style="left:3103.5px;top:2419.7px;width:547.0px;height:1.4px;background:#222;"></div><div class="a" style="left:3691.8px;top:2419.7px;width:465.8px;height:1.4px;background:#222;"></div><div class="a" style="left:2801.4px;top:2485.8px;width:1376.6px;height:1.4px;background:#111;"></div><div class="a" style="left:2801.4px;top:2731.6px;width:1376.6px;height:2.8px;background:#111;"></div><div class="t" style="left:2826.0px;top:2388.5px;font:400 40.7px/1 'Liberation Serif', serif;color:#111;">Scenario</div><div class="t" style="left:376.0px;width:6000px;text-align:center;top:2365.9px;font:400 40.7px/1 'Liberation Serif', serif;color:#111;">Training set</div><div class="t" style="left:923.3px;width:6000px;text-align:center;top:2365.9px;font:400 40.7px/1 'Liberation Serif', serif;color:#111;">Benchmark</div><div class="t" style="left:153.0px;width:6000px;text-align:center;top:2431.4px;font:400 40.7px/1 'Liberation Serif', serif;color:#111;">MCQ</div><div class="t" style="left:352.0px;width:6000px;text-align:center;top:2431.4px;font:400 40.7px/1 'Liberation Serif', serif;color:#111;">Open-Ended</div><div class="t" style="left:546.8px;width:6000px;text-align:center;top:2431.4px;font:400 40.7px/1 'Liberation Serif', serif;color:#111;">Total</div><div class="t" style="left:716.6px;width:6000px;text-align:center;top:2431.4px;font:400 40.7px/1 'Liberation Serif', serif;color:#111;">MCQ</div><div class="t" style="left:915.7px;width:6000px;text-align:center;top:2431.4px;font:400 40.7px/1 'Liberation Serif', serif;color:#111;">Open-Ended</div><div class="t" style="left:1111.0px;width:6000px;text-align:center;top:2431.4px;font:400 40.7px/1 'Liberation Serif', serif;color:#111;">Total</div><div class="t" style="left:2826.0px;top:2497.5px;font:400 40.7px/1 'Liberation Serif', serif;color:#111;">Base</div><div class="t" style="left:153.0px;width:6000px;text-align:center;top:2497.5px;font:400 40.7px/1 'Liberation Serif', serif;color:#111;">2200</div><div class="t" style="left:352.0px;width:6000px;text-align:center;top:2497.5px;font:400 40.7px/1 'Liberation Serif', serif;color:#111;">2200</div><div class="t" style="left:546.8px;width:6000px;text-align:center;top:2497.5px;font:400 40.7px/1 'Liberation Serif', serif;color:#111;">4400</div><div class="t" style="left:716.6px;width:6000px;text-align:center;top:2497.5px;font:400 40.7px/1 'Liberation Serif', serif;color:#111;">500</div><div class="t" style="left:915.7px;width:6000px;text-align:center;top:2497.5px;font:400 40.7px/1 'Liberation Serif', serif;color:#111;">500</div><div class="t" style="left:1111.0px;width:6000px;text-align:center;top:2497.5px;font:400 40.7px/1 'Liberation Serif', serif;color:#111;">1000</div><div class="t" style="left:2826.0px;top:2542.6px;font:400 40.7px/1 'Liberation Serif', serif;color:#111;">Multi-Span</div><div class="t" style="left:153.0px;width:6000px;text-align:center;top:2542.6px;font:400 40.7px/1 'Liberation Serif', serif;color:#111;">2400</div><div class="t" style="left:352.0px;width:6000px;text-align:center;top:2542.6px;font:400 40.7px/1 'Liberation Serif', serif;color:#111;">2400</div><div class="t" style="left:546.8px;width:6000px;text-align:center;top:2542.6px;font:400 40.7px/1 'Liberation Serif', serif;color:#111;">4800</div><div class="t" style="left:716.6px;width:6000px;text-align:center;top:2542.6px;font:400 40.7px/1 'Liberation Serif', serif;color:#111;">500</div><div class="t" style="left:915.7px;width:6000px;text-align:center;top:2542.6px;font:400 40.7px/1 'Liberation Serif', serif;color:#111;">500</div><div class="t" style="left:1111.0px;width:6000px;text-align:center;top:2542.6px;font:400 40.7px/1 'Liberation Serif', serif;color:#111;">1000</div><div class="t" style="left:2826.0px;top:2587.4px;font:400 40.7px/1 'Liberation Serif', serif;color:#111;">Exclude</div><div class="t" style="left:153.0px;width:6000px;text-align:center;top:2587.4px;font:400 40.7px/1 'Liberation Serif', serif;color:#111;">2400</div><div class="t" style="left:352.0px;width:6000px;text-align:center;top:2587.4px;font:400 40.7px/1 'Liberation Serif', serif;color:#111;">2400</div><div class="t" style="left:546.8px;width:6000px;text-align:center;top:2587.4px;font:400 40.7px/1 'Liberation Serif', serif;color:#111;">4800</div><div class="t" style="left:716.6px;width:6000px;text-align:center;top:2587.4px;font:400 40.7px/1 'Liberation Serif', serif;color:#111;">500</div><div class="t" style="left:915.7px;width:6000px;text-align:center;top:2587.4px;font:400 40.7px/1 'Liberation Serif', serif;color:#111;">500</div><div class="t" style="left:1111.0px;width:6000px;text-align:center;top:2587.4px;font:400 40.7px/1 'Liberation Serif', serif;color:#111;">1000</div><div class="t" style="left:2826.0px;top:2632.7px;font:400 40.7px/1 'Liberation Serif', serif;color:#111;">Info-Combine</div><div class="t" style="left:153.0px;width:6000px;text-align:center;top:2632.7px;font:400 40.7px/1 'Liberation Serif', serif;color:#111;">2300</div><div class="t" style="left:352.0px;width:6000px;text-align:center;top:2632.7px;font:400 40.7px/1 'Liberation Serif', serif;color:#111;">2300</div><div class="t" style="left:546.8px;width:6000px;text-align:center;top:2632.7px;font:400 40.7px/1 'Liberation Serif', serif;color:#111;">4600</div><div class="t" style="left:716.6px;width:6000px;text-align:center;top:2632.7px;font:400 40.7px/1 'Liberation Serif', serif;color:#111;">500</div><div class="t" style="left:915.7px;width:6000px;text-align:center;top:2632.7px;font:400 40.7px/1 'Liberation Serif', serif;color:#111;">500</div><div class="t" style="left:1111.0px;width:6000px;text-align:center;top:2632.7px;font:400 40.7px/1 'Liberation Serif', serif;color:#111;">1000</div><div class="t" style="left:2826.0px;top:2676.3px;font:400 40.7px/1 'Liberation Serif', serif;color:#111;">Coref</div><div class="t" style="left:153.0px;width:6000px;text-align:center;top:2676.3px;font:400 40.7px/1 'Liberation Serif', serif;color:#111;">2200</div><div class="t" style="left:352.0px;width:6000px;text-align:center;top:2676.3px;font:400 40.7px/1 'Liberation Serif', serif;color:#111;">2200</div><div class="t" style="left:546.8px;width:6000px;text-align:center;top:2676.3px;font:400 40.7px/1 'Liberation Serif', serif;color:#111;">4400</div><div class="t" style="left:716.6px;width:6000px;text-align:center;top:2676.3px;font:400 40.7px/1 'Liberation Serif', serif;color:#111;">500</div><div class="t" style="left:915.7px;width:6000px;text-align:center;top:2676.3px;font:400 40.7px/1 'Liberation Serif', serif;color:#111;">500</div><div class="t" style="left:1111.0px;width:6000px;text-align:center;top:2676.3px;font:400 40.7px/1 'Liberation Serif', serif;color:#111;">1000</div></body></html>
